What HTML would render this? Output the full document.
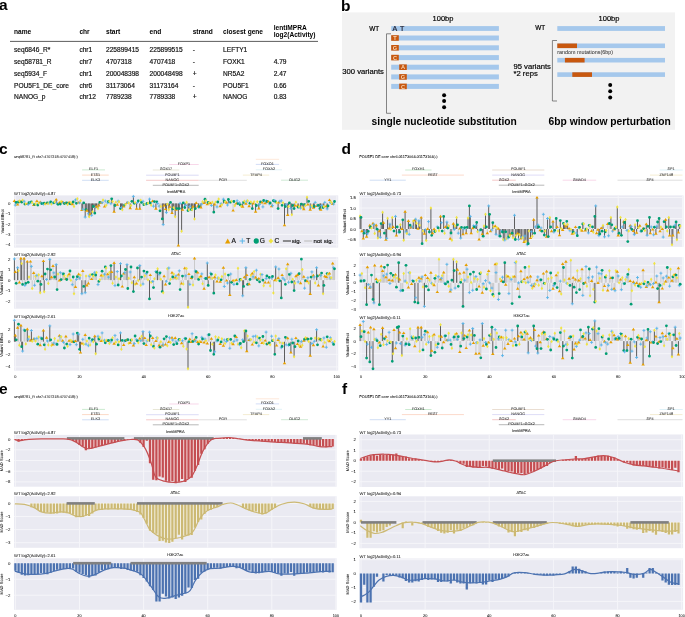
<!DOCTYPE html>
<html><head><meta charset="utf-8"><style>
html,body{margin:0;padding:0;background:#fff;overflow:hidden;width:685px;height:617px;}
svg{display:block;font-family:"Liberation Sans", sans-serif;will-change:transform;}
.s{text-rendering:geometricPrecision;}
</style></head><body>
<svg width="685" height="617" viewBox="0 0 685 617">
<rect x="0" y="0" width="685" height="617" fill="#fff"/>
<text x="-1.10" y="9.50" font-size="15.5" text-anchor="start" font-weight="bold" fill="#000">a</text>
<text x="14.00" y="33.60" font-size="6.6" text-anchor="start" font-weight="bold" fill="#000">name</text>
<text x="79.40" y="33.60" font-size="6.6" text-anchor="start" font-weight="bold" fill="#000">chr</text>
<text x="106.00" y="33.60" font-size="6.6" text-anchor="start" font-weight="bold" fill="#000">start</text>
<text x="149.60" y="33.60" font-size="6.6" text-anchor="start" font-weight="bold" fill="#000">end</text>
<text x="192.70" y="33.60" font-size="6.6" text-anchor="start" font-weight="bold" fill="#000">strand</text>
<text x="223.10" y="33.60" font-size="6.6" text-anchor="start" font-weight="bold" fill="#000">closest gene</text>
<text x="273.70" y="29.90" font-size="6.6" text-anchor="start" font-weight="bold" fill="#000">lentiMPRA</text>
<text x="273.70" y="37.00" font-size="6.6" text-anchor="start" font-weight="bold" fill="#000">log2(Activity)</text>
<line x1="10.00" y1="41.40" x2="318.00" y2="41.40" stroke="#333" stroke-width="0.8"/>
<text x="14.00" y="52.20" font-size="6.6" text-anchor="start" stroke="#111" stroke-width="0.18" fill="#111">seq6846_R*</text>
<text x="79.40" y="52.20" font-size="6.6" text-anchor="start" stroke="#111" stroke-width="0.18" fill="#111">chr1</text>
<text x="106.00" y="52.20" font-size="6.6" text-anchor="start" stroke="#111" stroke-width="0.18" fill="#111">225899415</text>
<text x="149.60" y="52.20" font-size="6.6" text-anchor="start" stroke="#111" stroke-width="0.18" fill="#111">225899515</text>
<text x="192.70" y="52.20" font-size="6.6" text-anchor="start" stroke="#111" stroke-width="0.18" fill="#111">-</text>
<text x="223.10" y="52.20" font-size="6.6" text-anchor="start" stroke="#111" stroke-width="0.18" fill="#111">LEFTY1</text>
<text x="14.00" y="64.00" font-size="6.6" text-anchor="start" stroke="#111" stroke-width="0.18" fill="#111">seq58781_R</text>
<text x="79.40" y="64.00" font-size="6.6" text-anchor="start" stroke="#111" stroke-width="0.18" fill="#111">chr7</text>
<text x="106.00" y="64.00" font-size="6.6" text-anchor="start" stroke="#111" stroke-width="0.18" fill="#111">4707318</text>
<text x="149.60" y="64.00" font-size="6.6" text-anchor="start" stroke="#111" stroke-width="0.18" fill="#111">4707418</text>
<text x="192.70" y="64.00" font-size="6.6" text-anchor="start" stroke="#111" stroke-width="0.18" fill="#111">-</text>
<text x="223.10" y="64.00" font-size="6.6" text-anchor="start" stroke="#111" stroke-width="0.18" fill="#111">FOXK1</text>
<text x="273.70" y="64.00" font-size="6.6" text-anchor="start" stroke="#111" stroke-width="0.18" fill="#111">4.79</text>
<text x="14.00" y="75.80" font-size="6.6" text-anchor="start" stroke="#111" stroke-width="0.18" fill="#111">seq5934_F</text>
<text x="79.40" y="75.80" font-size="6.6" text-anchor="start" stroke="#111" stroke-width="0.18" fill="#111">chr1</text>
<text x="106.00" y="75.80" font-size="6.6" text-anchor="start" stroke="#111" stroke-width="0.18" fill="#111">200048398</text>
<text x="149.60" y="75.80" font-size="6.6" text-anchor="start" stroke="#111" stroke-width="0.18" fill="#111">200048498</text>
<text x="192.70" y="75.80" font-size="6.6" text-anchor="start" stroke="#111" stroke-width="0.18" fill="#111">+</text>
<text x="223.10" y="75.80" font-size="6.6" text-anchor="start" stroke="#111" stroke-width="0.18" fill="#111">NR5A2</text>
<text x="273.70" y="75.80" font-size="6.6" text-anchor="start" stroke="#111" stroke-width="0.18" fill="#111">2.47</text>
<text x="14.00" y="87.50" font-size="6.6" text-anchor="start" stroke="#111" stroke-width="0.18" fill="#111">POU5F1_DE_core</text>
<text x="79.40" y="87.50" font-size="6.6" text-anchor="start" stroke="#111" stroke-width="0.18" fill="#111">chr6</text>
<text x="106.00" y="87.50" font-size="6.6" text-anchor="start" stroke="#111" stroke-width="0.18" fill="#111">31173064</text>
<text x="149.60" y="87.50" font-size="6.6" text-anchor="start" stroke="#111" stroke-width="0.18" fill="#111">31173164</text>
<text x="192.70" y="87.50" font-size="6.6" text-anchor="start" stroke="#111" stroke-width="0.18" fill="#111">-</text>
<text x="223.10" y="87.50" font-size="6.6" text-anchor="start" stroke="#111" stroke-width="0.18" fill="#111">POU5F1</text>
<text x="273.70" y="87.50" font-size="6.6" text-anchor="start" stroke="#111" stroke-width="0.18" fill="#111">0.66</text>
<text x="14.00" y="98.90" font-size="6.6" text-anchor="start" stroke="#111" stroke-width="0.18" fill="#111">NANOG_p</text>
<text x="79.40" y="98.90" font-size="6.6" text-anchor="start" stroke="#111" stroke-width="0.18" fill="#111">chr12</text>
<text x="106.00" y="98.90" font-size="6.6" text-anchor="start" stroke="#111" stroke-width="0.18" fill="#111">7789238</text>
<text x="149.60" y="98.90" font-size="6.6" text-anchor="start" stroke="#111" stroke-width="0.18" fill="#111">7789338</text>
<text x="192.70" y="98.90" font-size="6.6" text-anchor="start" stroke="#111" stroke-width="0.18" fill="#111">+</text>
<text x="223.10" y="98.90" font-size="6.6" text-anchor="start" stroke="#111" stroke-width="0.18" fill="#111">NANOG</text>
<text x="273.70" y="98.90" font-size="6.6" text-anchor="start" stroke="#111" stroke-width="0.18" fill="#111">0.83</text>
<text x="341.00" y="10.80" font-size="15.5" text-anchor="start" font-weight="bold" fill="#000">b</text>
<rect x="342.00" y="12.40" width="333.00" height="117.40" fill="#f2f2f2"/>
<text x="443.00" y="20.70" font-size="7.5" text-anchor="middle" stroke="#000" stroke-width="0.18" fill="#000">100bp</text>
<text x="369.30" y="30.60" font-size="6.4" text-anchor="start" stroke="#000" stroke-width="0.18" fill="#000">WT</text>
<rect x="391.20" y="26.10" width="107.70" height="4.80" fill="#a5c8ec"/>
<text x="392.60" y="31.00" font-size="7.0" text-anchor="start" stroke="#1a1a2a" stroke-width="0.18" fill="#1a1a2a">A</text>
<text x="400.00" y="31.00" font-size="7.0" text-anchor="start" stroke="#1a1a2a" stroke-width="0.18" fill="#1a1a2a">T</text>
<rect x="391.20" y="35.50" width="107.70" height="5.00" fill="#a5c8ec"/>
<rect x="391.20" y="35.20" width="7.60" height="5.60" fill="#c8580f"/>
<text x="395.00" y="40.10" font-size="5.6" text-anchor="middle" font-weight="bold" fill="#f6d7b8">T</text>
<rect x="391.20" y="45.30" width="107.70" height="5.00" fill="#a5c8ec"/>
<rect x="391.20" y="45.00" width="7.60" height="5.60" fill="#c8580f"/>
<text x="395.00" y="49.90" font-size="5.6" text-anchor="middle" font-weight="bold" fill="#f6d7b8">G</text>
<rect x="391.20" y="55.10" width="107.70" height="5.00" fill="#a5c8ec"/>
<rect x="391.20" y="54.80" width="7.60" height="5.60" fill="#c8580f"/>
<text x="395.00" y="59.70" font-size="5.6" text-anchor="middle" font-weight="bold" fill="#f6d7b8">C</text>
<rect x="391.20" y="64.70" width="107.70" height="5.00" fill="#a5c8ec"/>
<rect x="399.20" y="64.40" width="7.60" height="5.60" fill="#c8580f"/>
<text x="403.00" y="69.30" font-size="5.6" text-anchor="middle" font-weight="bold" fill="#f6d7b8">A</text>
<rect x="391.20" y="74.40" width="107.70" height="5.00" fill="#a5c8ec"/>
<rect x="399.20" y="74.10" width="7.60" height="5.60" fill="#c8580f"/>
<text x="403.00" y="79.00" font-size="5.6" text-anchor="middle" font-weight="bold" fill="#f6d7b8">G</text>
<rect x="391.20" y="83.90" width="107.70" height="5.00" fill="#a5c8ec"/>
<rect x="399.20" y="83.60" width="7.60" height="5.60" fill="#c8580f"/>
<text x="403.00" y="88.50" font-size="5.6" text-anchor="middle" font-weight="bold" fill="#f6d7b8">C</text>
<path d="M391 33.8 H386.5 V113.3 H391" fill="none" stroke="#555" stroke-width="0.7"/>
<text x="342.30" y="73.70" font-size="7.65" text-anchor="start" stroke="#000" stroke-width="0.18" fill="#000">300 variants</text>
<circle cx="444.10" cy="95.20" r="2.00" fill="#000"/>
<circle cx="444.10" cy="101.10" r="2.00" fill="#000"/>
<circle cx="444.10" cy="107.20" r="2.00" fill="#000"/>
<text x="444.20" y="125.20" font-size="10.26" text-anchor="middle" font-weight="bold" fill="#000">single nucleotide substitution</text>
<text x="609.00" y="20.70" font-size="7.5" text-anchor="middle" stroke="#000" stroke-width="0.18" fill="#000">100bp</text>
<text x="535.30" y="30.40" font-size="6.4" text-anchor="start" stroke="#000" stroke-width="0.18" fill="#000">WT</text>
<rect x="557.30" y="26.10" width="107.70" height="4.80" fill="#a5c8ec"/>
<path d="M557 40.5 H552.4 V101 H557" fill="none" stroke="#555" stroke-width="0.7"/>
<rect x="557.30" y="43.50" width="107.70" height="4.60" fill="#a5c8ec"/>
<rect x="557.30" y="43.50" width="19.70" height="4.60" fill="#c8580f"/>
<rect x="557.30" y="57.90" width="107.70" height="4.60" fill="#a5c8ec"/>
<rect x="564.90" y="57.90" width="19.70" height="4.60" fill="#c8580f"/>
<rect x="557.30" y="72.30" width="107.70" height="4.60" fill="#a5c8ec"/>
<rect x="572.30" y="72.30" width="19.70" height="4.60" fill="#c8580f"/>
<text x="557.30" y="53.80" font-size="5.4" text-anchor="start" fill="#222" >random mutations(6bp)</text>
<text x="513.50" y="68.80" font-size="7.65" text-anchor="start" stroke="#000" stroke-width="0.18" fill="#000">95 variants</text>
<text x="513.50" y="76.30" font-size="7.65" text-anchor="start" stroke="#000" stroke-width="0.18" fill="#000">*2 reps</text>
<circle cx="610.20" cy="85.00" r="2.00" fill="#000"/>
<circle cx="610.20" cy="91.20" r="2.00" fill="#000"/>
<circle cx="610.20" cy="97.60" r="2.00" fill="#000"/>
<text x="609.70" y="125.20" font-size="10.29" text-anchor="middle" font-weight="bold" fill="#000">6bp window perturbation</text>
<text x="-1.10" y="154.10" font-size="15.5" text-anchor="start" font-weight="bold" fill="#000">c</text>
<text x="341.60" y="153.80" font-size="15.5" text-anchor="start" font-weight="bold" fill="#000">d</text>
<text x="-1.10" y="393.70" font-size="15.5" text-anchor="start" font-weight="bold" fill="#000">e</text>
<text x="341.90" y="393.80" font-size="15.5" text-anchor="start" font-weight="bold" fill="#000">f</text>
<text x="14.00" y="157.90" font-size="3.7" text-anchor="start" class="s" stroke="#111" stroke-width="0.05" fill="#111">seq58781_R chr7:4707318-4707418(-)</text>
<text x="359.20" y="157.90" font-size="3.85" text-anchor="start" class="s" stroke="#111" stroke-width="0.05" fill="#111">POU5F1 DE core chr6:31173064-31173164(-)</text>
<text x="14.00" y="397.60" font-size="3.7" text-anchor="start" class="s" stroke="#111" stroke-width="0.05" fill="#111">seq58781_R chr7:4707318-4707418(-)</text>
<text x="359.20" y="397.60" font-size="3.85" text-anchor="start" class="s" stroke="#111" stroke-width="0.05" fill="#111">POU5F1 DE core chr6:31173064-31173164(-)</text>
<rect x="14.00" y="195.40" width="324.20" height="52.20" fill="#eaeaf2"/>
<line x1="14.00" y1="203.40" x2="338.20" y2="203.40" stroke="#f5f5f9" stroke-width="1.0"/>
<line x1="14.00" y1="213.75" x2="338.20" y2="213.75" stroke="#f5f5f9" stroke-width="1.0"/>
<line x1="14.00" y1="224.10" x2="338.20" y2="224.10" stroke="#f5f5f9" stroke-width="1.0"/>
<line x1="14.00" y1="234.45" x2="338.20" y2="234.45" stroke="#f5f5f9" stroke-width="1.0"/>
<line x1="14.00" y1="244.80" x2="338.20" y2="244.80" stroke="#f5f5f9" stroke-width="1.0"/>
<line x1="15.30" y1="195.40" x2="15.30" y2="247.60" stroke="#f5f5f9" stroke-width="1.0"/>
<line x1="79.60" y1="195.40" x2="79.60" y2="247.60" stroke="#f5f5f9" stroke-width="1.0"/>
<line x1="143.90" y1="195.40" x2="143.90" y2="247.60" stroke="#f5f5f9" stroke-width="1.0"/>
<line x1="208.20" y1="195.40" x2="208.20" y2="247.60" stroke="#f5f5f9" stroke-width="1.0"/>
<line x1="272.50" y1="195.40" x2="272.50" y2="247.60" stroke="#f5f5f9" stroke-width="1.0"/>
<line x1="336.80" y1="195.40" x2="336.80" y2="247.60" stroke="#f5f5f9" stroke-width="1.0"/>
<text x="10.40" y="204.90" font-size="4.3" text-anchor="end" class="s" stroke="#111" stroke-width="0.05" fill="#111">0</text>
<text x="10.40" y="215.25" font-size="4.3" text-anchor="end" class="s" stroke="#111" stroke-width="0.05" fill="#111">−1</text>
<text x="10.40" y="225.60" font-size="4.3" text-anchor="end" class="s" stroke="#111" stroke-width="0.05" fill="#111">−2</text>
<text x="10.40" y="235.95" font-size="4.3" text-anchor="end" class="s" stroke="#111" stroke-width="0.05" fill="#111">−3</text>
<text x="10.40" y="246.30" font-size="4.3" text-anchor="end" class="s" stroke="#111" stroke-width="0.05" fill="#111">−4</text>
<text x="176.10" y="193.30" font-size="3.9" text-anchor="middle" class="s" stroke="#111" stroke-width="0.05" fill="#111">lentiMPRA</text>
<text x="14.00" y="194.50" font-size="4.14" text-anchor="start" class="s" stroke="#111" stroke-width="0.05" fill="#111">WT log2(Activity)=4.87</text>
<text x="3.50" y="221.50" font-size="4.1" text-anchor="middle" class="s" stroke="#111" stroke-width="0.05" fill="#111" transform="rotate(-90 3.50 221.50)">Variant Effect</text>
<rect x="359.50" y="195.40" width="324.00" height="51.50" fill="#eaeaf2"/>
<line x1="359.50" y1="197.50" x2="683.50" y2="197.50" stroke="#f5f5f9" stroke-width="1.0"/>
<line x1="359.50" y1="208.00" x2="683.50" y2="208.00" stroke="#f5f5f9" stroke-width="1.0"/>
<line x1="359.50" y1="218.50" x2="683.50" y2="218.50" stroke="#f5f5f9" stroke-width="1.0"/>
<line x1="359.50" y1="229.00" x2="683.50" y2="229.00" stroke="#f5f5f9" stroke-width="1.0"/>
<line x1="359.50" y1="239.50" x2="683.50" y2="239.50" stroke="#f5f5f9" stroke-width="1.0"/>
<line x1="361.00" y1="195.40" x2="361.00" y2="246.90" stroke="#f5f5f9" stroke-width="1.0"/>
<line x1="425.30" y1="195.40" x2="425.30" y2="246.90" stroke="#f5f5f9" stroke-width="1.0"/>
<line x1="489.60" y1="195.40" x2="489.60" y2="246.90" stroke="#f5f5f9" stroke-width="1.0"/>
<line x1="553.90" y1="195.40" x2="553.90" y2="246.90" stroke="#f5f5f9" stroke-width="1.0"/>
<line x1="618.20" y1="195.40" x2="618.20" y2="246.90" stroke="#f5f5f9" stroke-width="1.0"/>
<line x1="682.50" y1="195.40" x2="682.50" y2="246.90" stroke="#f5f5f9" stroke-width="1.0"/>
<text x="355.90" y="199.00" font-size="4.3" text-anchor="end" class="s" stroke="#111" stroke-width="0.05" fill="#111">1.5</text>
<text x="355.90" y="209.50" font-size="4.3" text-anchor="end" class="s" stroke="#111" stroke-width="0.05" fill="#111">1.0</text>
<text x="355.90" y="220.00" font-size="4.3" text-anchor="end" class="s" stroke="#111" stroke-width="0.05" fill="#111">0.5</text>
<text x="355.90" y="230.50" font-size="4.3" text-anchor="end" class="s" stroke="#111" stroke-width="0.05" fill="#111">0.0</text>
<text x="355.90" y="241.00" font-size="4.3" text-anchor="end" class="s" stroke="#111" stroke-width="0.05" fill="#111">−0.5</text>
<text x="521.50" y="193.30" font-size="3.9" text-anchor="middle" class="s" stroke="#111" stroke-width="0.05" fill="#111">lentiMPRA</text>
<text x="359.50" y="194.50" font-size="4.14" text-anchor="start" class="s" stroke="#111" stroke-width="0.05" fill="#111">WT log2(Activity)=0.73</text>
<text x="345.60" y="221.15" font-size="4.1" text-anchor="middle" class="s" stroke="#111" stroke-width="0.05" fill="#111" transform="rotate(-90 345.60 221.15)">Variant Effect</text>
<rect x="14.00" y="434.90" width="322.60" height="51.80" fill="#eaeaf2"/>
<line x1="14.00" y1="439.10" x2="336.60" y2="439.10" stroke="#f5f5f9" stroke-width="1.0"/>
<line x1="14.00" y1="449.80" x2="336.60" y2="449.80" stroke="#f5f5f9" stroke-width="1.0"/>
<line x1="14.00" y1="460.50" x2="336.60" y2="460.50" stroke="#f5f5f9" stroke-width="1.0"/>
<line x1="14.00" y1="471.20" x2="336.60" y2="471.20" stroke="#f5f5f9" stroke-width="1.0"/>
<line x1="14.00" y1="481.90" x2="336.60" y2="481.90" stroke="#f5f5f9" stroke-width="1.0"/>
<line x1="15.40" y1="434.90" x2="15.40" y2="486.70" stroke="#f5f5f9" stroke-width="1.0"/>
<line x1="79.50" y1="434.90" x2="79.50" y2="486.70" stroke="#f5f5f9" stroke-width="1.0"/>
<line x1="143.60" y1="434.90" x2="143.60" y2="486.70" stroke="#f5f5f9" stroke-width="1.0"/>
<line x1="207.70" y1="434.90" x2="207.70" y2="486.70" stroke="#f5f5f9" stroke-width="1.0"/>
<line x1="271.80" y1="434.90" x2="271.80" y2="486.70" stroke="#f5f5f9" stroke-width="1.0"/>
<line x1="335.90" y1="434.90" x2="335.90" y2="486.70" stroke="#f5f5f9" stroke-width="1.0"/>
<text x="10.40" y="440.60" font-size="4.3" text-anchor="end" class="s" stroke="#111" stroke-width="0.05" fill="#111">0</text>
<text x="10.40" y="451.30" font-size="4.3" text-anchor="end" class="s" stroke="#111" stroke-width="0.05" fill="#111">−2</text>
<text x="10.40" y="462.00" font-size="4.3" text-anchor="end" class="s" stroke="#111" stroke-width="0.05" fill="#111">−4</text>
<text x="10.40" y="472.70" font-size="4.3" text-anchor="end" class="s" stroke="#111" stroke-width="0.05" fill="#111">−6</text>
<text x="10.40" y="483.40" font-size="4.3" text-anchor="end" class="s" stroke="#111" stroke-width="0.05" fill="#111">−8</text>
<text x="175.30" y="432.80" font-size="3.9" text-anchor="middle" class="s" stroke="#111" stroke-width="0.05" fill="#111">lentiMPRA</text>
<text x="14.00" y="434.00" font-size="4.14" text-anchor="start" class="s" stroke="#111" stroke-width="0.05" fill="#111">WT log2(Activity)=4.87</text>
<text x="3.50" y="460.80" font-size="4.1" text-anchor="middle" class="s" stroke="#111" stroke-width="0.05" fill="#111" transform="rotate(-90 3.50 460.80)">MAD Score</text>
<rect x="359.50" y="434.50" width="323.60" height="52.50" fill="#eaeaf2"/>
<line x1="359.50" y1="439.70" x2="683.10" y2="439.70" stroke="#f5f5f9" stroke-width="1.0"/>
<line x1="359.50" y1="450.20" x2="683.10" y2="450.20" stroke="#f5f5f9" stroke-width="1.0"/>
<line x1="359.50" y1="460.70" x2="683.10" y2="460.70" stroke="#f5f5f9" stroke-width="1.0"/>
<line x1="359.50" y1="471.20" x2="683.10" y2="471.20" stroke="#f5f5f9" stroke-width="1.0"/>
<line x1="359.50" y1="481.70" x2="683.10" y2="481.70" stroke="#f5f5f9" stroke-width="1.0"/>
<line x1="361.00" y1="434.50" x2="361.00" y2="487.00" stroke="#f5f5f9" stroke-width="1.0"/>
<line x1="425.14" y1="434.50" x2="425.14" y2="487.00" stroke="#f5f5f9" stroke-width="1.0"/>
<line x1="489.28" y1="434.50" x2="489.28" y2="487.00" stroke="#f5f5f9" stroke-width="1.0"/>
<line x1="553.42" y1="434.50" x2="553.42" y2="487.00" stroke="#f5f5f9" stroke-width="1.0"/>
<line x1="617.56" y1="434.50" x2="617.56" y2="487.00" stroke="#f5f5f9" stroke-width="1.0"/>
<line x1="681.70" y1="434.50" x2="681.70" y2="487.00" stroke="#f5f5f9" stroke-width="1.0"/>
<text x="355.90" y="441.20" font-size="4.3" text-anchor="end" class="s" stroke="#111" stroke-width="0.05" fill="#111">2</text>
<text x="355.90" y="451.70" font-size="4.3" text-anchor="end" class="s" stroke="#111" stroke-width="0.05" fill="#111">1</text>
<text x="355.90" y="462.20" font-size="4.3" text-anchor="end" class="s" stroke="#111" stroke-width="0.05" fill="#111">0</text>
<text x="355.90" y="472.70" font-size="4.3" text-anchor="end" class="s" stroke="#111" stroke-width="0.05" fill="#111">−1</text>
<text x="355.90" y="483.20" font-size="4.3" text-anchor="end" class="s" stroke="#111" stroke-width="0.05" fill="#111">−2</text>
<text x="521.30" y="432.40" font-size="3.9" text-anchor="middle" class="s" stroke="#111" stroke-width="0.05" fill="#111">lentiMPRA</text>
<text x="359.50" y="433.60" font-size="4.14" text-anchor="start" class="s" stroke="#111" stroke-width="0.05" fill="#111">WT log2(Activity)=0.73</text>
<text x="349.00" y="460.75" font-size="4.1" text-anchor="middle" class="s" stroke="#111" stroke-width="0.05" fill="#111" transform="rotate(-90 349.00 460.75)">MAD Score</text>
<rect x="14.00" y="257.10" width="324.20" height="51.60" fill="#eaeaf2"/>
<line x1="14.00" y1="259.40" x2="338.20" y2="259.40" stroke="#f5f5f9" stroke-width="1.0"/>
<line x1="14.00" y1="269.80" x2="338.20" y2="269.80" stroke="#f5f5f9" stroke-width="1.0"/>
<line x1="14.00" y1="280.20" x2="338.20" y2="280.20" stroke="#f5f5f9" stroke-width="1.0"/>
<line x1="14.00" y1="290.60" x2="338.20" y2="290.60" stroke="#f5f5f9" stroke-width="1.0"/>
<line x1="14.00" y1="301.00" x2="338.20" y2="301.00" stroke="#f5f5f9" stroke-width="1.0"/>
<line x1="15.30" y1="257.10" x2="15.30" y2="308.70" stroke="#f5f5f9" stroke-width="1.0"/>
<line x1="79.60" y1="257.10" x2="79.60" y2="308.70" stroke="#f5f5f9" stroke-width="1.0"/>
<line x1="143.90" y1="257.10" x2="143.90" y2="308.70" stroke="#f5f5f9" stroke-width="1.0"/>
<line x1="208.20" y1="257.10" x2="208.20" y2="308.70" stroke="#f5f5f9" stroke-width="1.0"/>
<line x1="272.50" y1="257.10" x2="272.50" y2="308.70" stroke="#f5f5f9" stroke-width="1.0"/>
<line x1="336.80" y1="257.10" x2="336.80" y2="308.70" stroke="#f5f5f9" stroke-width="1.0"/>
<text x="10.40" y="260.90" font-size="4.3" text-anchor="end" class="s" stroke="#111" stroke-width="0.05" fill="#111">2</text>
<text x="10.40" y="271.30" font-size="4.3" text-anchor="end" class="s" stroke="#111" stroke-width="0.05" fill="#111">1</text>
<text x="10.40" y="281.70" font-size="4.3" text-anchor="end" class="s" stroke="#111" stroke-width="0.05" fill="#111">0</text>
<text x="10.40" y="292.10" font-size="4.3" text-anchor="end" class="s" stroke="#111" stroke-width="0.05" fill="#111">−1</text>
<text x="10.40" y="302.50" font-size="4.3" text-anchor="end" class="s" stroke="#111" stroke-width="0.05" fill="#111">−2</text>
<text x="176.10" y="255.00" font-size="3.9" text-anchor="middle" class="s" stroke="#111" stroke-width="0.05" fill="#111">ATAC</text>
<text x="14.00" y="256.20" font-size="4.14" text-anchor="start" class="s" stroke="#111" stroke-width="0.05" fill="#111">WT log2(Activity)=2.92</text>
<text x="3.50" y="282.90" font-size="4.1" text-anchor="middle" class="s" stroke="#111" stroke-width="0.05" fill="#111" transform="rotate(-90 3.50 282.90)">Variant Effect</text>
<rect x="359.50" y="257.10" width="324.00" height="51.80" fill="#eaeaf2"/>
<line x1="359.50" y1="265.30" x2="683.50" y2="265.30" stroke="#f5f5f9" stroke-width="1.0"/>
<line x1="359.50" y1="274.05" x2="683.50" y2="274.05" stroke="#f5f5f9" stroke-width="1.0"/>
<line x1="359.50" y1="282.80" x2="683.50" y2="282.80" stroke="#f5f5f9" stroke-width="1.0"/>
<line x1="359.50" y1="291.55" x2="683.50" y2="291.55" stroke="#f5f5f9" stroke-width="1.0"/>
<line x1="359.50" y1="300.30" x2="683.50" y2="300.30" stroke="#f5f5f9" stroke-width="1.0"/>
<line x1="359.50" y1="309.05" x2="683.50" y2="309.05" stroke="#f5f5f9" stroke-width="1.0"/>
<line x1="361.00" y1="257.10" x2="361.00" y2="308.90" stroke="#f5f5f9" stroke-width="1.0"/>
<line x1="425.30" y1="257.10" x2="425.30" y2="308.90" stroke="#f5f5f9" stroke-width="1.0"/>
<line x1="489.60" y1="257.10" x2="489.60" y2="308.90" stroke="#f5f5f9" stroke-width="1.0"/>
<line x1="553.90" y1="257.10" x2="553.90" y2="308.90" stroke="#f5f5f9" stroke-width="1.0"/>
<line x1="618.20" y1="257.10" x2="618.20" y2="308.90" stroke="#f5f5f9" stroke-width="1.0"/>
<line x1="682.50" y1="257.10" x2="682.50" y2="308.90" stroke="#f5f5f9" stroke-width="1.0"/>
<text x="355.90" y="266.80" font-size="4.3" text-anchor="end" class="s" stroke="#111" stroke-width="0.05" fill="#111">2</text>
<text x="355.90" y="275.55" font-size="4.3" text-anchor="end" class="s" stroke="#111" stroke-width="0.05" fill="#111">1</text>
<text x="355.90" y="284.30" font-size="4.3" text-anchor="end" class="s" stroke="#111" stroke-width="0.05" fill="#111">0</text>
<text x="355.90" y="293.05" font-size="4.3" text-anchor="end" class="s" stroke="#111" stroke-width="0.05" fill="#111">−1</text>
<text x="355.90" y="301.80" font-size="4.3" text-anchor="end" class="s" stroke="#111" stroke-width="0.05" fill="#111">−2</text>
<text x="355.90" y="310.55" font-size="4.3" text-anchor="end" class="s" stroke="#111" stroke-width="0.05" fill="#111">−3</text>
<text x="521.50" y="255.00" font-size="3.9" text-anchor="middle" class="s" stroke="#111" stroke-width="0.05" fill="#111">ATAC</text>
<text x="359.50" y="256.20" font-size="4.14" text-anchor="start" class="s" stroke="#111" stroke-width="0.05" fill="#111">WT log2(Activity)=0.94</text>
<text x="348.90" y="283.00" font-size="4.1" text-anchor="middle" class="s" stroke="#111" stroke-width="0.05" fill="#111" transform="rotate(-90 348.90 283.00)">Variant Effect</text>
<rect x="14.00" y="496.30" width="322.60" height="51.50" fill="#eaeaf2"/>
<line x1="14.00" y1="503.40" x2="336.60" y2="503.40" stroke="#f5f5f9" stroke-width="1.0"/>
<line x1="14.00" y1="516.50" x2="336.60" y2="516.50" stroke="#f5f5f9" stroke-width="1.0"/>
<line x1="14.00" y1="529.60" x2="336.60" y2="529.60" stroke="#f5f5f9" stroke-width="1.0"/>
<line x1="14.00" y1="542.70" x2="336.60" y2="542.70" stroke="#f5f5f9" stroke-width="1.0"/>
<line x1="15.40" y1="496.30" x2="15.40" y2="547.80" stroke="#f5f5f9" stroke-width="1.0"/>
<line x1="79.50" y1="496.30" x2="79.50" y2="547.80" stroke="#f5f5f9" stroke-width="1.0"/>
<line x1="143.60" y1="496.30" x2="143.60" y2="547.80" stroke="#f5f5f9" stroke-width="1.0"/>
<line x1="207.70" y1="496.30" x2="207.70" y2="547.80" stroke="#f5f5f9" stroke-width="1.0"/>
<line x1="271.80" y1="496.30" x2="271.80" y2="547.80" stroke="#f5f5f9" stroke-width="1.0"/>
<line x1="335.90" y1="496.30" x2="335.90" y2="547.80" stroke="#f5f5f9" stroke-width="1.0"/>
<text x="10.40" y="504.90" font-size="4.3" text-anchor="end" class="s" stroke="#111" stroke-width="0.05" fill="#111">0</text>
<text x="10.40" y="518.00" font-size="4.3" text-anchor="end" class="s" stroke="#111" stroke-width="0.05" fill="#111">−1</text>
<text x="10.40" y="531.10" font-size="4.3" text-anchor="end" class="s" stroke="#111" stroke-width="0.05" fill="#111">−2</text>
<text x="10.40" y="544.20" font-size="4.3" text-anchor="end" class="s" stroke="#111" stroke-width="0.05" fill="#111">−3</text>
<text x="175.30" y="494.20" font-size="3.9" text-anchor="middle" class="s" stroke="#111" stroke-width="0.05" fill="#111">ATAC</text>
<text x="14.00" y="495.40" font-size="4.14" text-anchor="start" class="s" stroke="#111" stroke-width="0.05" fill="#111">WT log2(Activity)=2.92</text>
<text x="3.50" y="522.05" font-size="4.1" text-anchor="middle" class="s" stroke="#111" stroke-width="0.05" fill="#111" transform="rotate(-90 3.50 522.05)">MAD Score</text>
<rect x="359.50" y="496.30" width="323.60" height="51.90" fill="#eaeaf2"/>
<line x1="359.50" y1="501.40" x2="683.10" y2="501.40" stroke="#f5f5f9" stroke-width="1.0"/>
<line x1="359.50" y1="511.90" x2="683.10" y2="511.90" stroke="#f5f5f9" stroke-width="1.0"/>
<line x1="359.50" y1="522.40" x2="683.10" y2="522.40" stroke="#f5f5f9" stroke-width="1.0"/>
<line x1="359.50" y1="532.90" x2="683.10" y2="532.90" stroke="#f5f5f9" stroke-width="1.0"/>
<line x1="359.50" y1="543.40" x2="683.10" y2="543.40" stroke="#f5f5f9" stroke-width="1.0"/>
<line x1="361.00" y1="496.30" x2="361.00" y2="548.20" stroke="#f5f5f9" stroke-width="1.0"/>
<line x1="425.14" y1="496.30" x2="425.14" y2="548.20" stroke="#f5f5f9" stroke-width="1.0"/>
<line x1="489.28" y1="496.30" x2="489.28" y2="548.20" stroke="#f5f5f9" stroke-width="1.0"/>
<line x1="553.42" y1="496.30" x2="553.42" y2="548.20" stroke="#f5f5f9" stroke-width="1.0"/>
<line x1="617.56" y1="496.30" x2="617.56" y2="548.20" stroke="#f5f5f9" stroke-width="1.0"/>
<line x1="681.70" y1="496.30" x2="681.70" y2="548.20" stroke="#f5f5f9" stroke-width="1.0"/>
<text x="355.90" y="502.90" font-size="4.3" text-anchor="end" class="s" stroke="#111" stroke-width="0.05" fill="#111">2</text>
<text x="355.90" y="513.40" font-size="4.3" text-anchor="end" class="s" stroke="#111" stroke-width="0.05" fill="#111">1</text>
<text x="355.90" y="523.90" font-size="4.3" text-anchor="end" class="s" stroke="#111" stroke-width="0.05" fill="#111">0</text>
<text x="355.90" y="534.40" font-size="4.3" text-anchor="end" class="s" stroke="#111" stroke-width="0.05" fill="#111">−1</text>
<text x="355.90" y="544.90" font-size="4.3" text-anchor="end" class="s" stroke="#111" stroke-width="0.05" fill="#111">−2</text>
<text x="521.30" y="494.20" font-size="3.9" text-anchor="middle" class="s" stroke="#111" stroke-width="0.05" fill="#111">ATAC</text>
<text x="359.50" y="495.40" font-size="4.14" text-anchor="start" class="s" stroke="#111" stroke-width="0.05" fill="#111">WT log2(Activity)=0.94</text>
<text x="349.00" y="522.25" font-size="4.1" text-anchor="middle" class="s" stroke="#111" stroke-width="0.05" fill="#111" transform="rotate(-90 349.00 522.25)">MAD Score</text>
<rect x="14.00" y="319.10" width="324.20" height="51.60" fill="#eaeaf2"/>
<line x1="14.00" y1="329.10" x2="338.20" y2="329.10" stroke="#f5f5f9" stroke-width="1.0"/>
<line x1="14.00" y1="341.70" x2="338.20" y2="341.70" stroke="#f5f5f9" stroke-width="1.0"/>
<line x1="14.00" y1="354.30" x2="338.20" y2="354.30" stroke="#f5f5f9" stroke-width="1.0"/>
<line x1="14.00" y1="366.90" x2="338.20" y2="366.90" stroke="#f5f5f9" stroke-width="1.0"/>
<line x1="15.30" y1="319.10" x2="15.30" y2="370.70" stroke="#f5f5f9" stroke-width="1.0"/>
<line x1="79.60" y1="319.10" x2="79.60" y2="370.70" stroke="#f5f5f9" stroke-width="1.0"/>
<line x1="143.90" y1="319.10" x2="143.90" y2="370.70" stroke="#f5f5f9" stroke-width="1.0"/>
<line x1="208.20" y1="319.10" x2="208.20" y2="370.70" stroke="#f5f5f9" stroke-width="1.0"/>
<line x1="272.50" y1="319.10" x2="272.50" y2="370.70" stroke="#f5f5f9" stroke-width="1.0"/>
<line x1="336.80" y1="319.10" x2="336.80" y2="370.70" stroke="#f5f5f9" stroke-width="1.0"/>
<text x="10.40" y="330.60" font-size="4.3" text-anchor="end" class="s" stroke="#111" stroke-width="0.05" fill="#111">2</text>
<text x="10.40" y="343.20" font-size="4.3" text-anchor="end" class="s" stroke="#111" stroke-width="0.05" fill="#111">0</text>
<text x="10.40" y="355.80" font-size="4.3" text-anchor="end" class="s" stroke="#111" stroke-width="0.05" fill="#111">−2</text>
<text x="10.40" y="368.40" font-size="4.3" text-anchor="end" class="s" stroke="#111" stroke-width="0.05" fill="#111">−4</text>
<text x="15.30" y="377.70" font-size="3.9" text-anchor="middle" class="s" stroke="#111" stroke-width="0.05" fill="#111">0</text>
<text x="79.60" y="377.70" font-size="3.9" text-anchor="middle" class="s" stroke="#111" stroke-width="0.05" fill="#111">20</text>
<text x="143.90" y="377.70" font-size="3.9" text-anchor="middle" class="s" stroke="#111" stroke-width="0.05" fill="#111">40</text>
<text x="208.20" y="377.70" font-size="3.9" text-anchor="middle" class="s" stroke="#111" stroke-width="0.05" fill="#111">60</text>
<text x="272.50" y="377.70" font-size="3.9" text-anchor="middle" class="s" stroke="#111" stroke-width="0.05" fill="#111">80</text>
<text x="336.80" y="377.70" font-size="3.9" text-anchor="middle" class="s" stroke="#111" stroke-width="0.05" fill="#111">100</text>
<text x="176.10" y="317.00" font-size="3.9" text-anchor="middle" class="s" stroke="#111" stroke-width="0.05" fill="#111">H3K27ac</text>
<text x="14.00" y="318.20" font-size="4.14" text-anchor="start" class="s" stroke="#111" stroke-width="0.05" fill="#111">WT log2(Activity)=2.61</text>
<text x="3.50" y="344.90" font-size="4.1" text-anchor="middle" class="s" stroke="#111" stroke-width="0.05" fill="#111" transform="rotate(-90 3.50 344.90)">Variant Effect</text>
<rect x="359.50" y="319.50" width="324.00" height="51.40" fill="#eaeaf2"/>
<line x1="359.50" y1="328.50" x2="683.50" y2="328.50" stroke="#f5f5f9" stroke-width="1.0"/>
<line x1="359.50" y1="341.10" x2="683.50" y2="341.10" stroke="#f5f5f9" stroke-width="1.0"/>
<line x1="359.50" y1="353.70" x2="683.50" y2="353.70" stroke="#f5f5f9" stroke-width="1.0"/>
<line x1="359.50" y1="366.30" x2="683.50" y2="366.30" stroke="#f5f5f9" stroke-width="1.0"/>
<line x1="361.00" y1="319.50" x2="361.00" y2="370.90" stroke="#f5f5f9" stroke-width="1.0"/>
<line x1="425.30" y1="319.50" x2="425.30" y2="370.90" stroke="#f5f5f9" stroke-width="1.0"/>
<line x1="489.60" y1="319.50" x2="489.60" y2="370.90" stroke="#f5f5f9" stroke-width="1.0"/>
<line x1="553.90" y1="319.50" x2="553.90" y2="370.90" stroke="#f5f5f9" stroke-width="1.0"/>
<line x1="618.20" y1="319.50" x2="618.20" y2="370.90" stroke="#f5f5f9" stroke-width="1.0"/>
<line x1="682.50" y1="319.50" x2="682.50" y2="370.90" stroke="#f5f5f9" stroke-width="1.0"/>
<text x="355.90" y="330.00" font-size="4.3" text-anchor="end" class="s" stroke="#111" stroke-width="0.05" fill="#111">2</text>
<text x="355.90" y="342.60" font-size="4.3" text-anchor="end" class="s" stroke="#111" stroke-width="0.05" fill="#111">0</text>
<text x="355.90" y="355.20" font-size="4.3" text-anchor="end" class="s" stroke="#111" stroke-width="0.05" fill="#111">−2</text>
<text x="355.90" y="367.80" font-size="4.3" text-anchor="end" class="s" stroke="#111" stroke-width="0.05" fill="#111">−4</text>
<text x="361.00" y="377.90" font-size="3.9" text-anchor="middle" class="s" stroke="#111" stroke-width="0.05" fill="#111">0</text>
<text x="425.30" y="377.90" font-size="3.9" text-anchor="middle" class="s" stroke="#111" stroke-width="0.05" fill="#111">20</text>
<text x="489.60" y="377.90" font-size="3.9" text-anchor="middle" class="s" stroke="#111" stroke-width="0.05" fill="#111">40</text>
<text x="553.90" y="377.90" font-size="3.9" text-anchor="middle" class="s" stroke="#111" stroke-width="0.05" fill="#111">60</text>
<text x="618.20" y="377.90" font-size="3.9" text-anchor="middle" class="s" stroke="#111" stroke-width="0.05" fill="#111">80</text>
<text x="682.50" y="377.90" font-size="3.9" text-anchor="middle" class="s" stroke="#111" stroke-width="0.05" fill="#111">100</text>
<text x="521.50" y="317.40" font-size="3.9" text-anchor="middle" class="s" stroke="#111" stroke-width="0.05" fill="#111">H3K27ac</text>
<text x="359.50" y="318.60" font-size="4.14" text-anchor="start" class="s" stroke="#111" stroke-width="0.05" fill="#111">WT log2(Activity)=0.11</text>
<text x="348.90" y="345.20" font-size="4.1" text-anchor="middle" class="s" stroke="#111" stroke-width="0.05" fill="#111" transform="rotate(-90 348.90 345.20)">Variant Effect</text>
<rect x="14.00" y="558.30" width="322.60" height="51.50" fill="#eaeaf2"/>
<line x1="14.00" y1="563.20" x2="336.60" y2="563.20" stroke="#f5f5f9" stroke-width="1.0"/>
<line x1="14.00" y1="579.20" x2="336.60" y2="579.20" stroke="#f5f5f9" stroke-width="1.0"/>
<line x1="14.00" y1="595.20" x2="336.60" y2="595.20" stroke="#f5f5f9" stroke-width="1.0"/>
<line x1="15.40" y1="558.30" x2="15.40" y2="609.80" stroke="#f5f5f9" stroke-width="1.0"/>
<line x1="79.50" y1="558.30" x2="79.50" y2="609.80" stroke="#f5f5f9" stroke-width="1.0"/>
<line x1="143.60" y1="558.30" x2="143.60" y2="609.80" stroke="#f5f5f9" stroke-width="1.0"/>
<line x1="207.70" y1="558.30" x2="207.70" y2="609.80" stroke="#f5f5f9" stroke-width="1.0"/>
<line x1="271.80" y1="558.30" x2="271.80" y2="609.80" stroke="#f5f5f9" stroke-width="1.0"/>
<line x1="335.90" y1="558.30" x2="335.90" y2="609.80" stroke="#f5f5f9" stroke-width="1.0"/>
<text x="10.40" y="564.70" font-size="4.3" text-anchor="end" class="s" stroke="#111" stroke-width="0.05" fill="#111">0</text>
<text x="10.40" y="580.70" font-size="4.3" text-anchor="end" class="s" stroke="#111" stroke-width="0.05" fill="#111">−1</text>
<text x="10.40" y="596.70" font-size="4.3" text-anchor="end" class="s" stroke="#111" stroke-width="0.05" fill="#111">−2</text>
<text x="15.40" y="616.80" font-size="3.9" text-anchor="middle" class="s" stroke="#111" stroke-width="0.05" fill="#111">0</text>
<text x="79.50" y="616.80" font-size="3.9" text-anchor="middle" class="s" stroke="#111" stroke-width="0.05" fill="#111">20</text>
<text x="143.60" y="616.80" font-size="3.9" text-anchor="middle" class="s" stroke="#111" stroke-width="0.05" fill="#111">40</text>
<text x="207.70" y="616.80" font-size="3.9" text-anchor="middle" class="s" stroke="#111" stroke-width="0.05" fill="#111">60</text>
<text x="271.80" y="616.80" font-size="3.9" text-anchor="middle" class="s" stroke="#111" stroke-width="0.05" fill="#111">80</text>
<text x="335.90" y="616.80" font-size="3.9" text-anchor="middle" class="s" stroke="#111" stroke-width="0.05" fill="#111">100</text>
<text x="175.30" y="556.20" font-size="3.9" text-anchor="middle" class="s" stroke="#111" stroke-width="0.05" fill="#111">H3K27ac</text>
<text x="14.00" y="557.40" font-size="4.14" text-anchor="start" class="s" stroke="#111" stroke-width="0.05" fill="#111">WT log2(Activity)=2.61</text>
<text x="3.50" y="584.05" font-size="4.1" text-anchor="middle" class="s" stroke="#111" stroke-width="0.05" fill="#111" transform="rotate(-90 3.50 584.05)">MAD Score</text>
<rect x="359.50" y="558.50" width="323.60" height="51.20" fill="#eaeaf2"/>
<line x1="359.50" y1="559.70" x2="683.10" y2="559.70" stroke="#f5f5f9" stroke-width="1.0"/>
<line x1="359.50" y1="573.60" x2="683.10" y2="573.60" stroke="#f5f5f9" stroke-width="1.0"/>
<line x1="359.50" y1="587.50" x2="683.10" y2="587.50" stroke="#f5f5f9" stroke-width="1.0"/>
<line x1="359.50" y1="601.40" x2="683.10" y2="601.40" stroke="#f5f5f9" stroke-width="1.0"/>
<line x1="361.00" y1="558.50" x2="361.00" y2="609.70" stroke="#f5f5f9" stroke-width="1.0"/>
<line x1="425.14" y1="558.50" x2="425.14" y2="609.70" stroke="#f5f5f9" stroke-width="1.0"/>
<line x1="489.28" y1="558.50" x2="489.28" y2="609.70" stroke="#f5f5f9" stroke-width="1.0"/>
<line x1="553.42" y1="558.50" x2="553.42" y2="609.70" stroke="#f5f5f9" stroke-width="1.0"/>
<line x1="617.56" y1="558.50" x2="617.56" y2="609.70" stroke="#f5f5f9" stroke-width="1.0"/>
<line x1="681.70" y1="558.50" x2="681.70" y2="609.70" stroke="#f5f5f9" stroke-width="1.0"/>
<text x="355.90" y="561.20" font-size="4.3" text-anchor="end" class="s" stroke="#111" stroke-width="0.05" fill="#111">1</text>
<text x="355.90" y="575.10" font-size="4.3" text-anchor="end" class="s" stroke="#111" stroke-width="0.05" fill="#111">0</text>
<text x="355.90" y="589.00" font-size="4.3" text-anchor="end" class="s" stroke="#111" stroke-width="0.05" fill="#111">−1</text>
<text x="355.90" y="602.90" font-size="4.3" text-anchor="end" class="s" stroke="#111" stroke-width="0.05" fill="#111">−2</text>
<text x="361.00" y="616.70" font-size="3.9" text-anchor="middle" class="s" stroke="#111" stroke-width="0.05" fill="#111">0</text>
<text x="425.14" y="616.70" font-size="3.9" text-anchor="middle" class="s" stroke="#111" stroke-width="0.05" fill="#111">20</text>
<text x="489.28" y="616.70" font-size="3.9" text-anchor="middle" class="s" stroke="#111" stroke-width="0.05" fill="#111">40</text>
<text x="553.42" y="616.70" font-size="3.9" text-anchor="middle" class="s" stroke="#111" stroke-width="0.05" fill="#111">60</text>
<text x="617.56" y="616.70" font-size="3.9" text-anchor="middle" class="s" stroke="#111" stroke-width="0.05" fill="#111">80</text>
<text x="681.70" y="616.70" font-size="3.9" text-anchor="middle" class="s" stroke="#111" stroke-width="0.05" fill="#111">100</text>
<text x="521.30" y="556.40" font-size="3.9" text-anchor="middle" class="s" stroke="#111" stroke-width="0.05" fill="#111">H3K27ac</text>
<text x="359.50" y="557.60" font-size="4.14" text-anchor="start" class="s" stroke="#111" stroke-width="0.05" fill="#111">WT log2(Activity)=0.11</text>
<text x="349.00" y="584.10" font-size="4.1" text-anchor="middle" class="s" stroke="#111" stroke-width="0.05" fill="#111" transform="rotate(-90 349.00 584.10)">MAD Score</text>
<line x1="82.10" y1="169.90" x2="105.00" y2="169.90" stroke="#a8dcb0" stroke-width="0.6"/>
<line x1="82.10" y1="175.10" x2="108.70" y2="175.10" stroke="#f8c0a0" stroke-width="0.6"/>
<line x1="82.10" y1="180.30" x2="108.70" y2="180.30" stroke="#b0c8ec" stroke-width="0.6"/>
<line x1="169.10" y1="164.50" x2="198.70" y2="164.50" stroke="#f4bedc" stroke-width="0.6"/>
<line x1="152.80" y1="170.00" x2="179.30" y2="170.00" stroke="#d8d6bc" stroke-width="0.6"/>
<line x1="146.10" y1="175.20" x2="198.70" y2="175.20" stroke="#c4c4f0" stroke-width="0.6"/>
<line x1="146.10" y1="180.30" x2="198.70" y2="180.30" stroke="#eca4a4" stroke-width="0.6"/>
<line x1="152.80" y1="185.30" x2="198.70" y2="185.30" stroke="#8a8a8a" stroke-width="0.6"/>
<line x1="198.80" y1="180.30" x2="246.80" y2="180.30" stroke="#cacaca" stroke-width="0.6"/>
<line x1="255.80" y1="159.30" x2="279.10" y2="159.30" stroke="#fbd8c0" stroke-width="0.6"/>
<line x1="255.80" y1="164.40" x2="279.10" y2="164.40" stroke="#b4c4f0" stroke-width="0.6"/>
<line x1="255.80" y1="169.80" x2="282.00" y2="169.80" stroke="#cce8f0" stroke-width="0.6"/>
<line x1="242.90" y1="175.10" x2="269.20" y2="175.10" stroke="#ecdfb4" stroke-width="0.6"/>
<line x1="281.10" y1="180.20" x2="308.00" y2="180.20" stroke="#b0dcb8" stroke-width="0.6"/>
<text x="93.55" y="170.30" font-size="3.75" text-anchor="middle" class="s" stroke="#333" stroke-width="0.05" fill="#333" >ELF1</text>
<text x="95.40" y="175.50" font-size="3.75" text-anchor="middle" class="s" stroke="#333" stroke-width="0.05" fill="#333" >ETS1</text>
<text x="95.40" y="180.70" font-size="3.75" text-anchor="middle" class="s" stroke="#333" stroke-width="0.05" fill="#333" >ELK3</text>
<text x="183.90" y="164.90" font-size="3.75" text-anchor="middle" class="s" stroke="#333" stroke-width="0.05" fill="#333" >FOXP1</text>
<text x="166.05" y="170.40" font-size="3.75" text-anchor="middle" class="s" stroke="#333" stroke-width="0.05" fill="#333" >SOX17</text>
<text x="172.40" y="175.60" font-size="3.75" text-anchor="middle" class="s" stroke="#333" stroke-width="0.05" fill="#333" >POU5F1</text>
<text x="172.40" y="180.70" font-size="3.75" text-anchor="middle" class="s" stroke="#333" stroke-width="0.05" fill="#333" >NANOG</text>
<text x="175.75" y="185.70" font-size="3.75" text-anchor="middle" class="s" stroke="#333" stroke-width="0.05" fill="#333" >POU5F1::SOX2</text>
<text x="222.80" y="180.70" font-size="3.75" text-anchor="middle" class="s" stroke="#333" stroke-width="0.05" fill="#333" >PGR</text>
<text x="267.45" y="164.80" font-size="3.75" text-anchor="middle" class="s" stroke="#333" stroke-width="0.05" fill="#333" >FOXO1</text>
<text x="268.90" y="170.20" font-size="3.75" text-anchor="middle" class="s" stroke="#333" stroke-width="0.05" fill="#333" >FOXA2</text>
<text x="256.05" y="175.50" font-size="3.75" text-anchor="middle" class="s" stroke="#333" stroke-width="0.05" fill="#333" >TFAP4</text>
<text x="294.55" y="180.60" font-size="3.75" text-anchor="middle" class="s" stroke="#333" stroke-width="0.05" fill="#333" >OLIG2</text>
<line x1="405.20" y1="170.00" x2="431.50" y2="170.00" stroke="#a8dcb0" stroke-width="0.6"/>
<line x1="401.90" y1="175.10" x2="463.90" y2="175.10" stroke="#f8c0a8" stroke-width="0.6"/>
<line x1="369.70" y1="180.20" x2="405.80" y2="180.20" stroke="#b0c8ec" stroke-width="0.6"/>
<line x1="492.20" y1="170.00" x2="544.30" y2="170.00" stroke="#dcc8b4" stroke-width="0.6"/>
<line x1="492.20" y1="175.10" x2="544.30" y2="175.10" stroke="#c8c4f0" stroke-width="0.6"/>
<line x1="492.20" y1="180.20" x2="515.80" y2="180.20" stroke="#eca4a4" stroke-width="0.6"/>
<line x1="498.80" y1="185.20" x2="544.30" y2="185.20" stroke="#8a8a8a" stroke-width="0.6"/>
<line x1="562.70" y1="180.20" x2="596.20" y2="180.20" stroke="#f4bedc" stroke-width="0.6"/>
<line x1="659.60" y1="170.00" x2="682.70" y2="170.00" stroke="#c8e8f4" stroke-width="0.6"/>
<line x1="650.00" y1="175.10" x2="682.50" y2="175.10" stroke="#ecdfb4" stroke-width="0.6"/>
<line x1="617.50" y1="180.20" x2="682.50" y2="180.20" stroke="#cacaca" stroke-width="0.6"/>
<text x="418.35" y="170.40" font-size="3.75" text-anchor="middle" class="s" stroke="#333" stroke-width="0.05" fill="#333" >FOXH1</text>
<text x="432.90" y="175.50" font-size="3.75" text-anchor="middle" class="s" stroke="#333" stroke-width="0.05" fill="#333" >REST</text>
<text x="387.75" y="180.60" font-size="3.75" text-anchor="middle" class="s" stroke="#333" stroke-width="0.05" fill="#333" >YY1</text>
<text x="518.25" y="170.40" font-size="3.75" text-anchor="middle" class="s" stroke="#333" stroke-width="0.05" fill="#333" >POU5F1</text>
<text x="518.25" y="175.50" font-size="3.75" text-anchor="middle" class="s" stroke="#333" stroke-width="0.05" fill="#333" >NANOG</text>
<text x="504.00" y="180.60" font-size="3.75" text-anchor="middle" class="s" stroke="#333" stroke-width="0.05" fill="#333" >SOX2</text>
<text x="521.55" y="185.60" font-size="3.75" text-anchor="middle" class="s" stroke="#333" stroke-width="0.05" fill="#333" >POU5F1::SOX2</text>
<text x="579.45" y="180.60" font-size="3.75" text-anchor="middle" class="s" stroke="#333" stroke-width="0.05" fill="#333" >SMAD4</text>
<text x="671.15" y="170.40" font-size="3.75" text-anchor="middle" class="s" stroke="#333" stroke-width="0.05" fill="#333" >SP1</text>
<text x="666.25" y="175.50" font-size="3.75" text-anchor="middle" class="s" stroke="#333" stroke-width="0.05" fill="#333" >ZNF148</text>
<text x="650.00" y="180.60" font-size="3.75" text-anchor="middle" class="s" stroke="#333" stroke-width="0.05" fill="#333" >SP4</text>
<line x1="82.10" y1="409.40" x2="105.00" y2="409.40" stroke="#a8dcb0" stroke-width="0.6"/>
<line x1="82.10" y1="414.60" x2="108.70" y2="414.60" stroke="#f8c0a0" stroke-width="0.6"/>
<line x1="82.10" y1="419.80" x2="108.70" y2="419.80" stroke="#b0c8ec" stroke-width="0.6"/>
<line x1="169.10" y1="404.00" x2="198.70" y2="404.00" stroke="#f4bedc" stroke-width="0.6"/>
<line x1="152.80" y1="409.50" x2="179.30" y2="409.50" stroke="#d8d6bc" stroke-width="0.6"/>
<line x1="146.10" y1="414.70" x2="198.70" y2="414.70" stroke="#c4c4f0" stroke-width="0.6"/>
<line x1="146.10" y1="419.80" x2="198.70" y2="419.80" stroke="#eca4a4" stroke-width="0.6"/>
<line x1="152.80" y1="424.80" x2="198.70" y2="424.80" stroke="#8a8a8a" stroke-width="0.6"/>
<line x1="198.80" y1="419.80" x2="246.80" y2="419.80" stroke="#cacaca" stroke-width="0.6"/>
<line x1="255.80" y1="398.80" x2="279.10" y2="398.80" stroke="#fbd8c0" stroke-width="0.6"/>
<line x1="255.80" y1="403.90" x2="279.10" y2="403.90" stroke="#b4c4f0" stroke-width="0.6"/>
<line x1="255.80" y1="409.30" x2="282.00" y2="409.30" stroke="#cce8f0" stroke-width="0.6"/>
<line x1="242.90" y1="414.60" x2="269.20" y2="414.60" stroke="#ecdfb4" stroke-width="0.6"/>
<line x1="281.10" y1="419.70" x2="308.00" y2="419.70" stroke="#b0dcb8" stroke-width="0.6"/>
<text x="93.55" y="409.80" font-size="3.75" text-anchor="middle" class="s" stroke="#333" stroke-width="0.05" fill="#333" >ELF1</text>
<text x="95.40" y="415.00" font-size="3.75" text-anchor="middle" class="s" stroke="#333" stroke-width="0.05" fill="#333" >ETS1</text>
<text x="95.40" y="420.20" font-size="3.75" text-anchor="middle" class="s" stroke="#333" stroke-width="0.05" fill="#333" >ELK3</text>
<text x="183.90" y="404.40" font-size="3.75" text-anchor="middle" class="s" stroke="#333" stroke-width="0.05" fill="#333" >FOXP1</text>
<text x="166.05" y="409.90" font-size="3.75" text-anchor="middle" class="s" stroke="#333" stroke-width="0.05" fill="#333" >SOX17</text>
<text x="172.40" y="415.10" font-size="3.75" text-anchor="middle" class="s" stroke="#333" stroke-width="0.05" fill="#333" >POU5F1</text>
<text x="172.40" y="420.20" font-size="3.75" text-anchor="middle" class="s" stroke="#333" stroke-width="0.05" fill="#333" >NANOG</text>
<text x="175.75" y="425.20" font-size="3.75" text-anchor="middle" class="s" stroke="#333" stroke-width="0.05" fill="#333" >POU5F1::SOX2</text>
<text x="222.80" y="420.20" font-size="3.75" text-anchor="middle" class="s" stroke="#333" stroke-width="0.05" fill="#333" >PGR</text>
<text x="267.45" y="404.30" font-size="3.75" text-anchor="middle" class="s" stroke="#333" stroke-width="0.05" fill="#333" >FOXO1</text>
<text x="268.90" y="409.70" font-size="3.75" text-anchor="middle" class="s" stroke="#333" stroke-width="0.05" fill="#333" >FOXA2</text>
<text x="256.05" y="415.00" font-size="3.75" text-anchor="middle" class="s" stroke="#333" stroke-width="0.05" fill="#333" >TFAP4</text>
<text x="294.55" y="420.10" font-size="3.75" text-anchor="middle" class="s" stroke="#333" stroke-width="0.05" fill="#333" >OLIG2</text>
<line x1="405.20" y1="409.50" x2="431.50" y2="409.50" stroke="#a8dcb0" stroke-width="0.6"/>
<line x1="401.90" y1="414.60" x2="463.90" y2="414.60" stroke="#f8c0a8" stroke-width="0.6"/>
<line x1="369.70" y1="419.70" x2="405.80" y2="419.70" stroke="#b0c8ec" stroke-width="0.6"/>
<line x1="492.20" y1="409.50" x2="544.30" y2="409.50" stroke="#dcc8b4" stroke-width="0.6"/>
<line x1="492.20" y1="414.60" x2="544.30" y2="414.60" stroke="#c8c4f0" stroke-width="0.6"/>
<line x1="492.20" y1="419.70" x2="515.80" y2="419.70" stroke="#eca4a4" stroke-width="0.6"/>
<line x1="498.80" y1="424.70" x2="544.30" y2="424.70" stroke="#8a8a8a" stroke-width="0.6"/>
<line x1="562.70" y1="419.70" x2="596.20" y2="419.70" stroke="#f4bedc" stroke-width="0.6"/>
<line x1="659.60" y1="409.50" x2="682.70" y2="409.50" stroke="#c8e8f4" stroke-width="0.6"/>
<line x1="650.00" y1="414.60" x2="682.50" y2="414.60" stroke="#ecdfb4" stroke-width="0.6"/>
<line x1="617.50" y1="419.70" x2="682.50" y2="419.70" stroke="#cacaca" stroke-width="0.6"/>
<text x="418.35" y="409.90" font-size="3.75" text-anchor="middle" class="s" stroke="#333" stroke-width="0.05" fill="#333" >FOXH1</text>
<text x="432.90" y="415.00" font-size="3.75" text-anchor="middle" class="s" stroke="#333" stroke-width="0.05" fill="#333" >REST</text>
<text x="387.75" y="420.10" font-size="3.75" text-anchor="middle" class="s" stroke="#333" stroke-width="0.05" fill="#333" >YY1</text>
<text x="518.25" y="409.90" font-size="3.75" text-anchor="middle" class="s" stroke="#333" stroke-width="0.05" fill="#333" >POU5F1</text>
<text x="518.25" y="415.00" font-size="3.75" text-anchor="middle" class="s" stroke="#333" stroke-width="0.05" fill="#333" >NANOG</text>
<text x="504.00" y="420.10" font-size="3.75" text-anchor="middle" class="s" stroke="#333" stroke-width="0.05" fill="#333" >SOX2</text>
<text x="521.55" y="425.10" font-size="3.75" text-anchor="middle" class="s" stroke="#333" stroke-width="0.05" fill="#333" >POU5F1::SOX2</text>
<text x="579.45" y="420.10" font-size="3.75" text-anchor="middle" class="s" stroke="#333" stroke-width="0.05" fill="#333" >SMAD4</text>
<text x="671.15" y="409.90" font-size="3.75" text-anchor="middle" class="s" stroke="#333" stroke-width="0.05" fill="#333" >SP1</text>
<text x="666.25" y="415.00" font-size="3.75" text-anchor="middle" class="s" stroke="#333" stroke-width="0.05" fill="#333" >ZNF148</text>
<text x="650.00" y="420.10" font-size="3.75" text-anchor="middle" class="s" stroke="#333" stroke-width="0.05" fill="#333" >SP4</text>
<path d="M14.4 203.4V200.7M15.3 203.4V205.1M16.2 203.4V202.4M17.6 203.4V204.4M18.5 203.4V202.0M19.4 203.4V201.1M20.9 203.4V201.7M21.7 203.4V202.0M22.6 203.4V200.4M24.1 203.4V201.3M24.9 203.4V204.1M25.8 203.4V203.7M27.3 203.4V204.0M28.2 203.4V204.5M29.0 203.4V202.6M30.5 203.4V202.6M31.4 203.4V201.8M32.2 203.4V202.4M33.7 203.4V205.0M34.6 203.4V204.4M35.5 203.4V203.7M36.9 203.4V200.9M37.8 203.4V205.0M38.7 203.4V203.0M40.2 203.4V202.1M41.0 203.4V202.8M41.9 203.4V203.7M43.4 203.4V204.1M44.2 203.4V203.1M45.1 203.4V204.1M46.6 203.4V203.2M47.5 203.4V202.8M48.3 203.4V203.5M49.8 203.4V203.1M50.7 203.4V201.9M51.5 203.4V204.0M53.0 203.4V202.7M53.9 203.4V202.8M54.7 203.4V201.9M57.1 203.4V203.2M58.0 203.4V204.3M59.4 203.4V202.6M60.3 203.4V204.0M61.2 203.4V201.6M62.7 203.4V202.1M63.5 203.4V202.7M64.4 203.4V203.6M65.9 203.4V202.8M66.7 203.4V203.0M67.6 203.4V204.5M69.1 203.4V202.4M70.0 203.4V203.7M70.8 203.4V202.5M72.3 203.4V204.1M73.2 203.4V202.0M74.0 203.4V206.5M75.5 203.4V199.9M76.4 203.4V203.3M77.3 203.4V198.7M78.7 203.4V202.5M79.6 203.4V202.8M80.5 203.4V200.8M83.7 203.4V202.9M99.8 203.4V202.4M101.2 203.4V202.6M102.1 203.4V202.7M103.0 203.4V200.0M104.5 203.4V206.4M105.3 203.4V201.0M106.2 203.4V205.1M107.7 203.4V202.8M108.5 203.4V201.4M109.4 203.4V201.4M110.9 203.4V203.7M112.6 203.4V201.4M115.0 203.4V205.5M115.8 203.4V202.4M117.3 203.4V204.5M118.2 203.4V201.1M119.0 203.4V201.7M123.7 203.4V206.5M124.6 203.4V205.1M125.5 203.4V204.6M127.0 203.4V202.6M127.8 203.4V202.5M128.7 203.4V203.0M131.0 203.4V205.5M131.9 203.4V201.3M134.3 203.4V203.3M135.1 203.4V202.5M137.5 203.4V202.4M138.3 203.4V200.8M140.7 203.4V200.3M141.6 203.4V202.4M143.0 203.4V201.3M143.9 203.4V204.7M144.8 203.4V204.2M146.2 203.4V204.2M147.1 203.4V203.5M148.0 203.4V203.4M150.3 203.4V203.0M151.2 203.4V205.2M152.7 203.4V200.9M153.5 203.4V206.2M154.4 203.4V201.6M156.8 203.4V201.8M157.6 203.4V203.4M159.1 203.4V206.2M160.0 203.4V210.8M160.8 203.4V206.4M167.3 203.4V204.2M170.5 203.4V202.4M180.1 203.4V203.4M183.3 203.4V202.9M186.6 203.4V202.4M196.2 203.4V202.9M197.7 203.4V206.2M199.4 203.4V206.7M201.8 203.4V204.0M202.6 203.4V201.8M204.1 203.4V202.9M205.9 203.4V200.6M207.3 203.4V204.1M208.2 203.4V202.5M209.1 203.4V202.7M210.5 203.4V203.0M211.4 203.4V205.5M212.3 203.4V202.3M214.6 203.4V204.4M215.5 203.4V202.4M217.0 203.4V206.9M217.8 203.4V202.0M218.7 203.4V199.0M220.2 203.4V206.1M221.1 203.4V203.6M221.9 203.4V204.6M224.3 203.4V201.1M225.1 203.4V201.9M226.6 203.4V202.6M227.5 203.4V205.0M229.8 203.4V202.3M230.7 203.4V202.1M231.6 203.4V201.4M233.1 203.4V210.5M233.9 203.4V201.5M234.8 203.4V205.7M236.3 203.4V203.2M237.1 203.4V200.8M238.0 203.4V203.6M239.5 203.4V202.8M240.3 203.4V204.9M241.2 203.4V206.2M243.6 203.4V202.4M244.4 203.4V201.3M245.9 203.4V203.6M246.8 203.4V201.2M247.6 203.4V200.6M249.1 203.4V206.2M250.0 203.4V203.2M250.9 203.4V201.9M253.2 203.4V203.4M254.1 203.4V201.8M256.4 203.4V205.5M257.3 203.4V201.8M259.6 203.4V204.4M260.5 203.4V201.9M262.0 203.4V202.3M262.9 203.4V206.9M263.7 203.4V200.5M265.2 203.4V203.1M266.1 203.4V200.8M266.9 203.4V201.5M268.4 203.4V201.5M269.3 203.4V203.8M270.2 203.4V203.0M271.6 203.4V206.0M272.5 203.4V205.7M273.4 203.4V200.7M274.8 203.4V200.5M275.7 203.4V201.8M276.6 203.4V202.6M278.9 203.4V202.4M279.8 203.4V201.3M281.3 203.4V200.8M282.1 203.4V205.3M283.0 203.4V202.9M286.2 203.4V204.4M289.4 203.4V202.9M292.7 203.4V205.5M295.0 203.4V205.5M295.9 203.4V202.4M297.4 203.4V205.7M299.1 203.4V206.7M301.4 203.4V204.1M304.6 203.4V204.7M305.5 203.4V205.6M307.9 203.4V204.4M308.7 203.4V201.3M311.1 203.4V206.6M311.9 203.4V205.6M315.2 203.4V202.4M316.6 203.4V205.7M317.5 203.4V205.5M318.4 203.4V205.4M321.6 203.4V205.5M324.8 203.4V202.4M326.3 203.4V206.1M328.0 203.4V206.0M329.5 203.4V200.0M330.4 203.4V202.6M331.2 203.4V202.2M332.7 203.4V203.9M333.6 203.4V204.0M334.5 203.4V201.5" stroke="#c4c4c4" stroke-width="0.85" fill="none"/>
<path d="M56.2 203.4V199.5M81.9 203.4V209.8M82.8 203.4V209.3M85.2 203.4V217.1M86.0 203.4V209.6M86.9 203.4V210.6M88.4 203.4V213.8M89.2 203.4V216.9M90.1 203.4V213.8M91.6 203.4V215.3M92.5 203.4V211.7M93.3 203.4V206.5M94.8 203.4V213.2M95.7 203.4V207.5M96.5 203.4V206.5M98.0 203.4V208.6M98.9 203.4V205.5M111.7 203.4V198.8M114.1 203.4V211.7M120.5 203.4V208.6M121.4 203.4V207.5M122.3 203.4V209.6M130.2 203.4V208.1M133.4 203.4V196.4M136.6 203.4V208.6M139.8 203.4V208.6M149.5 203.4V199.1M155.9 203.4V208.6M162.3 203.4V218.9M163.2 203.4V224.6M164.1 203.4V205.5M165.5 203.4V208.9M166.4 203.4V212.6M168.8 203.4V209.6M169.6 203.4V206.5M172.0 203.4V213.0M172.8 203.4V208.9M173.7 203.4V207.9M175.2 203.4V216.9M176.1 203.4V209.6M176.9 203.4V208.6M178.4 203.4V245.3M179.3 203.4V208.6M181.6 203.4V231.3M182.5 203.4V209.6M184.8 203.4V207.5M185.7 203.4V205.5M188.0 203.4V210.6M188.9 203.4V209.6M189.8 203.4V206.5M191.3 203.4V209.6M192.1 203.4V209.6M193.0 203.4V206.5M194.5 203.4V218.9M195.3 203.4V208.6M198.6 203.4V207.3M200.9 203.4V207.3M205.0 203.4V199.2M213.8 203.4V212.2M223.4 203.4V199.2M228.4 203.4V199.5M242.7 203.4V206.5M252.3 203.4V208.6M255.6 203.4V211.7M258.8 203.4V208.3M278.1 203.4V208.6M284.5 203.4V225.1M285.4 203.4V206.5M287.7 203.4V214.8M288.6 203.4V206.5M290.9 203.4V208.6M291.8 203.4V214.8M294.1 203.4V208.6M298.2 203.4V207.2M300.6 203.4V208.1M302.3 203.4V207.4M303.8 203.4V209.1M307.0 203.4V197.2M310.2 203.4V209.7M313.4 203.4V207.5M314.3 203.4V206.5M319.9 203.4V208.6M320.7 203.4V209.6M323.1 203.4V207.5M323.9 203.4V206.5M327.2 203.4V208.9" stroke="#555" stroke-width="0.95" fill="none"/>
<path d="M14.4 199.2l1.75 2.70h-3.50z" fill="#e69f00"/>
<path d="M13.8 205.1h3.00m-1.50 -1.50v3.00" stroke="#56b4e9" stroke-width="0.85" fill="none"/>
<path d="M14.8 202.4a1.40 1.40 0 1 0 2.80 0a1.40 1.40 0 1 0 -2.80 0" fill="#009e73"/>
<path d="M17.6 202.9l1.75 2.70h-3.50z" fill="#e69f00"/>
<path d="M17.1 202.0a1.40 1.40 0 1 0 2.80 0a1.40 1.40 0 1 0 -2.80 0" fill="#009e73"/>
<path d="M19.4 199.3l1.30 1.75 -1.30 1.75 -1.30 -1.75z" fill="#f0e442"/>
<path d="M20.9 200.1l1.75 2.70h-3.50z" fill="#e69f00"/>
<path d="M20.3 202.0a1.40 1.40 0 1 0 2.80 0a1.40 1.40 0 1 0 -2.80 0" fill="#009e73"/>
<path d="M22.6 198.6l1.30 1.75 -1.30 1.75 -1.30 -1.75z" fill="#f0e442"/>
<path d="M22.6 201.3h3.00m-1.50 -1.50v3.00" stroke="#56b4e9" stroke-width="0.85" fill="none"/>
<path d="M23.5 204.1a1.40 1.40 0 1 0 2.80 0a1.40 1.40 0 1 0 -2.80 0" fill="#009e73"/>
<path d="M25.8 201.9l1.30 1.75 -1.30 1.75 -1.30 -1.75z" fill="#f0e442"/>
<path d="M27.3 202.4l1.75 2.70h-3.50z" fill="#e69f00"/>
<path d="M26.7 204.5h3.00m-1.50 -1.50v3.00" stroke="#56b4e9" stroke-width="0.85" fill="none"/>
<path d="M27.6 202.6a1.40 1.40 0 1 0 2.80 0a1.40 1.40 0 1 0 -2.80 0" fill="#009e73"/>
<path d="M29.0 202.6h3.00m-1.50 -1.50v3.00" stroke="#56b4e9" stroke-width="0.85" fill="none"/>
<path d="M30.0 201.8a1.40 1.40 0 1 0 2.80 0a1.40 1.40 0 1 0 -2.80 0" fill="#009e73"/>
<path d="M32.2 200.7l1.30 1.75 -1.30 1.75 -1.30 -1.75z" fill="#f0e442"/>
<path d="M33.7 203.4l1.75 2.70h-3.50z" fill="#e69f00"/>
<path d="M33.2 204.4a1.40 1.40 0 1 0 2.80 0a1.40 1.40 0 1 0 -2.80 0" fill="#009e73"/>
<path d="M35.5 202.0l1.30 1.75 -1.30 1.75 -1.30 -1.75z" fill="#f0e442"/>
<path d="M36.9 199.4l1.75 2.70h-3.50z" fill="#e69f00"/>
<path d="M36.4 205.0a1.40 1.40 0 1 0 2.80 0a1.40 1.40 0 1 0 -2.80 0" fill="#009e73"/>
<path d="M38.7 201.3l1.30 1.75 -1.30 1.75 -1.30 -1.75z" fill="#f0e442"/>
<path d="M40.2 200.6l1.75 2.70h-3.50z" fill="#e69f00"/>
<path d="M39.5 202.8h3.00m-1.50 -1.50v3.00" stroke="#56b4e9" stroke-width="0.85" fill="none"/>
<path d="M40.5 203.7a1.40 1.40 0 1 0 2.80 0a1.40 1.40 0 1 0 -2.80 0" fill="#009e73"/>
<path d="M41.9 204.1h3.00m-1.50 -1.50v3.00" stroke="#56b4e9" stroke-width="0.85" fill="none"/>
<path d="M42.8 203.1a1.40 1.40 0 1 0 2.80 0a1.40 1.40 0 1 0 -2.80 0" fill="#009e73"/>
<path d="M45.1 202.3l1.30 1.75 -1.30 1.75 -1.30 -1.75z" fill="#f0e442"/>
<path d="M46.6 201.6l1.75 2.70h-3.50z" fill="#e69f00"/>
<path d="M46.1 202.8a1.40 1.40 0 1 0 2.80 0a1.40 1.40 0 1 0 -2.80 0" fill="#009e73"/>
<path d="M48.3 201.7l1.30 1.75 -1.30 1.75 -1.30 -1.75z" fill="#f0e442"/>
<path d="M48.3 203.1h3.00m-1.50 -1.50v3.00" stroke="#56b4e9" stroke-width="0.85" fill="none"/>
<path d="M49.3 201.9a1.40 1.40 0 1 0 2.80 0a1.40 1.40 0 1 0 -2.80 0" fill="#009e73"/>
<path d="M51.5 202.3l1.30 1.75 -1.30 1.75 -1.30 -1.75z" fill="#f0e442"/>
<path d="M51.5 202.7h3.00m-1.50 -1.50v3.00" stroke="#56b4e9" stroke-width="0.85" fill="none"/>
<path d="M52.5 202.8a1.40 1.40 0 1 0 2.80 0a1.40 1.40 0 1 0 -2.80 0" fill="#009e73"/>
<path d="M54.7 200.2l1.30 1.75 -1.30 1.75 -1.30 -1.75z" fill="#f0e442"/>
<path d="M56.2 197.9l1.75 2.70h-3.50z" fill="#e69f00"/>
<path d="M55.6 203.2h3.00m-1.50 -1.50v3.00" stroke="#56b4e9" stroke-width="0.85" fill="none"/>
<path d="M56.6 204.3a1.40 1.40 0 1 0 2.80 0a1.40 1.40 0 1 0 -2.80 0" fill="#009e73"/>
<path d="M59.4 201.0l1.75 2.70h-3.50z" fill="#e69f00"/>
<path d="M58.9 204.0a1.40 1.40 0 1 0 2.80 0a1.40 1.40 0 1 0 -2.80 0" fill="#009e73"/>
<path d="M61.2 199.8l1.30 1.75 -1.30 1.75 -1.30 -1.75z" fill="#f0e442"/>
<path d="M62.7 200.5l1.75 2.70h-3.50z" fill="#e69f00"/>
<path d="M62.0 202.7h3.00m-1.50 -1.50v3.00" stroke="#56b4e9" stroke-width="0.85" fill="none"/>
<path d="M63.0 203.6a1.40 1.40 0 1 0 2.80 0a1.40 1.40 0 1 0 -2.80 0" fill="#009e73"/>
<path d="M65.9 201.3l1.75 2.70h-3.50z" fill="#e69f00"/>
<path d="M65.3 203.0a1.40 1.40 0 1 0 2.80 0a1.40 1.40 0 1 0 -2.80 0" fill="#009e73"/>
<path d="M67.6 202.8l1.30 1.75 -1.30 1.75 -1.30 -1.75z" fill="#f0e442"/>
<path d="M69.1 200.8l1.75 2.70h-3.50z" fill="#e69f00"/>
<path d="M68.6 203.7a1.40 1.40 0 1 0 2.80 0a1.40 1.40 0 1 0 -2.80 0" fill="#009e73"/>
<path d="M70.8 200.7l1.30 1.75 -1.30 1.75 -1.30 -1.75z" fill="#f0e442"/>
<path d="M72.3 202.6l1.75 2.70h-3.50z" fill="#e69f00"/>
<path d="M71.8 202.0a1.40 1.40 0 1 0 2.80 0a1.40 1.40 0 1 0 -2.80 0" fill="#009e73"/>
<path d="M74.0 204.8l1.30 1.75 -1.30 1.75 -1.30 -1.75z" fill="#f0e442"/>
<path d="M74.0 199.9h3.00m-1.50 -1.50v3.00" stroke="#56b4e9" stroke-width="0.85" fill="none"/>
<path d="M75.0 203.3a1.40 1.40 0 1 0 2.80 0a1.40 1.40 0 1 0 -2.80 0" fill="#009e73"/>
<path d="M77.3 196.9l1.30 1.75 -1.30 1.75 -1.30 -1.75z" fill="#f0e442"/>
<path d="M78.7 200.9l1.75 2.70h-3.50z" fill="#e69f00"/>
<path d="M78.1 202.8h3.00m-1.50 -1.50v3.00" stroke="#56b4e9" stroke-width="0.85" fill="none"/>
<path d="M80.5 199.1l1.30 1.75 -1.30 1.75 -1.30 -1.75z" fill="#f0e442"/>
<path d="M81.9 208.3l1.75 2.70h-3.50z" fill="#e69f00"/>
<path d="M81.3 209.3h3.00m-1.50 -1.50v3.00" stroke="#56b4e9" stroke-width="0.85" fill="none"/>
<path d="M82.3 202.9a1.40 1.40 0 1 0 2.80 0a1.40 1.40 0 1 0 -2.80 0" fill="#009e73"/>
<path d="M83.7 217.1h3.00m-1.50 -1.50v3.00" stroke="#56b4e9" stroke-width="0.85" fill="none"/>
<path d="M84.6 209.6a1.40 1.40 0 1 0 2.80 0a1.40 1.40 0 1 0 -2.80 0" fill="#009e73"/>
<path d="M86.9 209.1l1.75 2.70h-3.50z" fill="#e69f00"/>
<path d="M86.9 213.8h3.00m-1.50 -1.50v3.00" stroke="#56b4e9" stroke-width="0.85" fill="none"/>
<path d="M89.2 215.1l1.30 1.75 -1.30 1.75 -1.30 -1.75z" fill="#f0e442"/>
<path d="M90.1 212.2l1.75 2.70h-3.50z" fill="#e69f00"/>
<path d="M90.1 215.3h3.00m-1.50 -1.50v3.00" stroke="#56b4e9" stroke-width="0.85" fill="none"/>
<path d="M92.5 209.9l1.30 1.75 -1.30 1.75 -1.30 -1.75z" fill="#f0e442"/>
<path d="M91.9 206.5a1.40 1.40 0 1 0 2.80 0a1.40 1.40 0 1 0 -2.80 0M93.4 213.2a1.40 1.40 0 1 0 2.80 0a1.40 1.40 0 1 0 -2.80 0" fill="#009e73"/>
<path d="M94.2 207.5h3.00m-1.50 -1.50v3.00" stroke="#56b4e9" stroke-width="0.85" fill="none"/>
<path d="M96.5 205.0l1.75 2.70h-3.50z" fill="#e69f00"/>
<path d="M98.0 206.8l1.30 1.75 -1.30 1.75 -1.30 -1.75z" fill="#f0e442"/>
<path d="M98.9 203.9l1.75 2.70h-3.50z" fill="#e69f00"/>
<path d="M98.4 202.4a1.40 1.40 0 1 0 2.80 0a1.40 1.40 0 1 0 -2.80 0" fill="#009e73"/>
<path d="M101.2 201.1l1.75 2.70h-3.50z" fill="#e69f00"/>
<path d="M100.6 202.7h3.00m-1.50 -1.50v3.00" stroke="#56b4e9" stroke-width="0.85" fill="none"/>
<path d="M103.0 198.2l1.30 1.75 -1.30 1.75 -1.30 -1.75z" fill="#f0e442"/>
<path d="M104.5 204.9l1.75 2.70h-3.50z" fill="#e69f00"/>
<path d="M103.8 201.0h3.00m-1.50 -1.50v3.00" stroke="#56b4e9" stroke-width="0.85" fill="none"/>
<path d="M106.2 203.4l1.30 1.75 -1.30 1.75 -1.30 -1.75z" fill="#f0e442"/>
<path d="M106.2 202.8h3.00m-1.50 -1.50v3.00" stroke="#56b4e9" stroke-width="0.85" fill="none"/>
<path d="M107.1 201.4a1.40 1.40 0 1 0 2.80 0a1.40 1.40 0 1 0 -2.80 0" fill="#009e73"/>
<path d="M109.4 199.6l1.30 1.75 -1.30 1.75 -1.30 -1.75z" fill="#f0e442"/>
<path d="M109.4 203.7h3.00m-1.50 -1.50v3.00" stroke="#56b4e9" stroke-width="0.85" fill="none"/>
<path d="M110.3 198.8a1.40 1.40 0 1 0 2.80 0a1.40 1.40 0 1 0 -2.80 0" fill="#009e73"/>
<path d="M112.6 199.7l1.30 1.75 -1.30 1.75 -1.30 -1.75z" fill="#f0e442"/>
<path d="M114.1 210.1l1.75 2.70h-3.50z" fill="#e69f00"/>
<path d="M113.6 205.5a1.40 1.40 0 1 0 2.80 0a1.40 1.40 0 1 0 -2.80 0" fill="#009e73"/>
<path d="M115.8 200.6l1.30 1.75 -1.30 1.75 -1.30 -1.75z" fill="#f0e442"/>
<path d="M117.3 203.0l1.75 2.70h-3.50z" fill="#e69f00"/>
<path d="M116.7 201.1h3.00m-1.50 -1.50v3.00" stroke="#56b4e9" stroke-width="0.85" fill="none"/>
<path d="M119.0 199.9l1.30 1.75 -1.30 1.75 -1.30 -1.75z" fill="#f0e442"/>
<path d="M119.1 208.6a1.40 1.40 0 1 0 2.80 0a1.40 1.40 0 1 0 -2.80 0" fill="#009e73"/>
<path d="M119.9 207.5h3.00m-1.50 -1.50v3.00" stroke="#56b4e9" stroke-width="0.85" fill="none"/>
<path d="M122.3 207.9l1.30 1.75 -1.30 1.75 -1.30 -1.75z" fill="#f0e442"/>
<path d="M123.7 204.9l1.75 2.70h-3.50z" fill="#e69f00"/>
<path d="M123.2 205.1a1.40 1.40 0 1 0 2.80 0a1.40 1.40 0 1 0 -2.80 0" fill="#009e73"/>
<path d="M125.5 202.9l1.30 1.75 -1.30 1.75 -1.30 -1.75z" fill="#f0e442"/>
<path d="M127.0 201.1l1.75 2.70h-3.50z" fill="#e69f00"/>
<path d="M126.3 202.5h3.00m-1.50 -1.50v3.00" stroke="#56b4e9" stroke-width="0.85" fill="none"/>
<path d="M128.7 201.2l1.30 1.75 -1.30 1.75 -1.30 -1.75z" fill="#f0e442"/>
<path d="M130.2 206.5l1.75 2.70h-3.50z" fill="#e69f00"/>
<path d="M131.0 203.7l1.30 1.75 -1.30 1.75 -1.30 -1.75z" fill="#f0e442"/>
<path d="M130.5 201.3a1.40 1.40 0 1 0 2.80 0a1.40 1.40 0 1 0 -2.80 0" fill="#009e73"/>
<path d="M131.9 196.4h3.00m-1.50 -1.50v3.00" stroke="#56b4e9" stroke-width="0.85" fill="none"/>
<path d="M132.9 203.3a1.40 1.40 0 1 0 2.80 0a1.40 1.40 0 1 0 -2.80 0" fill="#009e73"/>
<path d="M135.1 200.7l1.30 1.75 -1.30 1.75 -1.30 -1.75z" fill="#f0e442"/>
<path d="M136.6 207.0l1.75 2.70h-3.50z" fill="#e69f00"/>
<path d="M136.0 202.4h3.00m-1.50 -1.50v3.00" stroke="#56b4e9" stroke-width="0.85" fill="none"/>
<path d="M136.9 200.8a1.40 1.40 0 1 0 2.80 0a1.40 1.40 0 1 0 -2.80 0" fill="#009e73"/>
<path d="M139.8 207.0l1.75 2.70h-3.50z" fill="#e69f00"/>
<path d="M140.7 198.5l1.30 1.75 -1.30 1.75 -1.30 -1.75z" fill="#f0e442"/>
<path d="M140.2 202.4a1.40 1.40 0 1 0 2.80 0a1.40 1.40 0 1 0 -2.80 0" fill="#009e73"/>
<path d="M141.5 201.3h3.00m-1.50 -1.50v3.00" stroke="#56b4e9" stroke-width="0.85" fill="none"/>
<path d="M142.5 204.7a1.40 1.40 0 1 0 2.80 0a1.40 1.40 0 1 0 -2.80 0" fill="#009e73"/>
<path d="M144.8 202.4l1.30 1.75 -1.30 1.75 -1.30 -1.75z" fill="#f0e442"/>
<path d="M144.7 204.2h3.00m-1.50 -1.50v3.00" stroke="#56b4e9" stroke-width="0.85" fill="none"/>
<path d="M145.7 203.5a1.40 1.40 0 1 0 2.80 0a1.40 1.40 0 1 0 -2.80 0" fill="#009e73"/>
<path d="M148.0 201.6l1.30 1.75 -1.30 1.75 -1.30 -1.75z" fill="#f0e442"/>
<path d="M148.0 199.1h3.00m-1.50 -1.50v3.00" stroke="#56b4e9" stroke-width="0.85" fill="none"/>
<path d="M148.9 203.0a1.40 1.40 0 1 0 2.80 0a1.40 1.40 0 1 0 -2.80 0" fill="#009e73"/>
<path d="M151.2 203.5l1.30 1.75 -1.30 1.75 -1.30 -1.75z" fill="#f0e442"/>
<path d="M152.7 199.4l1.75 2.70h-3.50z" fill="#e69f00"/>
<path d="M152.0 206.2h3.00m-1.50 -1.50v3.00" stroke="#56b4e9" stroke-width="0.85" fill="none"/>
<path d="M153.0 201.6a1.40 1.40 0 1 0 2.80 0a1.40 1.40 0 1 0 -2.80 0" fill="#009e73"/>
<path d="M155.9 207.0l1.75 2.70h-3.50z" fill="#e69f00"/>
<path d="M155.4 201.8a1.40 1.40 0 1 0 2.80 0a1.40 1.40 0 1 0 -2.80 0" fill="#009e73"/>
<path d="M156.1 203.4h3.00m-1.50 -1.50v3.00M157.6 206.2h3.00m-1.50 -1.50v3.00" stroke="#56b4e9" stroke-width="0.85" fill="none"/>
<path d="M158.6 210.8a1.40 1.40 0 1 0 2.80 0a1.40 1.40 0 1 0 -2.80 0" fill="#009e73"/>
<path d="M160.8 204.7l1.30 1.75 -1.30 1.75 -1.30 -1.75z" fill="#f0e442"/>
<path d="M160.9 218.9a1.40 1.40 0 1 0 2.80 0a1.40 1.40 0 1 0 -2.80 0" fill="#009e73"/>
<path d="M161.7 224.6h3.00m-1.50 -1.50v3.00" stroke="#56b4e9" stroke-width="0.85" fill="none"/>
<path d="M164.1 203.9l1.75 2.70h-3.50zM165.5 207.4l1.75 2.70h-3.50z" fill="#e69f00"/>
<path d="M164.9 212.6h3.00m-1.50 -1.50v3.00" stroke="#56b4e9" stroke-width="0.85" fill="none"/>
<path d="M167.3 202.4l1.30 1.75 -1.30 1.75 -1.30 -1.75zM168.8 207.9l1.30 1.75 -1.30 1.75 -1.30 -1.75z" fill="#f0e442"/>
<path d="M169.6 205.0l1.75 2.70h-3.50z" fill="#e69f00"/>
<path d="M169.1 202.4a1.40 1.40 0 1 0 2.80 0a1.40 1.40 0 1 0 -2.80 0" fill="#009e73"/>
<path d="M172.0 211.4l1.75 2.70h-3.50z" fill="#e69f00"/>
<path d="M171.4 208.9a1.40 1.40 0 1 0 2.80 0a1.40 1.40 0 1 0 -2.80 0" fill="#009e73"/>
<path d="M173.7 206.1l1.30 1.75 -1.30 1.75 -1.30 -1.75zM175.2 215.1l1.30 1.75 -1.30 1.75 -1.30 -1.75z" fill="#f0e442"/>
<path d="M176.1 208.1l1.75 2.70h-3.50z" fill="#e69f00"/>
<path d="M175.5 208.6a1.40 1.40 0 1 0 2.80 0a1.40 1.40 0 1 0 -2.80 0" fill="#009e73"/>
<path d="M178.4 243.8l1.75 2.70h-3.50z" fill="#e69f00"/>
<path d="M177.9 208.6a1.40 1.40 0 1 0 2.80 0a1.40 1.40 0 1 0 -2.80 0" fill="#009e73"/>
<path d="M178.6 203.4h3.00m-1.50 -1.50v3.00" stroke="#56b4e9" stroke-width="0.85" fill="none"/>
<path d="M181.6 229.6l1.30 1.75 -1.30 1.75 -1.30 -1.75z" fill="#f0e442"/>
<path d="M182.5 208.1l1.75 2.70h-3.50z" fill="#e69f00"/>
<path d="M181.9 202.9a1.40 1.40 0 1 0 2.80 0a1.40 1.40 0 1 0 -2.80 0M183.4 207.5a1.40 1.40 0 1 0 2.80 0a1.40 1.40 0 1 0 -2.80 0" fill="#009e73"/>
<path d="M184.2 205.5h3.00m-1.50 -1.50v3.00" stroke="#56b4e9" stroke-width="0.85" fill="none"/>
<path d="M186.6 200.6l1.30 1.75 -1.30 1.75 -1.30 -1.75z" fill="#f0e442"/>
<path d="M186.6 210.6a1.40 1.40 0 1 0 2.80 0a1.40 1.40 0 1 0 -2.80 0" fill="#009e73"/>
<path d="M188.9 207.9l1.30 1.75 -1.30 1.75 -1.30 -1.75z" fill="#f0e442"/>
<path d="M188.3 206.5h3.00m-1.50 -1.50v3.00" stroke="#56b4e9" stroke-width="0.85" fill="none"/>
<path d="M189.9 209.6a1.40 1.40 0 1 0 2.80 0a1.40 1.40 0 1 0 -2.80 0" fill="#009e73"/>
<path d="M192.1 207.9l1.30 1.75 -1.30 1.75 -1.30 -1.75z" fill="#f0e442"/>
<path d="M193.0 205.0l1.75 2.70h-3.50z" fill="#e69f00"/>
<path d="M194.5 217.2l1.30 1.75 -1.30 1.75 -1.30 -1.75z" fill="#f0e442"/>
<path d="M193.9 208.6a1.40 1.40 0 1 0 2.80 0a1.40 1.40 0 1 0 -2.80 0" fill="#009e73"/>
<path d="M196.2 201.3l1.75 2.70h-3.50zM197.7 204.7l1.75 2.70h-3.50z" fill="#e69f00"/>
<path d="M197.1 207.3h3.00m-1.50 -1.50v3.00" stroke="#56b4e9" stroke-width="0.85" fill="none"/>
<path d="M198.0 206.7a1.40 1.40 0 1 0 2.80 0a1.40 1.40 0 1 0 -2.80 0" fill="#009e73"/>
<path d="M200.9 205.7l1.75 2.70h-3.50z" fill="#e69f00"/>
<path d="M200.3 204.0h3.00m-1.50 -1.50v3.00" stroke="#56b4e9" stroke-width="0.85" fill="none"/>
<path d="M202.6 200.0l1.30 1.75 -1.30 1.75 -1.30 -1.75z" fill="#f0e442"/>
<path d="M204.1 201.4l1.75 2.70h-3.50z" fill="#e69f00"/>
<path d="M203.6 199.2a1.40 1.40 0 1 0 2.80 0a1.40 1.40 0 1 0 -2.80 0" fill="#009e73"/>
<path d="M205.9 198.9l1.30 1.75 -1.30 1.75 -1.30 -1.75z" fill="#f0e442"/>
<path d="M207.3 202.5l1.75 2.70h-3.50z" fill="#e69f00"/>
<path d="M206.8 202.5a1.40 1.40 0 1 0 2.80 0a1.40 1.40 0 1 0 -2.80 0" fill="#009e73"/>
<path d="M209.1 201.0l1.30 1.75 -1.30 1.75 -1.30 -1.75z" fill="#f0e442"/>
<path d="M210.5 201.5l1.75 2.70h-3.50z" fill="#e69f00"/>
<path d="M209.9 205.5h3.00m-1.50 -1.50v3.00" stroke="#56b4e9" stroke-width="0.85" fill="none"/>
<path d="M212.3 200.5l1.30 1.75 -1.30 1.75 -1.30 -1.75z" fill="#f0e442"/>
<path d="M212.4 212.2a1.40 1.40 0 1 0 2.80 0a1.40 1.40 0 1 0 -2.80 0" fill="#009e73"/>
<path d="M214.6 202.9l1.75 2.70h-3.50z" fill="#e69f00"/>
<path d="M215.5 200.6l1.30 1.75 -1.30 1.75 -1.30 -1.75z" fill="#f0e442"/>
<path d="M215.5 206.9h3.00m-1.50 -1.50v3.00" stroke="#56b4e9" stroke-width="0.85" fill="none"/>
<path d="M216.4 202.0a1.40 1.40 0 1 0 2.80 0a1.40 1.40 0 1 0 -2.80 0" fill="#009e73"/>
<path d="M218.7 197.2l1.30 1.75 -1.30 1.75 -1.30 -1.75z" fill="#f0e442"/>
<path d="M220.2 204.5l1.75 2.70h-3.50z" fill="#e69f00"/>
<path d="M219.6 203.6h3.00m-1.50 -1.50v3.00" stroke="#56b4e9" stroke-width="0.85" fill="none"/>
<path d="M221.9 202.9l1.30 1.75 -1.30 1.75 -1.30 -1.75z" fill="#f0e442"/>
<path d="M221.9 199.2h3.00m-1.50 -1.50v3.00" stroke="#56b4e9" stroke-width="0.85" fill="none"/>
<path d="M222.9 201.1a1.40 1.40 0 1 0 2.80 0a1.40 1.40 0 1 0 -2.80 0" fill="#009e73"/>
<path d="M225.1 200.1l1.30 1.75 -1.30 1.75 -1.30 -1.75z" fill="#f0e442"/>
<path d="M226.6 201.1l1.75 2.70h-3.50z" fill="#e69f00"/>
<path d="M226.0 205.0h3.00m-1.50 -1.50v3.00" stroke="#56b4e9" stroke-width="0.85" fill="none"/>
<path d="M227.0 199.5a1.40 1.40 0 1 0 2.80 0a1.40 1.40 0 1 0 -2.80 0" fill="#009e73"/>
<path d="M228.3 202.3h3.00m-1.50 -1.50v3.00" stroke="#56b4e9" stroke-width="0.85" fill="none"/>
<path d="M229.3 202.1a1.40 1.40 0 1 0 2.80 0a1.40 1.40 0 1 0 -2.80 0" fill="#009e73"/>
<path d="M231.6 199.6l1.30 1.75 -1.30 1.75 -1.30 -1.75z" fill="#f0e442"/>
<path d="M233.1 208.9l1.75 2.70h-3.50z" fill="#e69f00"/>
<path d="M232.5 201.5a1.40 1.40 0 1 0 2.80 0a1.40 1.40 0 1 0 -2.80 0" fill="#009e73"/>
<path d="M234.8 203.9l1.30 1.75 -1.30 1.75 -1.30 -1.75z" fill="#f0e442"/>
<path d="M236.3 201.7l1.75 2.70h-3.50z" fill="#e69f00"/>
<path d="M235.6 200.8h3.00m-1.50 -1.50v3.00" stroke="#56b4e9" stroke-width="0.85" fill="none"/>
<path d="M236.6 203.6a1.40 1.40 0 1 0 2.80 0a1.40 1.40 0 1 0 -2.80 0" fill="#009e73"/>
<path d="M238.0 202.8h3.00m-1.50 -1.50v3.00" stroke="#56b4e9" stroke-width="0.85" fill="none"/>
<path d="M238.9 204.9a1.40 1.40 0 1 0 2.80 0a1.40 1.40 0 1 0 -2.80 0" fill="#009e73"/>
<path d="M241.2 204.4l1.30 1.75 -1.30 1.75 -1.30 -1.75z" fill="#f0e442"/>
<path d="M242.7 205.0l1.75 2.70h-3.50z" fill="#e69f00"/>
<path d="M242.2 202.4a1.40 1.40 0 1 0 2.80 0a1.40 1.40 0 1 0 -2.80 0" fill="#009e73"/>
<path d="M244.4 199.6l1.30 1.75 -1.30 1.75 -1.30 -1.75z" fill="#f0e442"/>
<path d="M245.9 202.0l1.75 2.70h-3.50z" fill="#e69f00"/>
<path d="M245.3 201.2h3.00m-1.50 -1.50v3.00" stroke="#56b4e9" stroke-width="0.85" fill="none"/>
<path d="M247.6 198.9l1.30 1.75 -1.30 1.75 -1.30 -1.75z" fill="#f0e442"/>
<path d="M249.1 204.6l1.75 2.70h-3.50z" fill="#e69f00"/>
<path d="M248.6 203.2a1.40 1.40 0 1 0 2.80 0a1.40 1.40 0 1 0 -2.80 0" fill="#009e73"/>
<path d="M250.9 200.2l1.30 1.75 -1.30 1.75 -1.30 -1.75z" fill="#f0e442"/>
<path d="M250.9 208.6a1.40 1.40 0 1 0 2.80 0a1.40 1.40 0 1 0 -2.80 0" fill="#009e73"/>
<path d="M253.2 201.8l1.75 2.70h-3.50z" fill="#e69f00"/>
<path d="M254.1 200.1l1.30 1.75 -1.30 1.75 -1.30 -1.75z" fill="#f0e442"/>
<path d="M255.6 210.1l1.75 2.70h-3.50z" fill="#e69f00"/>
<path d="M255.0 205.5a1.40 1.40 0 1 0 2.80 0a1.40 1.40 0 1 0 -2.80 0" fill="#009e73"/>
<path d="M257.3 200.1l1.30 1.75 -1.30 1.75 -1.30 -1.75z" fill="#f0e442"/>
<path d="M258.8 206.7l1.75 2.70h-3.50z" fill="#e69f00"/>
<path d="M258.1 204.4h3.00m-1.50 -1.50v3.00" stroke="#56b4e9" stroke-width="0.85" fill="none"/>
<path d="M259.1 201.9a1.40 1.40 0 1 0 2.80 0a1.40 1.40 0 1 0 -2.80 0" fill="#009e73"/>
<path d="M262.0 200.7l1.75 2.70h-3.50z" fill="#e69f00"/>
<path d="M261.4 206.9h3.00m-1.50 -1.50v3.00" stroke="#56b4e9" stroke-width="0.85" fill="none"/>
<path d="M262.3 200.5a1.40 1.40 0 1 0 2.80 0a1.40 1.40 0 1 0 -2.80 0" fill="#009e73"/>
<path d="M265.2 201.6l1.75 2.70h-3.50z" fill="#e69f00"/>
<path d="M264.6 200.8h3.00m-1.50 -1.50v3.00" stroke="#56b4e9" stroke-width="0.85" fill="none"/>
<path d="M265.5 201.5a1.40 1.40 0 1 0 2.80 0a1.40 1.40 0 1 0 -2.80 0" fill="#009e73"/>
<path d="M268.4 199.9l1.75 2.70h-3.50z" fill="#e69f00"/>
<path d="M267.8 203.8h3.00m-1.50 -1.50v3.00" stroke="#56b4e9" stroke-width="0.85" fill="none"/>
<path d="M268.8 203.0a1.40 1.40 0 1 0 2.80 0a1.40 1.40 0 1 0 -2.80 0" fill="#009e73"/>
<path d="M271.6 204.5l1.75 2.70h-3.50z" fill="#e69f00"/>
<path d="M271.0 205.7h3.00m-1.50 -1.50v3.00" stroke="#56b4e9" stroke-width="0.85" fill="none"/>
<path d="M272.0 200.7a1.40 1.40 0 1 0 2.80 0a1.40 1.40 0 1 0 -2.80 0" fill="#009e73"/>
<path d="M273.3 200.5h3.00m-1.50 -1.50v3.00" stroke="#56b4e9" stroke-width="0.85" fill="none"/>
<path d="M274.3 201.8a1.40 1.40 0 1 0 2.80 0a1.40 1.40 0 1 0 -2.80 0" fill="#009e73"/>
<path d="M276.6 200.9l1.30 1.75 -1.30 1.75 -1.30 -1.75z" fill="#f0e442"/>
<path d="M276.7 208.6a1.40 1.40 0 1 0 2.80 0a1.40 1.40 0 1 0 -2.80 0" fill="#009e73"/>
<path d="M278.9 200.8l1.75 2.70h-3.50z" fill="#e69f00"/>
<path d="M278.3 201.3h3.00m-1.50 -1.50v3.00M279.8 200.8h3.00m-1.50 -1.50v3.00" stroke="#56b4e9" stroke-width="0.85" fill="none"/>
<path d="M280.7 205.3a1.40 1.40 0 1 0 2.80 0a1.40 1.40 0 1 0 -2.80 0" fill="#009e73"/>
<path d="M283.0 201.1l1.30 1.75 -1.30 1.75 -1.30 -1.75z" fill="#f0e442"/>
<path d="M284.5 223.6l1.75 2.70h-3.50z" fill="#e69f00"/>
<path d="M284.0 206.5a1.40 1.40 0 1 0 2.80 0a1.40 1.40 0 1 0 -2.80 0" fill="#009e73"/>
<path d="M284.7 204.4h3.00m-1.50 -1.50v3.00" stroke="#56b4e9" stroke-width="0.85" fill="none"/>
<path d="M287.7 213.2l1.75 2.70h-3.50z" fill="#e69f00"/>
<path d="M288.6 204.8l1.30 1.75 -1.30 1.75 -1.30 -1.75z" fill="#f0e442"/>
<path d="M288.0 202.9a1.40 1.40 0 1 0 2.80 0a1.40 1.40 0 1 0 -2.80 0" fill="#009e73"/>
<path d="M289.4 208.6h3.00m-1.50 -1.50v3.00" stroke="#56b4e9" stroke-width="0.85" fill="none"/>
<path d="M291.8 213.0l1.30 1.75 -1.30 1.75 -1.30 -1.75z" fill="#f0e442"/>
<path d="M291.3 205.5a1.40 1.40 0 1 0 2.80 0a1.40 1.40 0 1 0 -2.80 0M292.7 208.6a1.40 1.40 0 1 0 2.80 0a1.40 1.40 0 1 0 -2.80 0" fill="#009e73"/>
<path d="M295.0 203.9l1.75 2.70h-3.50z" fill="#e69f00"/>
<path d="M295.9 200.6l1.30 1.75 -1.30 1.75 -1.30 -1.75z" fill="#f0e442"/>
<path d="M297.4 204.1l1.75 2.70h-3.50z" fill="#e69f00"/>
<path d="M296.8 207.2a1.40 1.40 0 1 0 2.80 0a1.40 1.40 0 1 0 -2.80 0" fill="#009e73"/>
<path d="M299.1 205.0l1.30 1.75 -1.30 1.75 -1.30 -1.75z" fill="#f0e442"/>
<path d="M299.1 208.1h3.00m-1.50 -1.50v3.00" stroke="#56b4e9" stroke-width="0.85" fill="none"/>
<path d="M300.0 204.1a1.40 1.40 0 1 0 2.80 0a1.40 1.40 0 1 0 -2.80 0" fill="#009e73"/>
<path d="M302.3 205.7l1.30 1.75 -1.30 1.75 -1.30 -1.75z" fill="#f0e442"/>
<path d="M303.8 207.5l1.75 2.70h-3.50z" fill="#e69f00"/>
<path d="M303.2 204.7a1.40 1.40 0 1 0 2.80 0a1.40 1.40 0 1 0 -2.80 0" fill="#009e73"/>
<path d="M305.5 203.8l1.30 1.75 -1.30 1.75 -1.30 -1.75zM307.0 195.4l1.30 1.75 -1.30 1.75 -1.30 -1.75z" fill="#f0e442"/>
<path d="M307.9 202.9l1.75 2.70h-3.50z" fill="#e69f00"/>
<path d="M307.3 201.3a1.40 1.40 0 1 0 2.80 0a1.40 1.40 0 1 0 -2.80 0" fill="#009e73"/>
<path d="M310.2 208.1l1.75 2.70h-3.50z" fill="#e69f00"/>
<path d="M309.6 206.6h3.00m-1.50 -1.50v3.00" stroke="#56b4e9" stroke-width="0.85" fill="none"/>
<path d="M311.9 203.9l1.30 1.75 -1.30 1.75 -1.30 -1.75z" fill="#f0e442"/>
<path d="M313.4 206.0l1.75 2.70h-3.50z" fill="#e69f00"/>
<path d="M312.9 206.5a1.40 1.40 0 1 0 2.80 0a1.40 1.40 0 1 0 -2.80 0" fill="#009e73"/>
<path d="M313.7 202.4h3.00m-1.50 -1.50v3.00" stroke="#56b4e9" stroke-width="0.85" fill="none"/>
<path d="M316.6 204.2l1.75 2.70h-3.50z" fill="#e69f00"/>
<path d="M316.0 205.5h3.00m-1.50 -1.50v3.00" stroke="#56b4e9" stroke-width="0.85" fill="none"/>
<path d="M317.0 205.4a1.40 1.40 0 1 0 2.80 0a1.40 1.40 0 1 0 -2.80 0M318.5 208.6a1.40 1.40 0 1 0 2.80 0a1.40 1.40 0 1 0 -2.80 0" fill="#009e73"/>
<path d="M320.7 208.1l1.75 2.70h-3.50z" fill="#e69f00"/>
<path d="M320.1 205.5h3.00m-1.50 -1.50v3.00" stroke="#56b4e9" stroke-width="0.85" fill="none"/>
<path d="M321.7 207.5a1.40 1.40 0 1 0 2.80 0a1.40 1.40 0 1 0 -2.80 0" fill="#009e73"/>
<path d="M323.9 204.8l1.30 1.75 -1.30 1.75 -1.30 -1.75z" fill="#f0e442"/>
<path d="M323.3 202.4h3.00m-1.50 -1.50v3.00" stroke="#56b4e9" stroke-width="0.85" fill="none"/>
<path d="M326.3 204.5l1.75 2.70h-3.50z" fill="#e69f00"/>
<path d="M325.7 208.9h3.00m-1.50 -1.50v3.00" stroke="#56b4e9" stroke-width="0.85" fill="none"/>
<path d="M326.6 206.0a1.40 1.40 0 1 0 2.80 0a1.40 1.40 0 1 0 -2.80 0" fill="#009e73"/>
<path d="M329.5 198.4l1.75 2.70h-3.50z" fill="#e69f00"/>
<path d="M328.9 202.6h3.00m-1.50 -1.50v3.00" stroke="#56b4e9" stroke-width="0.85" fill="none"/>
<path d="M331.2 200.5l1.30 1.75 -1.30 1.75 -1.30 -1.75z" fill="#f0e442"/>
<path d="M332.7 202.3l1.75 2.70h-3.50z" fill="#e69f00"/>
<path d="M332.1 204.0h3.00m-1.50 -1.50v3.00" stroke="#56b4e9" stroke-width="0.85" fill="none"/>
<path d="M333.1 201.5a1.40 1.40 0 1 0 2.80 0a1.40 1.40 0 1 0 -2.80 0" fill="#009e73"/>
<path d="M15.3 280.2V271.9M16.2 280.2V283.3M18.5 280.2V270.8M19.4 280.2V282.3M22.6 280.2V284.4M24.9 280.2V285.4M25.8 280.2V283.3M28.2 280.2V282.3M29.0 280.2V277.1M30.5 280.2V261.5M31.4 280.2V266.4M32.2 280.2V288.4M33.7 280.2V272.9M34.6 280.2V285.3M35.5 280.2V276.3M36.9 280.2V275.3M37.8 280.2V281.2M38.7 280.2V274.8M41.0 280.2V284.4M41.9 280.2V276.0M45.1 280.2V274.0M46.6 280.2V279.5M47.5 280.2V269.1M48.3 280.2V283.5M50.7 280.2V269.8M51.5 280.2V277.1M53.0 280.2V265.9M53.9 280.2V272.8M54.7 280.2V277.0M57.1 280.2V289.6M58.0 280.2V274.0M59.4 280.2V280.3M60.3 280.2V272.6M61.2 280.2V279.6M62.7 280.2V273.9M63.5 280.2V274.0M64.4 280.2V275.8M65.9 280.2V278.7M66.7 280.2V279.5M67.6 280.2V276.0M69.1 280.2V274.1M70.0 280.2V271.0M70.8 280.2V280.4M72.3 280.2V284.7M73.2 280.2V277.0M74.0 280.2V293.6M75.5 280.2V286.8M76.4 280.2V279.4M77.3 280.2V276.7M78.7 280.2V274.2M79.6 280.2V277.9M80.5 280.2V275.4M82.8 280.2V270.8M83.7 280.2V286.4M86.0 280.2V276.0M86.9 280.2V285.4M88.4 280.2V283.3M89.2 280.2V276.0M90.1 280.2V274.8M91.6 280.2V279.0M92.5 280.2V274.6M93.3 280.2V276.1M94.8 280.2V272.4M95.7 280.2V275.0M96.5 280.2V272.5M98.0 280.2V284.6M98.9 280.2V281.3M99.8 280.2V279.6M101.2 280.2V275.3M102.1 280.2V271.2M103.0 280.2V275.6M104.5 280.2V274.2M105.3 280.2V267.0M106.2 280.2V268.0M107.7 280.2V274.2M108.5 280.2V277.1M109.4 280.2V272.6M111.7 280.2V271.9M112.6 280.2V283.3M115.0 280.2V285.6M115.8 280.2V277.0M117.3 280.2V271.5M118.2 280.2V285.0M119.0 280.2V278.9M121.4 280.2V276.0M122.3 280.2V286.4M123.7 280.2V273.4M124.6 280.2V272.7M125.5 280.2V269.5M127.8 280.2V288.5M128.7 280.2V278.1M130.2 280.2V272.0M131.0 280.2V267.0M131.9 280.2V282.7M134.3 280.2V277.1M135.1 280.2V284.4M136.6 280.2V283.5M137.5 280.2V268.0M138.3 280.2V280.5M140.7 280.2V285.4M141.6 280.2V277.1M143.0 280.2V284.0M143.9 280.2V271.1M144.8 280.2V275.8M146.2 280.2V273.6M147.1 280.2V272.1M148.0 280.2V279.8M150.3 280.2V275.0M151.2 280.2V282.3M152.7 280.2V281.5M153.5 280.2V287.6M154.4 280.2V278.9M155.9 280.2V271.5M156.8 280.2V272.2M159.1 280.2V274.3M160.0 280.2V272.8M160.8 280.2V279.4M163.2 280.2V292.7M164.1 280.2V276.0M165.5 280.2V284.2M166.4 280.2V281.2M167.3 280.2V268.7M168.8 280.2V268.0M169.6 280.2V283.6M170.5 280.2V279.3M172.0 280.2V272.5M172.8 280.2V276.9M173.7 280.2V274.0M175.2 280.2V277.5M176.1 280.2V275.8M176.9 280.2V278.3M178.4 280.2V274.4M179.3 280.2V270.8M180.1 280.2V289.6M181.6 280.2V283.5M182.5 280.2V276.1M183.3 280.2V284.0M184.8 280.2V268.0M185.7 280.2V275.8M186.6 280.2V268.5M188.9 280.2V274.0M189.8 280.2V284.4M191.3 280.2V277.8M192.1 280.2V277.0M193.0 280.2V285.0M194.5 280.2V258.4M195.3 280.2V271.0M196.2 280.2V271.7M197.7 280.2V272.4M198.6 280.2V279.4M199.4 280.2V277.1M200.9 280.2V276.2M201.8 280.2V273.9M202.6 280.2V283.7M204.1 280.2V288.6M205.0 280.2V278.4M205.9 280.2V278.5M209.1 280.2V277.1M210.5 280.2V273.2M211.4 280.2V274.2M212.3 280.2V278.3M214.6 280.2V277.1M215.5 280.2V275.0M217.0 280.2V281.4M217.8 280.2V278.0M218.7 280.2V278.0M220.2 280.2V281.6M221.1 280.2V279.8M221.9 280.2V276.4M223.4 280.2V267.6M224.3 280.2V286.5M225.1 280.2V274.0M226.6 280.2V280.5M227.5 280.2V283.0M228.4 280.2V275.1M230.7 280.2V274.0M231.6 280.2V282.3M233.1 280.2V280.5M233.9 280.2V284.5M234.8 280.2V280.8M236.3 280.2V279.8M237.1 280.2V283.9M238.0 280.2V268.2M239.5 280.2V281.0M240.3 280.2V279.3M241.2 280.2V279.9M244.4 280.2V277.1M246.8 280.2V275.0M247.6 280.2V284.4M249.1 280.2V284.1M250.0 280.2V279.4M250.9 280.2V275.3M252.3 280.2V273.3M253.2 280.2V276.8M254.1 280.2V271.4M255.6 280.2V277.2M256.4 280.2V270.2M257.3 280.2V279.8M258.8 280.2V278.4M259.6 280.2V281.8M260.5 280.2V274.3M262.0 280.2V274.5M262.9 280.2V280.2M263.7 280.2V285.8M265.2 280.2V282.5M266.1 280.2V278.4M266.9 280.2V275.9M268.4 280.2V282.5M269.3 280.2V277.4M270.2 280.2V286.0M271.6 280.2V277.7M272.5 280.2V276.4M273.4 280.2V292.9M274.8 280.2V280.1M276.6 280.2V280.2M278.1 280.2V277.8M278.9 280.2V269.0M279.8 280.2V280.8M282.1 280.2V275.0M283.0 280.2V278.1M284.5 280.2V279.9M285.4 280.2V284.3M286.2 280.2V268.7M287.7 280.2V264.2M288.6 280.2V282.3M289.4 280.2V274.4M290.9 280.2V273.3M291.8 280.2V282.0M292.7 280.2V279.2M295.0 280.2V283.3M295.9 280.2V276.0M297.4 280.2V274.9M298.2 280.2V282.0M299.1 280.2V273.7M300.6 280.2V283.1M301.4 280.2V259.2M302.3 280.2V269.4M303.8 280.2V276.6M304.6 280.2V288.2M305.5 280.2V280.7M307.0 280.2V281.0M307.9 280.2V277.7M308.7 280.2V283.0M311.1 280.2V277.1M311.9 280.2V271.9M313.4 280.2V275.4M314.3 280.2V276.9M315.2 280.2V283.0M317.5 280.2V276.0M318.4 280.2V285.4M319.9 280.2V274.9M320.7 280.2V275.5M321.6 280.2V273.1M323.9 280.2V285.4M324.8 280.2V276.0M326.3 280.2V276.7M327.2 280.2V273.6M328.0 280.2V274.2M329.5 280.2V273.4M330.4 280.2V277.9M331.2 280.2V277.9M332.7 280.2V263.4M333.6 280.2V267.7M334.5 280.2V268.8" stroke="#c4c4c4" stroke-width="0.85" fill="none"/>
<path d="M14.4 280.2V258.9M17.6 280.2V267.7M20.9 280.2V258.4M21.7 280.2V263.6M24.1 280.2V258.4M27.3 280.2V261.5M40.2 280.2V292.7M43.4 280.2V261.0M44.2 280.2V291.6M49.8 280.2V259.4M56.2 280.2V264.6M81.9 280.2V293.7M85.2 280.2V292.7M110.9 280.2V265.6M114.1 280.2V262.7M120.5 280.2V263.6M127.0 280.2V264.6M133.4 280.2V291.6M139.8 280.2V265.6M149.5 280.2V298.9M157.6 280.2V268.7M162.3 280.2V291.6M188.0 280.2V307.2M207.3 280.2V263.0M208.2 280.2V285.4M213.8 280.2V293.2M229.8 280.2V294.8M242.7 280.2V295.8M243.6 280.2V286.4M245.9 280.2V267.7M275.7 280.2V266.9M281.3 280.2V297.9M294.1 280.2V290.6M310.2 280.2V293.7M316.6 280.2V267.7M323.1 280.2V293.7" stroke="#555" stroke-width="0.95" fill="none"/>
<path d="M12.9 258.9h3.00m-1.50 -1.50v3.00" stroke="#56b4e9" stroke-width="0.85" fill="none"/>
<path d="M15.3 270.3l1.75 2.70h-3.50z" fill="#e69f00"/>
<path d="M14.8 283.3a1.40 1.40 0 1 0 2.80 0a1.40 1.40 0 1 0 -2.80 0" fill="#009e73"/>
<path d="M16.1 267.7h3.00m-1.50 -1.50v3.00" stroke="#56b4e9" stroke-width="0.85" fill="none"/>
<path d="M18.5 269.1l1.30 1.75 -1.30 1.75 -1.30 -1.75z" fill="#f0e442"/>
<path d="M19.4 280.7l1.75 2.70h-3.50zM20.9 256.8l1.75 2.70h-3.50z" fill="#e69f00"/>
<path d="M21.7 261.8l1.30 1.75 -1.30 1.75 -1.30 -1.75z" fill="#f0e442"/>
<path d="M21.2 284.4a1.40 1.40 0 1 0 2.80 0a1.40 1.40 0 1 0 -2.80 0" fill="#009e73"/>
<path d="M24.1 256.8l1.75 2.70h-3.50z" fill="#e69f00"/>
<path d="M23.4 285.4h3.00m-1.50 -1.50v3.00" stroke="#56b4e9" stroke-width="0.85" fill="none"/>
<path d="M24.4 283.3a1.40 1.40 0 1 0 2.80 0a1.40 1.40 0 1 0 -2.80 0" fill="#009e73"/>
<path d="M27.3 259.9l1.75 2.70h-3.50z" fill="#e69f00"/>
<path d="M26.8 282.3a1.40 1.40 0 1 0 2.80 0a1.40 1.40 0 1 0 -2.80 0" fill="#009e73"/>
<path d="M29.0 275.3l1.30 1.75 -1.30 1.75 -1.30 -1.75z" fill="#f0e442"/>
<path d="M30.5 259.9l1.75 2.70h-3.50z" fill="#e69f00"/>
<path d="M29.9 266.4h3.00m-1.50 -1.50v3.00" stroke="#56b4e9" stroke-width="0.85" fill="none"/>
<path d="M32.2 286.7l1.30 1.75 -1.30 1.75 -1.30 -1.75z" fill="#f0e442"/>
<path d="M33.7 271.3l1.75 2.70h-3.50z" fill="#e69f00"/>
<path d="M33.1 285.3h3.00m-1.50 -1.50v3.00" stroke="#56b4e9" stroke-width="0.85" fill="none"/>
<path d="M35.5 274.5l1.30 1.75 -1.30 1.75 -1.30 -1.75z" fill="#f0e442"/>
<path d="M35.4 275.3h3.00m-1.50 -1.50v3.00" stroke="#56b4e9" stroke-width="0.85" fill="none"/>
<path d="M36.4 281.2a1.40 1.40 0 1 0 2.80 0a1.40 1.40 0 1 0 -2.80 0" fill="#009e73"/>
<path d="M38.7 273.0l1.30 1.75 -1.30 1.75 -1.30 -1.75zM40.2 290.9l1.30 1.75 -1.30 1.75 -1.30 -1.75z" fill="#f0e442"/>
<path d="M39.6 284.4a1.40 1.40 0 1 0 2.80 0a1.40 1.40 0 1 0 -2.80 0" fill="#009e73"/>
<path d="M41.9 274.5l1.75 2.70h-3.50zM43.4 259.4l1.75 2.70h-3.50z" fill="#e69f00"/>
<path d="M44.2 289.9l1.30 1.75 -1.30 1.75 -1.30 -1.75z" fill="#f0e442"/>
<path d="M43.7 274.0a1.40 1.40 0 1 0 2.80 0a1.40 1.40 0 1 0 -2.80 0" fill="#009e73"/>
<path d="M45.1 279.5h3.00m-1.50 -1.50v3.00" stroke="#56b4e9" stroke-width="0.85" fill="none"/>
<path d="M46.1 269.1a1.40 1.40 0 1 0 2.80 0a1.40 1.40 0 1 0 -2.80 0" fill="#009e73"/>
<path d="M48.3 281.7l1.30 1.75 -1.30 1.75 -1.30 -1.75z" fill="#f0e442"/>
<path d="M48.3 259.4h3.00m-1.50 -1.50v3.00" stroke="#56b4e9" stroke-width="0.85" fill="none"/>
<path d="M49.3 269.8a1.40 1.40 0 1 0 2.80 0a1.40 1.40 0 1 0 -2.80 0" fill="#009e73"/>
<path d="M51.5 275.5l1.75 2.70h-3.50zM53.0 264.3l1.75 2.70h-3.50z" fill="#e69f00"/>
<path d="M52.4 272.8h3.00m-1.50 -1.50v3.00" stroke="#56b4e9" stroke-width="0.85" fill="none"/>
<path d="M53.3 277.0a1.40 1.40 0 1 0 2.80 0a1.40 1.40 0 1 0 -2.80 0" fill="#009e73"/>
<path d="M54.7 264.6h3.00m-1.50 -1.50v3.00" stroke="#56b4e9" stroke-width="0.85" fill="none"/>
<path d="M55.7 289.6a1.40 1.40 0 1 0 2.80 0a1.40 1.40 0 1 0 -2.80 0" fill="#009e73"/>
<path d="M58.0 272.2l1.30 1.75 -1.30 1.75 -1.30 -1.75z" fill="#f0e442"/>
<path d="M59.4 278.8l1.75 2.70h-3.50z" fill="#e69f00"/>
<path d="M58.8 272.6h3.00m-1.50 -1.50v3.00" stroke="#56b4e9" stroke-width="0.85" fill="none"/>
<path d="M59.8 279.6a1.40 1.40 0 1 0 2.80 0a1.40 1.40 0 1 0 -2.80 0" fill="#009e73"/>
<path d="M61.2 273.9h3.00m-1.50 -1.50v3.00" stroke="#56b4e9" stroke-width="0.85" fill="none"/>
<path d="M62.1 274.0a1.40 1.40 0 1 0 2.80 0a1.40 1.40 0 1 0 -2.80 0" fill="#009e73"/>
<path d="M64.4 274.0l1.30 1.75 -1.30 1.75 -1.30 -1.75z" fill="#f0e442"/>
<path d="M65.9 277.1l1.75 2.70h-3.50z" fill="#e69f00"/>
<path d="M65.3 279.5a1.40 1.40 0 1 0 2.80 0a1.40 1.40 0 1 0 -2.80 0" fill="#009e73"/>
<path d="M67.6 274.3l1.30 1.75 -1.30 1.75 -1.30 -1.75z" fill="#f0e442"/>
<path d="M69.1 272.5l1.75 2.70h-3.50z" fill="#e69f00"/>
<path d="M68.6 271.0a1.40 1.40 0 1 0 2.80 0a1.40 1.40 0 1 0 -2.80 0" fill="#009e73"/>
<path d="M70.8 278.6l1.30 1.75 -1.30 1.75 -1.30 -1.75z" fill="#f0e442"/>
<path d="M70.8 284.7h3.00m-1.50 -1.50v3.00" stroke="#56b4e9" stroke-width="0.85" fill="none"/>
<path d="M71.8 277.0a1.40 1.40 0 1 0 2.80 0a1.40 1.40 0 1 0 -2.80 0" fill="#009e73"/>
<path d="M74.0 291.9l1.30 1.75 -1.30 1.75 -1.30 -1.75z" fill="#f0e442"/>
<path d="M75.5 285.3l1.75 2.70h-3.50z" fill="#e69f00"/>
<path d="M74.9 279.4h3.00m-1.50 -1.50v3.00" stroke="#56b4e9" stroke-width="0.85" fill="none"/>
<path d="M75.9 276.7a1.40 1.40 0 1 0 2.80 0a1.40 1.40 0 1 0 -2.80 0" fill="#009e73"/>
<path d="M78.7 272.6l1.75 2.70h-3.50z" fill="#e69f00"/>
<path d="M78.1 277.9h3.00m-1.50 -1.50v3.00" stroke="#56b4e9" stroke-width="0.85" fill="none"/>
<path d="M80.5 273.6l1.30 1.75 -1.30 1.75 -1.30 -1.75z" fill="#f0e442"/>
<path d="M80.4 293.7h3.00m-1.50 -1.50v3.00" stroke="#56b4e9" stroke-width="0.85" fill="none"/>
<path d="M82.8 269.3l1.75 2.70h-3.50z" fill="#e69f00"/>
<path d="M82.3 286.4a1.40 1.40 0 1 0 2.80 0a1.40 1.40 0 1 0 -2.80 0" fill="#009e73"/>
<path d="M83.7 292.7h3.00m-1.50 -1.50v3.00" stroke="#56b4e9" stroke-width="0.85" fill="none"/>
<path d="M86.0 274.3l1.30 1.75 -1.30 1.75 -1.30 -1.75z" fill="#f0e442"/>
<path d="M86.9 283.8l1.75 2.70h-3.50zM88.4 281.8l1.75 2.70h-3.50z" fill="#e69f00"/>
<path d="M87.7 276.0h3.00m-1.50 -1.50v3.00" stroke="#56b4e9" stroke-width="0.85" fill="none"/>
<path d="M90.1 273.1l1.30 1.75 -1.30 1.75 -1.30 -1.75z" fill="#f0e442"/>
<path d="M91.6 277.4l1.75 2.70h-3.50z" fill="#e69f00"/>
<path d="M91.1 274.6a1.40 1.40 0 1 0 2.80 0a1.40 1.40 0 1 0 -2.80 0" fill="#009e73"/>
<path d="M93.3 274.3l1.30 1.75 -1.30 1.75 -1.30 -1.75z" fill="#f0e442"/>
<path d="M93.3 272.4h3.00m-1.50 -1.50v3.00" stroke="#56b4e9" stroke-width="0.85" fill="none"/>
<path d="M94.3 275.0a1.40 1.40 0 1 0 2.80 0a1.40 1.40 0 1 0 -2.80 0" fill="#009e73"/>
<path d="M96.5 270.8l1.30 1.75 -1.30 1.75 -1.30 -1.75z" fill="#f0e442"/>
<path d="M96.5 284.6h3.00m-1.50 -1.50v3.00" stroke="#56b4e9" stroke-width="0.85" fill="none"/>
<path d="M97.5 281.3a1.40 1.40 0 1 0 2.80 0a1.40 1.40 0 1 0 -2.80 0" fill="#009e73"/>
<path d="M99.8 277.9l1.30 1.75 -1.30 1.75 -1.30 -1.75z" fill="#f0e442"/>
<path d="M101.2 273.7l1.75 2.70h-3.50z" fill="#e69f00"/>
<path d="M100.7 271.2a1.40 1.40 0 1 0 2.80 0a1.40 1.40 0 1 0 -2.80 0" fill="#009e73"/>
<path d="M103.0 273.9l1.30 1.75 -1.30 1.75 -1.30 -1.75z" fill="#f0e442"/>
<path d="M103.0 274.2h3.00m-1.50 -1.50v3.00" stroke="#56b4e9" stroke-width="0.85" fill="none"/>
<path d="M103.9 267.0a1.40 1.40 0 1 0 2.80 0a1.40 1.40 0 1 0 -2.80 0" fill="#009e73"/>
<path d="M106.2 266.2l1.30 1.75 -1.30 1.75 -1.30 -1.75z" fill="#f0e442"/>
<path d="M107.7 272.6l1.75 2.70h-3.50z" fill="#e69f00"/>
<path d="M107.0 277.1h3.00m-1.50 -1.50v3.00" stroke="#56b4e9" stroke-width="0.85" fill="none"/>
<path d="M109.4 270.8l1.30 1.75 -1.30 1.75 -1.30 -1.75z" fill="#f0e442"/>
<path d="M109.5 265.6a1.40 1.40 0 1 0 2.80 0a1.40 1.40 0 1 0 -2.80 0" fill="#009e73"/>
<path d="M111.7 270.3l1.75 2.70h-3.50z" fill="#e69f00"/>
<path d="M112.6 281.6l1.30 1.75 -1.30 1.75 -1.30 -1.75z" fill="#f0e442"/>
<path d="M114.1 261.2l1.75 2.70h-3.50z" fill="#e69f00"/>
<path d="M113.5 285.6h3.00m-1.50 -1.50v3.00" stroke="#56b4e9" stroke-width="0.85" fill="none"/>
<path d="M115.8 275.3l1.30 1.75 -1.30 1.75 -1.30 -1.75z" fill="#f0e442"/>
<path d="M115.8 271.5h3.00m-1.50 -1.50v3.00" stroke="#56b4e9" stroke-width="0.85" fill="none"/>
<path d="M116.8 285.0a1.40 1.40 0 1 0 2.80 0a1.40 1.40 0 1 0 -2.80 0" fill="#009e73"/>
<path d="M119.0 277.1l1.30 1.75 -1.30 1.75 -1.30 -1.75z" fill="#f0e442"/>
<path d="M119.0 263.6h3.00m-1.50 -1.50v3.00" stroke="#56b4e9" stroke-width="0.85" fill="none"/>
<path d="M120.0 276.0a1.40 1.40 0 1 0 2.80 0a1.40 1.40 0 1 0 -2.80 0" fill="#009e73"/>
<path d="M122.3 284.9l1.75 2.70h-3.50zM123.7 271.9l1.75 2.70h-3.50z" fill="#e69f00"/>
<path d="M123.1 272.7h3.00m-1.50 -1.50v3.00" stroke="#56b4e9" stroke-width="0.85" fill="none"/>
<path d="M124.1 269.5a1.40 1.40 0 1 0 2.80 0a1.40 1.40 0 1 0 -2.80 0" fill="#009e73"/>
<path d="M125.5 264.6h3.00m-1.50 -1.50v3.00" stroke="#56b4e9" stroke-width="0.85" fill="none"/>
<path d="M126.4 288.5a1.40 1.40 0 1 0 2.80 0a1.40 1.40 0 1 0 -2.80 0" fill="#009e73"/>
<path d="M128.7 276.4l1.30 1.75 -1.30 1.75 -1.30 -1.75z" fill="#f0e442"/>
<path d="M128.7 272.0h3.00m-1.50 -1.50v3.00" stroke="#56b4e9" stroke-width="0.85" fill="none"/>
<path d="M129.6 267.0a1.40 1.40 0 1 0 2.80 0a1.40 1.40 0 1 0 -2.80 0" fill="#009e73"/>
<path d="M131.9 280.9l1.30 1.75 -1.30 1.75 -1.30 -1.75z" fill="#f0e442"/>
<path d="M132.0 291.6a1.40 1.40 0 1 0 2.80 0a1.40 1.40 0 1 0 -2.80 0" fill="#009e73"/>
<path d="M134.3 275.5l1.75 2.70h-3.50z" fill="#e69f00"/>
<path d="M135.1 282.6l1.30 1.75 -1.30 1.75 -1.30 -1.75z" fill="#f0e442"/>
<path d="M136.6 281.9l1.75 2.70h-3.50z" fill="#e69f00"/>
<path d="M136.1 268.0a1.40 1.40 0 1 0 2.80 0a1.40 1.40 0 1 0 -2.80 0" fill="#009e73"/>
<path d="M138.3 278.7l1.30 1.75 -1.30 1.75 -1.30 -1.75z" fill="#f0e442"/>
<path d="M138.3 265.6h3.00m-1.50 -1.50v3.00" stroke="#56b4e9" stroke-width="0.85" fill="none"/>
<path d="M140.7 283.6l1.30 1.75 -1.30 1.75 -1.30 -1.75z" fill="#f0e442"/>
<path d="M140.2 277.1a1.40 1.40 0 1 0 2.80 0a1.40 1.40 0 1 0 -2.80 0" fill="#009e73"/>
<path d="M141.5 284.0h3.00m-1.50 -1.50v3.00" stroke="#56b4e9" stroke-width="0.85" fill="none"/>
<path d="M142.5 271.1a1.40 1.40 0 1 0 2.80 0a1.40 1.40 0 1 0 -2.80 0" fill="#009e73"/>
<path d="M144.8 274.1l1.30 1.75 -1.30 1.75 -1.30 -1.75z" fill="#f0e442"/>
<path d="M144.7 273.6h3.00m-1.50 -1.50v3.00" stroke="#56b4e9" stroke-width="0.85" fill="none"/>
<path d="M145.7 272.1a1.40 1.40 0 1 0 2.80 0a1.40 1.40 0 1 0 -2.80 0" fill="#009e73"/>
<path d="M148.0 278.0l1.30 1.75 -1.30 1.75 -1.30 -1.75z" fill="#f0e442"/>
<path d="M148.1 298.9a1.40 1.40 0 1 0 2.80 0a1.40 1.40 0 1 0 -2.80 0" fill="#009e73"/>
<path d="M150.3 273.4l1.75 2.70h-3.50z" fill="#e69f00"/>
<path d="M151.2 280.5l1.30 1.75 -1.30 1.75 -1.30 -1.75z" fill="#f0e442"/>
<path d="M151.2 281.5h3.00m-1.50 -1.50v3.00" stroke="#56b4e9" stroke-width="0.85" fill="none"/>
<path d="M152.1 287.6a1.40 1.40 0 1 0 2.80 0a1.40 1.40 0 1 0 -2.80 0" fill="#009e73"/>
<path d="M154.4 277.1l1.30 1.75 -1.30 1.75 -1.30 -1.75z" fill="#f0e442"/>
<path d="M154.4 271.5h3.00m-1.50 -1.50v3.00" stroke="#56b4e9" stroke-width="0.85" fill="none"/>
<path d="M155.4 272.2a1.40 1.40 0 1 0 2.80 0a1.40 1.40 0 1 0 -2.80 0" fill="#009e73"/>
<path d="M157.6 267.0l1.30 1.75 -1.30 1.75 -1.30 -1.75z" fill="#f0e442"/>
<path d="M157.6 274.3h3.00m-1.50 -1.50v3.00" stroke="#56b4e9" stroke-width="0.85" fill="none"/>
<path d="M158.6 272.8a1.40 1.40 0 1 0 2.80 0a1.40 1.40 0 1 0 -2.80 0" fill="#009e73"/>
<path d="M160.8 277.6l1.30 1.75 -1.30 1.75 -1.30 -1.75z" fill="#f0e442"/>
<path d="M160.9 291.6a1.40 1.40 0 1 0 2.80 0a1.40 1.40 0 1 0 -2.80 0" fill="#009e73"/>
<path d="M163.2 290.9l1.30 1.75 -1.30 1.75 -1.30 -1.75z" fill="#f0e442"/>
<path d="M164.1 274.5l1.75 2.70h-3.50zM165.5 282.7l1.75 2.70h-3.50z" fill="#e69f00"/>
<path d="M164.9 281.2h3.00m-1.50 -1.50v3.00" stroke="#56b4e9" stroke-width="0.85" fill="none"/>
<path d="M167.3 266.9l1.30 1.75 -1.30 1.75 -1.30 -1.75z" fill="#f0e442"/>
<path d="M167.3 268.0h3.00m-1.50 -1.50v3.00" stroke="#56b4e9" stroke-width="0.85" fill="none"/>
<path d="M168.2 283.6a1.40 1.40 0 1 0 2.80 0a1.40 1.40 0 1 0 -2.80 0" fill="#009e73"/>
<path d="M170.5 277.5l1.30 1.75 -1.30 1.75 -1.30 -1.75z" fill="#f0e442"/>
<path d="M172.0 271.0l1.75 2.70h-3.50z" fill="#e69f00"/>
<path d="M171.4 276.9a1.40 1.40 0 1 0 2.80 0a1.40 1.40 0 1 0 -2.80 0" fill="#009e73"/>
<path d="M173.7 272.2l1.30 1.75 -1.30 1.75 -1.30 -1.75z" fill="#f0e442"/>
<path d="M175.2 275.9l1.75 2.70h-3.50z" fill="#e69f00"/>
<path d="M174.6 275.8h3.00m-1.50 -1.50v3.00" stroke="#56b4e9" stroke-width="0.85" fill="none"/>
<path d="M176.9 276.5l1.30 1.75 -1.30 1.75 -1.30 -1.75z" fill="#f0e442"/>
<path d="M178.4 272.9l1.75 2.70h-3.50z" fill="#e69f00"/>
<path d="M177.8 270.8h3.00m-1.50 -1.50v3.00" stroke="#56b4e9" stroke-width="0.85" fill="none"/>
<path d="M178.7 289.6a1.40 1.40 0 1 0 2.80 0a1.40 1.40 0 1 0 -2.80 0" fill="#009e73"/>
<path d="M181.6 281.9l1.75 2.70h-3.50z" fill="#e69f00"/>
<path d="M181.1 276.1a1.40 1.40 0 1 0 2.80 0a1.40 1.40 0 1 0 -2.80 0" fill="#009e73"/>
<path d="M183.3 282.3l1.30 1.75 -1.30 1.75 -1.30 -1.75z" fill="#f0e442"/>
<path d="M184.8 266.5l1.75 2.70h-3.50z" fill="#e69f00"/>
<path d="M184.2 275.8h3.00m-1.50 -1.50v3.00" stroke="#56b4e9" stroke-width="0.85" fill="none"/>
<path d="M186.6 266.7l1.30 1.75 -1.30 1.75 -1.30 -1.75zM188.0 305.5l1.30 1.75 -1.30 1.75 -1.30 -1.75z" fill="#f0e442"/>
<path d="M188.9 272.4l1.75 2.70h-3.50z" fill="#e69f00"/>
<path d="M188.3 284.4h3.00m-1.50 -1.50v3.00" stroke="#56b4e9" stroke-width="0.85" fill="none"/>
<path d="M191.3 276.3l1.75 2.70h-3.50z" fill="#e69f00"/>
<path d="M190.7 277.0a1.40 1.40 0 1 0 2.80 0a1.40 1.40 0 1 0 -2.80 0" fill="#009e73"/>
<path d="M193.0 283.3l1.30 1.75 -1.30 1.75 -1.30 -1.75z" fill="#f0e442"/>
<path d="M194.5 256.8l1.75 2.70h-3.50z" fill="#e69f00"/>
<path d="M193.8 271.0h3.00m-1.50 -1.50v3.00" stroke="#56b4e9" stroke-width="0.85" fill="none"/>
<path d="M194.8 271.7a1.40 1.40 0 1 0 2.80 0a1.40 1.40 0 1 0 -2.80 0" fill="#009e73"/>
<path d="M197.7 270.9l1.75 2.70h-3.50z" fill="#e69f00"/>
<path d="M197.2 279.4a1.40 1.40 0 1 0 2.80 0a1.40 1.40 0 1 0 -2.80 0" fill="#009e73"/>
<path d="M199.4 275.4l1.30 1.75 -1.30 1.75 -1.30 -1.75z" fill="#f0e442"/>
<path d="M200.9 274.6l1.75 2.70h-3.50z" fill="#e69f00"/>
<path d="M200.3 273.9h3.00m-1.50 -1.50v3.00" stroke="#56b4e9" stroke-width="0.85" fill="none"/>
<path d="M202.6 281.9l1.30 1.75 -1.30 1.75 -1.30 -1.75z" fill="#f0e442"/>
<path d="M204.1 287.0l1.75 2.70h-3.50z" fill="#e69f00"/>
<path d="M203.5 278.4h3.00m-1.50 -1.50v3.00" stroke="#56b4e9" stroke-width="0.85" fill="none"/>
<path d="M204.5 278.5a1.40 1.40 0 1 0 2.80 0a1.40 1.40 0 1 0 -2.80 0" fill="#009e73"/>
<path d="M205.8 263.0h3.00m-1.50 -1.50v3.00" stroke="#56b4e9" stroke-width="0.85" fill="none"/>
<path d="M206.8 285.4a1.40 1.40 0 1 0 2.80 0a1.40 1.40 0 1 0 -2.80 0" fill="#009e73"/>
<path d="M209.1 275.5l1.75 2.70h-3.50z" fill="#e69f00"/>
<path d="M209.0 273.2h3.00m-1.50 -1.50v3.00" stroke="#56b4e9" stroke-width="0.85" fill="none"/>
<path d="M210.0 274.2a1.40 1.40 0 1 0 2.80 0a1.40 1.40 0 1 0 -2.80 0" fill="#009e73"/>
<path d="M212.3 276.5l1.30 1.75 -1.30 1.75 -1.30 -1.75z" fill="#f0e442"/>
<path d="M212.4 293.2a1.40 1.40 0 1 0 2.80 0a1.40 1.40 0 1 0 -2.80 0" fill="#009e73"/>
<path d="M214.6 275.5l1.75 2.70h-3.50z" fill="#e69f00"/>
<path d="M215.5 273.2l1.30 1.75 -1.30 1.75 -1.30 -1.75z" fill="#f0e442"/>
<path d="M217.0 279.8l1.75 2.70h-3.50z" fill="#e69f00"/>
<path d="M216.3 278.0h3.00m-1.50 -1.50v3.00" stroke="#56b4e9" stroke-width="0.85" fill="none"/>
<path d="M218.7 276.3l1.30 1.75 -1.30 1.75 -1.30 -1.75z" fill="#f0e442"/>
<path d="M220.2 280.1l1.75 2.70h-3.50z" fill="#e69f00"/>
<path d="M219.7 279.8a1.40 1.40 0 1 0 2.80 0a1.40 1.40 0 1 0 -2.80 0" fill="#009e73"/>
<path d="M221.9 274.7l1.30 1.75 -1.30 1.75 -1.30 -1.75z" fill="#f0e442"/>
<path d="M223.4 266.0l1.75 2.70h-3.50z" fill="#e69f00"/>
<path d="M222.8 286.5h3.00m-1.50 -1.50v3.00" stroke="#56b4e9" stroke-width="0.85" fill="none"/>
<path d="M225.1 272.2l1.30 1.75 -1.30 1.75 -1.30 -1.75z" fill="#f0e442"/>
<path d="M226.6 278.9l1.75 2.70h-3.50z" fill="#e69f00"/>
<path d="M226.0 283.0h3.00m-1.50 -1.50v3.00" stroke="#56b4e9" stroke-width="0.85" fill="none"/>
<path d="M227.0 275.1a1.40 1.40 0 1 0 2.80 0a1.40 1.40 0 1 0 -2.80 0" fill="#009e73"/>
<path d="M229.8 293.2l1.75 2.70h-3.50z" fill="#e69f00"/>
<path d="M229.2 274.0h3.00m-1.50 -1.50v3.00" stroke="#56b4e9" stroke-width="0.85" fill="none"/>
<path d="M230.2 282.3a1.40 1.40 0 1 0 2.80 0a1.40 1.40 0 1 0 -2.80 0" fill="#009e73"/>
<path d="M233.1 278.9l1.75 2.70h-3.50z" fill="#e69f00"/>
<path d="M232.4 284.5h3.00m-1.50 -1.50v3.00" stroke="#56b4e9" stroke-width="0.85" fill="none"/>
<path d="M234.8 279.0l1.30 1.75 -1.30 1.75 -1.30 -1.75z" fill="#f0e442"/>
<path d="M236.3 278.3l1.75 2.70h-3.50z" fill="#e69f00"/>
<path d="M235.7 283.9a1.40 1.40 0 1 0 2.80 0a1.40 1.40 0 1 0 -2.80 0" fill="#009e73"/>
<path d="M238.0 266.5l1.30 1.75 -1.30 1.75 -1.30 -1.75z" fill="#f0e442"/>
<path d="M238.0 281.0h3.00m-1.50 -1.50v3.00" stroke="#56b4e9" stroke-width="0.85" fill="none"/>
<path d="M238.9 279.3a1.40 1.40 0 1 0 2.80 0a1.40 1.40 0 1 0 -2.80 0" fill="#009e73"/>
<path d="M241.2 278.1l1.30 1.75 -1.30 1.75 -1.30 -1.75z" fill="#f0e442"/>
<path d="M241.2 295.8h3.00m-1.50 -1.50v3.00" stroke="#56b4e9" stroke-width="0.85" fill="none"/>
<path d="M242.2 286.4a1.40 1.40 0 1 0 2.80 0a1.40 1.40 0 1 0 -2.80 0" fill="#009e73"/>
<path d="M244.4 275.5l1.75 2.70h-3.50z" fill="#e69f00"/>
<path d="M244.4 267.7h3.00m-1.50 -1.50v3.00" stroke="#56b4e9" stroke-width="0.85" fill="none"/>
<path d="M246.8 273.4l1.75 2.70h-3.50z" fill="#e69f00"/>
<path d="M246.2 284.4a1.40 1.40 0 1 0 2.80 0a1.40 1.40 0 1 0 -2.80 0" fill="#009e73"/>
<path d="M249.1 282.5l1.75 2.70h-3.50z" fill="#e69f00"/>
<path d="M248.6 279.4a1.40 1.40 0 1 0 2.80 0a1.40 1.40 0 1 0 -2.80 0" fill="#009e73"/>
<path d="M250.9 273.6l1.30 1.75 -1.30 1.75 -1.30 -1.75z" fill="#f0e442"/>
<path d="M252.3 271.8l1.75 2.70h-3.50z" fill="#e69f00"/>
<path d="M251.7 276.8h3.00m-1.50 -1.50v3.00" stroke="#56b4e9" stroke-width="0.85" fill="none"/>
<path d="M254.1 269.7l1.30 1.75 -1.30 1.75 -1.30 -1.75z" fill="#f0e442"/>
<path d="M255.6 275.7l1.75 2.70h-3.50z" fill="#e69f00"/>
<path d="M254.9 270.2h3.00m-1.50 -1.50v3.00" stroke="#56b4e9" stroke-width="0.85" fill="none"/>
<path d="M255.9 279.8a1.40 1.40 0 1 0 2.80 0a1.40 1.40 0 1 0 -2.80 0" fill="#009e73"/>
<path d="M258.8 276.9l1.75 2.70h-3.50z" fill="#e69f00"/>
<path d="M258.2 281.8a1.40 1.40 0 1 0 2.80 0a1.40 1.40 0 1 0 -2.80 0" fill="#009e73"/>
<path d="M260.5 272.6l1.30 1.75 -1.30 1.75 -1.30 -1.75z" fill="#f0e442"/>
<path d="M260.5 274.5h3.00m-1.50 -1.50v3.00" stroke="#56b4e9" stroke-width="0.85" fill="none"/>
<path d="M261.5 280.2a1.40 1.40 0 1 0 2.80 0a1.40 1.40 0 1 0 -2.80 0" fill="#009e73"/>
<path d="M263.7 284.1l1.30 1.75 -1.30 1.75 -1.30 -1.75z" fill="#f0e442"/>
<path d="M265.2 280.9l1.75 2.70h-3.50z" fill="#e69f00"/>
<path d="M264.6 278.4h3.00m-1.50 -1.50v3.00" stroke="#56b4e9" stroke-width="0.85" fill="none"/>
<path d="M265.5 275.9a1.40 1.40 0 1 0 2.80 0a1.40 1.40 0 1 0 -2.80 0" fill="#009e73"/>
<path d="M268.4 280.9l1.75 2.70h-3.50z" fill="#e69f00"/>
<path d="M267.9 277.4a1.40 1.40 0 1 0 2.80 0a1.40 1.40 0 1 0 -2.80 0" fill="#009e73"/>
<path d="M270.2 284.2l1.30 1.75 -1.30 1.75 -1.30 -1.75z" fill="#f0e442"/>
<path d="M270.1 277.7h3.00m-1.50 -1.50v3.00" stroke="#56b4e9" stroke-width="0.85" fill="none"/>
<path d="M271.1 276.4a1.40 1.40 0 1 0 2.80 0a1.40 1.40 0 1 0 -2.80 0" fill="#009e73"/>
<path d="M273.4 291.2l1.30 1.75 -1.30 1.75 -1.30 -1.75z" fill="#f0e442"/>
<path d="M274.8 278.5l1.75 2.70h-3.50z" fill="#e69f00"/>
<path d="M274.2 266.9h3.00m-1.50 -1.50v3.00" stroke="#56b4e9" stroke-width="0.85" fill="none"/>
<path d="M276.6 278.5l1.30 1.75 -1.30 1.75 -1.30 -1.75z" fill="#f0e442"/>
<path d="M278.1 276.2l1.75 2.70h-3.50z" fill="#e69f00"/>
<path d="M277.4 269.0h3.00m-1.50 -1.50v3.00" stroke="#56b4e9" stroke-width="0.85" fill="none"/>
<path d="M278.4 280.8a1.40 1.40 0 1 0 2.80 0a1.40 1.40 0 1 0 -2.80 0M279.9 297.9a1.40 1.40 0 1 0 2.80 0a1.40 1.40 0 1 0 -2.80 0" fill="#009e73"/>
<path d="M282.1 273.4l1.75 2.70h-3.50z" fill="#e69f00"/>
<path d="M281.5 278.1h3.00m-1.50 -1.50v3.00M283.0 279.9h3.00m-1.50 -1.50v3.00" stroke="#56b4e9" stroke-width="0.85" fill="none"/>
<path d="M284.0 284.3a1.40 1.40 0 1 0 2.80 0a1.40 1.40 0 1 0 -2.80 0" fill="#009e73"/>
<path d="M286.2 266.9l1.30 1.75 -1.30 1.75 -1.30 -1.75z" fill="#f0e442"/>
<path d="M287.7 262.6l1.75 2.70h-3.50z" fill="#e69f00"/>
<path d="M287.1 282.3h3.00m-1.50 -1.50v3.00" stroke="#56b4e9" stroke-width="0.85" fill="none"/>
<path d="M288.0 274.4a1.40 1.40 0 1 0 2.80 0a1.40 1.40 0 1 0 -2.80 0" fill="#009e73"/>
<path d="M289.4 273.3h3.00m-1.50 -1.50v3.00" stroke="#56b4e9" stroke-width="0.85" fill="none"/>
<path d="M290.4 282.0a1.40 1.40 0 1 0 2.80 0a1.40 1.40 0 1 0 -2.80 0" fill="#009e73"/>
<path d="M292.7 277.4l1.30 1.75 -1.30 1.75 -1.30 -1.75z" fill="#f0e442"/>
<path d="M292.7 290.6a1.40 1.40 0 1 0 2.80 0a1.40 1.40 0 1 0 -2.80 0" fill="#009e73"/>
<path d="M295.0 281.6l1.30 1.75 -1.30 1.75 -1.30 -1.75z" fill="#f0e442"/>
<path d="M295.9 274.5l1.75 2.70h-3.50zM297.4 273.3l1.75 2.70h-3.50z" fill="#e69f00"/>
<path d="M296.7 282.0h3.00m-1.50 -1.50v3.00" stroke="#56b4e9" stroke-width="0.85" fill="none"/>
<path d="M297.7 273.7a1.40 1.40 0 1 0 2.80 0a1.40 1.40 0 1 0 -2.80 0" fill="#009e73"/>
<path d="M300.6 281.5l1.75 2.70h-3.50z" fill="#e69f00"/>
<path d="M300.0 259.2a1.40 1.40 0 1 0 2.80 0a1.40 1.40 0 1 0 -2.80 0" fill="#009e73"/>
<path d="M302.3 267.7l1.30 1.75 -1.30 1.75 -1.30 -1.75z" fill="#f0e442"/>
<path d="M303.8 275.0l1.75 2.70h-3.50z" fill="#e69f00"/>
<path d="M303.1 288.2h3.00m-1.50 -1.50v3.00" stroke="#56b4e9" stroke-width="0.85" fill="none"/>
<path d="M304.1 280.7a1.40 1.40 0 1 0 2.80 0a1.40 1.40 0 1 0 -2.80 0" fill="#009e73"/>
<path d="M307.0 279.5l1.75 2.70h-3.50z" fill="#e69f00"/>
<path d="M306.4 277.7h3.00m-1.50 -1.50v3.00" stroke="#56b4e9" stroke-width="0.85" fill="none"/>
<path d="M308.7 281.3l1.30 1.75 -1.30 1.75 -1.30 -1.75z" fill="#f0e442"/>
<path d="M310.2 292.2l1.75 2.70h-3.50z" fill="#e69f00"/>
<path d="M309.7 277.1a1.40 1.40 0 1 0 2.80 0a1.40 1.40 0 1 0 -2.80 0" fill="#009e73"/>
<path d="M310.4 271.9h3.00m-1.50 -1.50v3.00" stroke="#56b4e9" stroke-width="0.85" fill="none"/>
<path d="M313.4 273.8l1.75 2.70h-3.50z" fill="#e69f00"/>
<path d="M312.8 276.9h3.00m-1.50 -1.50v3.00" stroke="#56b4e9" stroke-width="0.85" fill="none"/>
<path d="M315.2 281.3l1.30 1.75 -1.30 1.75 -1.30 -1.75z" fill="#f0e442"/>
<path d="M315.1 267.7h3.00m-1.50 -1.50v3.00" stroke="#56b4e9" stroke-width="0.85" fill="none"/>
<path d="M316.1 276.0a1.40 1.40 0 1 0 2.80 0a1.40 1.40 0 1 0 -2.80 0" fill="#009e73"/>
<path d="M318.4 283.8l1.75 2.70h-3.50zM319.9 273.4l1.75 2.70h-3.50z" fill="#e69f00"/>
<path d="M319.2 275.5h3.00m-1.50 -1.50v3.00" stroke="#56b4e9" stroke-width="0.85" fill="none"/>
<path d="M320.2 273.1a1.40 1.40 0 1 0 2.80 0a1.40 1.40 0 1 0 -2.80 0" fill="#009e73"/>
<path d="M323.1 292.0l1.30 1.75 -1.30 1.75 -1.30 -1.75z" fill="#f0e442"/>
<path d="M322.5 285.4a1.40 1.40 0 1 0 2.80 0a1.40 1.40 0 1 0 -2.80 0" fill="#009e73"/>
<path d="M324.8 274.5l1.75 2.70h-3.50zM326.3 275.2l1.75 2.70h-3.50z" fill="#e69f00"/>
<path d="M325.8 273.6a1.40 1.40 0 1 0 2.80 0a1.40 1.40 0 1 0 -2.80 0" fill="#009e73"/>
<path d="M328.0 272.4l1.30 1.75 -1.30 1.75 -1.30 -1.75z" fill="#f0e442"/>
<path d="M329.5 271.8l1.75 2.70h-3.50z" fill="#e69f00"/>
<path d="M328.9 277.9h3.00m-1.50 -1.50v3.00" stroke="#56b4e9" stroke-width="0.85" fill="none"/>
<path d="M331.2 276.1l1.30 1.75 -1.30 1.75 -1.30 -1.75z" fill="#f0e442"/>
<path d="M332.7 261.8l1.75 2.70h-3.50z" fill="#e69f00"/>
<path d="M332.1 267.7h3.00m-1.50 -1.50v3.00" stroke="#56b4e9" stroke-width="0.85" fill="none"/>
<path d="M333.1 268.8a1.40 1.40 0 1 0 2.80 0a1.40 1.40 0 1 0 -2.80 0" fill="#009e73"/>
<path d="M16.2 341.7V339.8M17.6 341.7V327.6M18.5 341.7V324.2M19.4 341.7V345.1M24.1 341.7V329.8M24.9 341.7V330.6M25.8 341.7V344.0M28.2 341.7V339.2M29.0 341.7V336.7M30.5 341.7V340.3M32.2 341.7V341.4M33.7 341.7V338.9M34.6 341.7V338.9M35.5 341.7V340.9M36.9 341.7V338.3M37.8 341.7V344.2M38.7 341.7V337.0M40.2 341.7V345.1M41.0 341.7V337.7M41.9 341.7V338.7M44.2 341.7V344.8M45.1 341.7V349.3M46.6 341.7V337.5M47.5 341.7V341.0M48.3 341.7V345.1M50.7 341.7V339.8M51.5 341.7V345.5M53.0 341.7V344.3M53.9 341.7V343.1M54.7 341.7V338.5M56.2 341.7V344.1M57.1 341.7V344.4M58.0 341.7V340.7M59.4 341.7V335.7M60.3 341.7V336.6M61.2 341.7V336.8M62.7 341.7V340.7M63.5 341.7V342.3M64.4 341.7V348.0M65.9 341.7V336.3M66.7 341.7V344.1M67.6 341.7V346.4M69.1 341.7V340.5M70.0 341.7V344.6M70.8 341.7V340.2M72.3 341.7V341.5M73.2 341.7V334.0M74.0 341.7V341.8M75.5 341.7V341.0M76.4 341.7V344.7M81.9 341.7V343.3M82.8 341.7V339.3M83.7 341.7V344.3M85.2 341.7V334.8M86.0 341.7V344.2M86.9 341.7V341.1M88.4 341.7V345.7M89.2 341.7V338.2M90.1 341.7V345.0M91.6 341.7V340.9M92.5 341.7V339.6M93.3 341.7V341.7M96.5 341.7V344.2M98.0 341.7V336.3M98.9 341.7V339.0M99.8 341.7V337.4M101.2 341.7V340.8M102.1 341.7V332.9M103.0 341.7V340.7M104.5 341.7V340.3M105.3 341.7V342.8M106.2 341.7V340.4M107.7 341.7V340.9M108.5 341.7V340.4M109.4 341.7V343.5M110.9 341.7V341.8M111.7 341.7V339.8M112.6 341.7V337.9M114.1 341.7V343.6M115.0 341.7V335.4M115.8 341.7V342.2M117.3 341.7V339.7M118.2 341.7V344.9M119.0 341.7V341.8M121.4 341.7V349.3M122.3 341.7V340.4M123.7 341.7V344.9M124.6 341.7V341.0M125.5 341.7V340.6M127.0 341.7V339.7M127.8 341.7V339.7M128.7 341.7V343.4M130.2 341.7V342.6M131.0 341.7V340.1M131.9 341.7V339.7M133.4 341.7V345.2M134.3 341.7V343.6M135.1 341.7V336.0M136.6 341.7V339.7M137.5 341.7V340.9M138.3 341.7V342.8M139.8 341.7V338.3M140.7 341.7V340.7M141.6 341.7V336.3M143.9 341.7V343.6M144.8 341.7V337.9M146.2 341.7V344.9M147.1 341.7V340.9M148.0 341.7V340.1M150.3 341.7V336.0M151.2 341.7V344.8M152.7 341.7V337.9M153.5 341.7V346.4M154.4 341.7V347.9M155.9 341.7V340.9M156.8 341.7V337.7M157.6 341.7V338.0M159.1 341.7V345.2M160.0 341.7V347.2M160.8 341.7V341.7M162.3 341.7V345.4M163.2 341.7V344.9M164.1 341.7V338.8M165.5 341.7V344.4M166.4 341.7V336.6M167.3 341.7V345.6M168.8 341.7V341.7M169.6 341.7V337.7M170.5 341.7V342.5M172.0 341.7V337.6M172.8 341.7V339.9M173.7 341.7V344.6M175.2 341.7V337.8M176.1 341.7V341.8M176.9 341.7V343.7M178.4 341.7V340.0M179.3 341.7V339.3M180.1 341.7V339.7M181.6 341.7V343.2M182.5 341.7V340.8M183.3 341.7V346.3M184.8 341.7V338.4M185.7 341.7V338.6M186.6 341.7V349.1M188.9 341.7V341.7M189.8 341.7V339.2M191.3 341.7V341.7M192.1 341.7V333.7M193.0 341.7V341.4M194.5 341.7V339.5M195.3 341.7V341.0M196.2 341.7V337.4M197.7 341.7V341.8M198.6 341.7V344.1M199.4 341.7V341.2M200.9 341.7V341.9M201.8 341.7V337.3M202.6 341.7V338.9M204.1 341.7V342.4M205.0 341.7V339.0M205.9 341.7V340.9M207.3 341.7V343.2M208.2 341.7V334.9M209.1 341.7V334.7M211.4 341.7V338.6M212.3 341.7V344.2M215.5 341.7V336.7M217.0 341.7V341.1M217.8 341.7V339.9M218.7 341.7V337.6M220.2 341.7V343.8M221.1 341.7V341.9M221.9 341.7V338.8M223.4 341.7V345.6M224.3 341.7V339.9M225.1 341.7V343.5M226.6 341.7V341.5M227.5 341.7V339.4M228.4 341.7V339.3M229.8 341.7V348.3M230.7 341.7V339.4M231.6 341.7V343.4M233.1 341.7V344.1M233.9 341.7V341.4M234.8 341.7V336.0M236.3 341.7V336.9M237.1 341.7V340.0M238.0 341.7V344.1M239.5 341.7V344.6M240.3 341.7V343.5M241.2 341.7V347.6M242.7 341.7V339.8M243.6 341.7V341.7M247.6 341.7V336.0M249.1 341.7V339.8M250.0 341.7V339.6M250.9 341.7V339.5M252.3 341.7V344.5M253.2 341.7V336.4M254.1 341.7V342.2M255.6 341.7V336.1M256.4 341.7V342.8M257.3 341.7V336.8M258.8 341.7V345.9M259.6 341.7V338.2M260.5 341.7V339.7M262.0 341.7V342.8M262.9 341.7V336.5M263.7 341.7V343.3M265.2 341.7V340.5M266.1 341.7V332.1M266.9 341.7V344.1M268.4 341.7V343.1M269.3 341.7V342.8M270.2 341.7V344.7M271.6 341.7V336.2M272.5 341.7V340.7M273.4 341.7V339.9M275.7 341.7V336.0M276.6 341.7V345.5M278.1 341.7V339.8M278.9 341.7V338.6M279.8 341.7V342.5M281.3 341.7V347.7M282.1 341.7V346.4M283.0 341.7V343.2M285.4 341.7V337.3M286.2 341.7V344.8M287.7 341.7V338.2M288.6 341.7V345.3M289.4 341.7V344.6M291.8 341.7V339.2M292.7 341.7V343.0M295.0 341.7V346.7M295.9 341.7V337.9M297.4 341.7V343.9M298.2 341.7V341.0M299.1 341.7V345.8M300.6 341.7V346.7M301.4 341.7V341.4M302.3 341.7V345.2M303.8 341.7V340.6M304.6 341.7V339.2M305.5 341.7V337.7M307.0 341.7V338.2M307.9 341.7V339.2M308.7 341.7V341.4M311.1 341.7V338.6M311.9 341.7V343.6M313.4 341.7V345.1M314.3 341.7V341.3M315.2 341.7V337.9M317.5 341.7V344.8M318.4 341.7V338.6M319.9 341.7V338.8M320.7 341.7V339.7M321.6 341.7V340.0M323.1 341.7V346.2M323.9 341.7V337.9M324.8 341.7V342.5M326.3 341.7V347.3M327.2 341.7V336.8M328.0 341.7V340.2M329.5 341.7V341.2M330.4 341.7V337.8M331.2 341.7V339.2M332.7 341.7V342.7M333.6 341.7V344.4M334.5 341.7V341.5" stroke="#c4c4c4" stroke-width="0.85" fill="none"/>
<path d="M14.4 341.7V320.3M15.3 341.7V335.4M20.9 341.7V325.3M21.7 341.7V346.7M22.6 341.7V351.1M27.3 341.7V329.1M31.4 341.7V330.5M43.4 341.7V330.4M49.8 341.7V325.9M77.3 341.7V333.1M78.7 341.7V334.1M79.6 341.7V349.3M80.5 341.7V352.4M94.8 341.7V336.0M95.7 341.7V353.7M120.5 341.7V332.9M143.0 341.7V331.6M149.5 341.7V332.2M188.0 341.7V368.8M210.5 341.7V350.5M213.8 341.7V354.3M214.6 341.7V351.8M244.4 341.7V330.7M245.9 341.7V331.0M246.8 341.7V351.1M274.8 341.7V354.3M284.5 341.7V363.1M290.9 341.7V352.4M294.1 341.7V356.8M310.2 341.7V355.6M316.6 341.7V329.7" stroke="#555" stroke-width="0.95" fill="none"/>
<path d="M12.9 320.3h3.00m-1.50 -1.50v3.00" stroke="#56b4e9" stroke-width="0.85" fill="none"/>
<path d="M15.3 333.8l1.75 2.70h-3.50z" fill="#e69f00"/>
<path d="M14.8 339.8a1.40 1.40 0 1 0 2.80 0a1.40 1.40 0 1 0 -2.80 0" fill="#009e73"/>
<path d="M17.6 326.1l1.75 2.70h-3.50z" fill="#e69f00"/>
<path d="M17.1 324.2a1.40 1.40 0 1 0 2.80 0a1.40 1.40 0 1 0 -2.80 0" fill="#009e73"/>
<path d="M19.4 343.4l1.30 1.75 -1.30 1.75 -1.30 -1.75z" fill="#f0e442"/>
<path d="M20.9 323.8l1.75 2.70h-3.50z" fill="#e69f00"/>
<path d="M20.3 346.7a1.40 1.40 0 1 0 2.80 0a1.40 1.40 0 1 0 -2.80 0" fill="#009e73"/>
<path d="M21.1 351.1h3.00m-1.50 -1.50v3.00M22.6 329.8h3.00m-1.50 -1.50v3.00" stroke="#56b4e9" stroke-width="0.85" fill="none"/>
<path d="M23.5 330.6a1.40 1.40 0 1 0 2.80 0a1.40 1.40 0 1 0 -2.80 0" fill="#009e73"/>
<path d="M25.8 342.2l1.30 1.75 -1.30 1.75 -1.30 -1.75z" fill="#f0e442"/>
<path d="M27.3 327.5l1.75 2.70h-3.50z" fill="#e69f00"/>
<path d="M26.7 339.2h3.00m-1.50 -1.50v3.00" stroke="#56b4e9" stroke-width="0.85" fill="none"/>
<path d="M29.0 334.9l1.30 1.75 -1.30 1.75 -1.30 -1.75z" fill="#f0e442"/>
<path d="M30.5 338.7l1.75 2.70h-3.50z" fill="#e69f00"/>
<path d="M29.9 330.5h3.00m-1.50 -1.50v3.00" stroke="#56b4e9" stroke-width="0.85" fill="none"/>
<path d="M32.2 339.6l1.30 1.75 -1.30 1.75 -1.30 -1.75z" fill="#f0e442"/>
<path d="M33.7 337.3l1.75 2.70h-3.50z" fill="#e69f00"/>
<path d="M33.1 338.9h3.00m-1.50 -1.50v3.00" stroke="#56b4e9" stroke-width="0.85" fill="none"/>
<path d="M35.5 339.2l1.30 1.75 -1.30 1.75 -1.30 -1.75z" fill="#f0e442"/>
<path d="M35.4 338.3h3.00m-1.50 -1.50v3.00" stroke="#56b4e9" stroke-width="0.85" fill="none"/>
<path d="M36.4 344.2a1.40 1.40 0 1 0 2.80 0a1.40 1.40 0 1 0 -2.80 0" fill="#009e73"/>
<path d="M38.7 335.3l1.30 1.75 -1.30 1.75 -1.30 -1.75z" fill="#f0e442"/>
<path d="M40.2 343.6l1.75 2.70h-3.50z" fill="#e69f00"/>
<path d="M39.5 337.7h3.00m-1.50 -1.50v3.00" stroke="#56b4e9" stroke-width="0.85" fill="none"/>
<path d="M40.5 338.7a1.40 1.40 0 1 0 2.80 0a1.40 1.40 0 1 0 -2.80 0" fill="#009e73"/>
<path d="M43.4 328.8l1.75 2.70h-3.50z" fill="#e69f00"/>
<path d="M42.8 344.8a1.40 1.40 0 1 0 2.80 0a1.40 1.40 0 1 0 -2.80 0" fill="#009e73"/>
<path d="M45.1 347.5l1.30 1.75 -1.30 1.75 -1.30 -1.75z" fill="#f0e442"/>
<path d="M46.6 336.0l1.75 2.70h-3.50z" fill="#e69f00"/>
<path d="M46.0 341.0h3.00m-1.50 -1.50v3.00" stroke="#56b4e9" stroke-width="0.85" fill="none"/>
<path d="M48.3 343.3l1.30 1.75 -1.30 1.75 -1.30 -1.75z" fill="#f0e442"/>
<path d="M48.3 325.9h3.00m-1.50 -1.50v3.00" stroke="#56b4e9" stroke-width="0.85" fill="none"/>
<path d="M49.3 339.8a1.40 1.40 0 1 0 2.80 0a1.40 1.40 0 1 0 -2.80 0" fill="#009e73"/>
<path d="M51.5 343.7l1.30 1.75 -1.30 1.75 -1.30 -1.75z" fill="#f0e442"/>
<path d="M53.0 342.7l1.75 2.70h-3.50z" fill="#e69f00"/>
<path d="M52.4 343.1h3.00m-1.50 -1.50v3.00" stroke="#56b4e9" stroke-width="0.85" fill="none"/>
<path d="M54.7 336.8l1.30 1.75 -1.30 1.75 -1.30 -1.75z" fill="#f0e442"/>
<path d="M54.7 344.1h3.00m-1.50 -1.50v3.00" stroke="#56b4e9" stroke-width="0.85" fill="none"/>
<path d="M55.7 344.4a1.40 1.40 0 1 0 2.80 0a1.40 1.40 0 1 0 -2.80 0" fill="#009e73"/>
<path d="M58.0 338.9l1.30 1.75 -1.30 1.75 -1.30 -1.75z" fill="#f0e442"/>
<path d="M59.4 334.1l1.75 2.70h-3.50z" fill="#e69f00"/>
<path d="M58.8 336.6h3.00m-1.50 -1.50v3.00" stroke="#56b4e9" stroke-width="0.85" fill="none"/>
<path d="M61.2 335.0l1.30 1.75 -1.30 1.75 -1.30 -1.75z" fill="#f0e442"/>
<path d="M62.7 339.1l1.75 2.70h-3.50z" fill="#e69f00"/>
<path d="M62.0 342.3h3.00m-1.50 -1.50v3.00" stroke="#56b4e9" stroke-width="0.85" fill="none"/>
<path d="M63.0 348.0a1.40 1.40 0 1 0 2.80 0a1.40 1.40 0 1 0 -2.80 0" fill="#009e73"/>
<path d="M65.9 334.8l1.75 2.70h-3.50z" fill="#e69f00"/>
<path d="M65.3 344.1a1.40 1.40 0 1 0 2.80 0a1.40 1.40 0 1 0 -2.80 0" fill="#009e73"/>
<path d="M67.6 344.6l1.30 1.75 -1.30 1.75 -1.30 -1.75z" fill="#f0e442"/>
<path d="M69.1 339.0l1.75 2.70h-3.50z" fill="#e69f00"/>
<path d="M68.5 344.6h3.00m-1.50 -1.50v3.00" stroke="#56b4e9" stroke-width="0.85" fill="none"/>
<path d="M70.8 338.5l1.30 1.75 -1.30 1.75 -1.30 -1.75z" fill="#f0e442"/>
<path d="M72.3 340.0l1.75 2.70h-3.50z" fill="#e69f00"/>
<path d="M71.7 334.0h3.00m-1.50 -1.50v3.00" stroke="#56b4e9" stroke-width="0.85" fill="none"/>
<path d="M72.6 341.8a1.40 1.40 0 1 0 2.80 0a1.40 1.40 0 1 0 -2.80 0" fill="#009e73"/>
<path d="M75.5 339.4l1.75 2.70h-3.50z" fill="#e69f00"/>
<path d="M74.9 344.7h3.00m-1.50 -1.50v3.00" stroke="#56b4e9" stroke-width="0.85" fill="none"/>
<path d="M75.9 333.1a1.40 1.40 0 1 0 2.80 0a1.40 1.40 0 1 0 -2.80 0" fill="#009e73"/>
<path d="M77.2 334.1h3.00m-1.50 -1.50v3.00" stroke="#56b4e9" stroke-width="0.85" fill="none"/>
<path d="M78.2 349.3a1.40 1.40 0 1 0 2.80 0a1.40 1.40 0 1 0 -2.80 0" fill="#009e73"/>
<path d="M80.5 350.9l1.75 2.70h-3.50zM81.9 341.8l1.75 2.70h-3.50z" fill="#e69f00"/>
<path d="M81.3 339.3h3.00m-1.50 -1.50v3.00" stroke="#56b4e9" stroke-width="0.85" fill="none"/>
<path d="M83.7 342.5l1.30 1.75 -1.30 1.75 -1.30 -1.75z" fill="#f0e442"/>
<path d="M85.2 333.3l1.75 2.70h-3.50z" fill="#e69f00"/>
<path d="M84.5 344.2h3.00m-1.50 -1.50v3.00" stroke="#56b4e9" stroke-width="0.85" fill="none"/>
<path d="M86.9 339.3l1.30 1.75 -1.30 1.75 -1.30 -1.75z" fill="#f0e442"/>
<path d="M86.9 345.7h3.00m-1.50 -1.50v3.00" stroke="#56b4e9" stroke-width="0.85" fill="none"/>
<path d="M87.8 338.2a1.40 1.40 0 1 0 2.80 0a1.40 1.40 0 1 0 -2.80 0" fill="#009e73"/>
<path d="M90.1 343.2l1.30 1.75 -1.30 1.75 -1.30 -1.75z" fill="#f0e442"/>
<path d="M90.1 340.9h3.00m-1.50 -1.50v3.00" stroke="#56b4e9" stroke-width="0.85" fill="none"/>
<path d="M91.1 339.6a1.40 1.40 0 1 0 2.80 0a1.40 1.40 0 1 0 -2.80 0" fill="#009e73"/>
<path d="M93.3 339.9l1.30 1.75 -1.30 1.75 -1.30 -1.75z" fill="#f0e442"/>
<path d="M94.8 334.5l1.75 2.70h-3.50z" fill="#e69f00"/>
<path d="M95.7 351.9l1.30 1.75 -1.30 1.75 -1.30 -1.75z" fill="#f0e442"/>
<path d="M95.1 344.2a1.40 1.40 0 1 0 2.80 0a1.40 1.40 0 1 0 -2.80 0" fill="#009e73"/>
<path d="M96.5 336.3h3.00m-1.50 -1.50v3.00" stroke="#56b4e9" stroke-width="0.85" fill="none"/>
<path d="M97.5 339.0a1.40 1.40 0 1 0 2.80 0a1.40 1.40 0 1 0 -2.80 0" fill="#009e73"/>
<path d="M99.8 335.6l1.30 1.75 -1.30 1.75 -1.30 -1.75z" fill="#f0e442"/>
<path d="M101.2 339.3l1.75 2.70h-3.50z" fill="#e69f00"/>
<path d="M100.6 332.9h3.00m-1.50 -1.50v3.00" stroke="#56b4e9" stroke-width="0.85" fill="none"/>
<path d="M103.0 339.0l1.30 1.75 -1.30 1.75 -1.30 -1.75z" fill="#f0e442"/>
<path d="M103.0 340.3h3.00m-1.50 -1.50v3.00" stroke="#56b4e9" stroke-width="0.85" fill="none"/>
<path d="M103.9 342.8a1.40 1.40 0 1 0 2.80 0a1.40 1.40 0 1 0 -2.80 0" fill="#009e73"/>
<path d="M106.2 338.6l1.30 1.75 -1.30 1.75 -1.30 -1.75z" fill="#f0e442"/>
<path d="M107.7 339.3l1.75 2.70h-3.50z" fill="#e69f00"/>
<path d="M107.1 340.4a1.40 1.40 0 1 0 2.80 0a1.40 1.40 0 1 0 -2.80 0" fill="#009e73"/>
<path d="M109.4 341.7l1.30 1.75 -1.30 1.75 -1.30 -1.75z" fill="#f0e442"/>
<path d="M109.4 341.8h3.00m-1.50 -1.50v3.00" stroke="#56b4e9" stroke-width="0.85" fill="none"/>
<path d="M110.3 339.8a1.40 1.40 0 1 0 2.80 0a1.40 1.40 0 1 0 -2.80 0" fill="#009e73"/>
<path d="M112.6 336.1l1.30 1.75 -1.30 1.75 -1.30 -1.75z" fill="#f0e442"/>
<path d="M114.1 342.1l1.75 2.70h-3.50z" fill="#e69f00"/>
<path d="M113.5 335.4h3.00m-1.50 -1.50v3.00" stroke="#56b4e9" stroke-width="0.85" fill="none"/>
<path d="M115.8 340.5l1.30 1.75 -1.30 1.75 -1.30 -1.75z" fill="#f0e442"/>
<path d="M115.8 339.7h3.00m-1.50 -1.50v3.00" stroke="#56b4e9" stroke-width="0.85" fill="none"/>
<path d="M116.8 344.9a1.40 1.40 0 1 0 2.80 0a1.40 1.40 0 1 0 -2.80 0" fill="#009e73"/>
<path d="M119.0 340.1l1.30 1.75 -1.30 1.75 -1.30 -1.75z" fill="#f0e442"/>
<path d="M119.0 332.9h3.00m-1.50 -1.50v3.00" stroke="#56b4e9" stroke-width="0.85" fill="none"/>
<path d="M121.4 347.5l1.30 1.75 -1.30 1.75 -1.30 -1.75z" fill="#f0e442"/>
<path d="M120.9 340.4a1.40 1.40 0 1 0 2.80 0a1.40 1.40 0 1 0 -2.80 0" fill="#009e73"/>
<path d="M123.7 343.3l1.75 2.70h-3.50z" fill="#e69f00"/>
<path d="M123.1 341.0h3.00m-1.50 -1.50v3.00" stroke="#56b4e9" stroke-width="0.85" fill="none"/>
<path d="M124.1 340.6a1.40 1.40 0 1 0 2.80 0a1.40 1.40 0 1 0 -2.80 0" fill="#009e73"/>
<path d="M127.0 338.2l1.75 2.70h-3.50z" fill="#e69f00"/>
<path d="M126.4 339.7a1.40 1.40 0 1 0 2.80 0a1.40 1.40 0 1 0 -2.80 0" fill="#009e73"/>
<path d="M128.7 341.6l1.30 1.75 -1.30 1.75 -1.30 -1.75z" fill="#f0e442"/>
<path d="M130.2 341.1l1.75 2.70h-3.50z" fill="#e69f00"/>
<path d="M129.6 340.1a1.40 1.40 0 1 0 2.80 0a1.40 1.40 0 1 0 -2.80 0" fill="#009e73"/>
<path d="M131.9 338.0l1.30 1.75 -1.30 1.75 -1.30 -1.75z" fill="#f0e442"/>
<path d="M133.4 343.7l1.75 2.70h-3.50z" fill="#e69f00"/>
<path d="M132.8 343.6h3.00m-1.50 -1.50v3.00" stroke="#56b4e9" stroke-width="0.85" fill="none"/>
<path d="M133.7 336.0a1.40 1.40 0 1 0 2.80 0a1.40 1.40 0 1 0 -2.80 0" fill="#009e73"/>
<path d="M135.1 339.7h3.00m-1.50 -1.50v3.00" stroke="#56b4e9" stroke-width="0.85" fill="none"/>
<path d="M136.1 340.9a1.40 1.40 0 1 0 2.80 0a1.40 1.40 0 1 0 -2.80 0" fill="#009e73"/>
<path d="M138.3 341.0l1.30 1.75 -1.30 1.75 -1.30 -1.75z" fill="#f0e442"/>
<path d="M139.8 336.7l1.75 2.70h-3.50z" fill="#e69f00"/>
<path d="M139.2 340.7h3.00m-1.50 -1.50v3.00" stroke="#56b4e9" stroke-width="0.85" fill="none"/>
<path d="M141.6 334.6l1.30 1.75 -1.30 1.75 -1.30 -1.75z" fill="#f0e442"/>
<path d="M141.5 331.6h3.00m-1.50 -1.50v3.00" stroke="#56b4e9" stroke-width="0.85" fill="none"/>
<path d="M142.5 343.6a1.40 1.40 0 1 0 2.80 0a1.40 1.40 0 1 0 -2.80 0" fill="#009e73"/>
<path d="M144.8 336.4l1.75 2.70h-3.50zM146.2 343.4l1.75 2.70h-3.50z" fill="#e69f00"/>
<path d="M145.6 340.9h3.00m-1.50 -1.50v3.00" stroke="#56b4e9" stroke-width="0.85" fill="none"/>
<path d="M148.0 338.3l1.30 1.75 -1.30 1.75 -1.30 -1.75z" fill="#f0e442"/>
<path d="M148.0 332.2h3.00m-1.50 -1.50v3.00" stroke="#56b4e9" stroke-width="0.85" fill="none"/>
<path d="M148.9 336.0a1.40 1.40 0 1 0 2.80 0a1.40 1.40 0 1 0 -2.80 0" fill="#009e73"/>
<path d="M151.2 343.1l1.30 1.75 -1.30 1.75 -1.30 -1.75z" fill="#f0e442"/>
<path d="M152.7 336.3l1.75 2.70h-3.50z" fill="#e69f00"/>
<path d="M152.1 346.4a1.40 1.40 0 1 0 2.80 0a1.40 1.40 0 1 0 -2.80 0" fill="#009e73"/>
<path d="M154.4 346.2l1.30 1.75 -1.30 1.75 -1.30 -1.75z" fill="#f0e442"/>
<path d="M155.9 339.3l1.75 2.70h-3.50z" fill="#e69f00"/>
<path d="M155.3 337.7h3.00m-1.50 -1.50v3.00" stroke="#56b4e9" stroke-width="0.85" fill="none"/>
<path d="M157.6 336.2l1.30 1.75 -1.30 1.75 -1.30 -1.75z" fill="#f0e442"/>
<path d="M159.1 343.7l1.75 2.70h-3.50z" fill="#e69f00"/>
<path d="M158.6 347.2a1.40 1.40 0 1 0 2.80 0a1.40 1.40 0 1 0 -2.80 0" fill="#009e73"/>
<path d="M160.8 339.9l1.30 1.75 -1.30 1.75 -1.30 -1.75z" fill="#f0e442"/>
<path d="M162.3 343.8l1.75 2.70h-3.50z" fill="#e69f00"/>
<path d="M161.7 344.9h3.00m-1.50 -1.50v3.00" stroke="#56b4e9" stroke-width="0.85" fill="none"/>
<path d="M162.7 338.8a1.40 1.40 0 1 0 2.80 0a1.40 1.40 0 1 0 -2.80 0" fill="#009e73"/>
<path d="M165.5 342.9l1.75 2.70h-3.50z" fill="#e69f00"/>
<path d="M165.0 336.6a1.40 1.40 0 1 0 2.80 0a1.40 1.40 0 1 0 -2.80 0" fill="#009e73"/>
<path d="M167.3 343.9l1.30 1.75 -1.30 1.75 -1.30 -1.75z" fill="#f0e442"/>
<path d="M168.8 340.2l1.75 2.70h-3.50z" fill="#e69f00"/>
<path d="M168.1 337.7h3.00m-1.50 -1.50v3.00" stroke="#56b4e9" stroke-width="0.85" fill="none"/>
<path d="M170.5 340.7l1.30 1.75 -1.30 1.75 -1.30 -1.75z" fill="#f0e442"/>
<path d="M172.0 336.1l1.75 2.70h-3.50z" fill="#e69f00"/>
<path d="M171.3 339.9h3.00m-1.50 -1.50v3.00" stroke="#56b4e9" stroke-width="0.85" fill="none"/>
<path d="M172.3 344.6a1.40 1.40 0 1 0 2.80 0a1.40 1.40 0 1 0 -2.80 0" fill="#009e73"/>
<path d="M175.2 336.3l1.75 2.70h-3.50z" fill="#e69f00"/>
<path d="M174.6 341.8h3.00m-1.50 -1.50v3.00" stroke="#56b4e9" stroke-width="0.85" fill="none"/>
<path d="M175.5 343.7a1.40 1.40 0 1 0 2.80 0a1.40 1.40 0 1 0 -2.80 0" fill="#009e73"/>
<path d="M176.9 340.0h3.00m-1.50 -1.50v3.00" stroke="#56b4e9" stroke-width="0.85" fill="none"/>
<path d="M177.9 339.3a1.40 1.40 0 1 0 2.80 0a1.40 1.40 0 1 0 -2.80 0" fill="#009e73"/>
<path d="M180.1 338.0l1.30 1.75 -1.30 1.75 -1.30 -1.75z" fill="#f0e442"/>
<path d="M181.6 341.6l1.75 2.70h-3.50z" fill="#e69f00"/>
<path d="M181.0 340.8h3.00m-1.50 -1.50v3.00" stroke="#56b4e9" stroke-width="0.85" fill="none"/>
<path d="M183.3 344.5l1.30 1.75 -1.30 1.75 -1.30 -1.75z" fill="#f0e442"/>
<path d="M183.3 338.4h3.00m-1.50 -1.50v3.00" stroke="#56b4e9" stroke-width="0.85" fill="none"/>
<path d="M184.3 338.6a1.40 1.40 0 1 0 2.80 0a1.40 1.40 0 1 0 -2.80 0" fill="#009e73"/>
<path d="M186.6 347.3l1.30 1.75 -1.30 1.75 -1.30 -1.75zM188.0 367.0l1.30 1.75 -1.30 1.75 -1.30 -1.75z" fill="#f0e442"/>
<path d="M187.5 341.7a1.40 1.40 0 1 0 2.80 0a1.40 1.40 0 1 0 -2.80 0" fill="#009e73"/>
<path d="M189.8 337.6l1.75 2.70h-3.50zM191.3 340.2l1.75 2.70h-3.50z" fill="#e69f00"/>
<path d="M190.6 333.7h3.00m-1.50 -1.50v3.00" stroke="#56b4e9" stroke-width="0.85" fill="none"/>
<path d="M191.6 341.4a1.40 1.40 0 1 0 2.80 0a1.40 1.40 0 1 0 -2.80 0" fill="#009e73"/>
<path d="M194.5 338.0l1.75 2.70h-3.50z" fill="#e69f00"/>
<path d="M193.8 341.0h3.00m-1.50 -1.50v3.00" stroke="#56b4e9" stroke-width="0.85" fill="none"/>
<path d="M194.8 337.4a1.40 1.40 0 1 0 2.80 0a1.40 1.40 0 1 0 -2.80 0" fill="#009e73"/>
<path d="M197.7 340.3l1.75 2.70h-3.50z" fill="#e69f00"/>
<path d="M197.2 344.1a1.40 1.40 0 1 0 2.80 0a1.40 1.40 0 1 0 -2.80 0" fill="#009e73"/>
<path d="M199.4 339.4l1.30 1.75 -1.30 1.75 -1.30 -1.75z" fill="#f0e442"/>
<path d="M200.9 340.3l1.75 2.70h-3.50z" fill="#e69f00"/>
<path d="M200.3 337.3h3.00m-1.50 -1.50v3.00" stroke="#56b4e9" stroke-width="0.85" fill="none"/>
<path d="M201.2 338.9a1.40 1.40 0 1 0 2.80 0a1.40 1.40 0 1 0 -2.80 0" fill="#009e73"/>
<path d="M204.1 340.8l1.75 2.70h-3.50z" fill="#e69f00"/>
<path d="M203.5 339.0h3.00m-1.50 -1.50v3.00" stroke="#56b4e9" stroke-width="0.85" fill="none"/>
<path d="M205.9 339.1l1.30 1.75 -1.30 1.75 -1.30 -1.75z" fill="#f0e442"/>
<path d="M207.3 341.7l1.75 2.70h-3.50z" fill="#e69f00"/>
<path d="M206.7 334.9h3.00m-1.50 -1.50v3.00" stroke="#56b4e9" stroke-width="0.85" fill="none"/>
<path d="M207.7 334.7a1.40 1.40 0 1 0 2.80 0a1.40 1.40 0 1 0 -2.80 0M209.1 350.5a1.40 1.40 0 1 0 2.80 0a1.40 1.40 0 1 0 -2.80 0" fill="#009e73"/>
<path d="M211.4 337.0l1.75 2.70h-3.50z" fill="#e69f00"/>
<path d="M212.3 342.5l1.30 1.75 -1.30 1.75 -1.30 -1.75z" fill="#f0e442"/>
<path d="M212.4 354.3a1.40 1.40 0 1 0 2.80 0a1.40 1.40 0 1 0 -2.80 0" fill="#009e73"/>
<path d="M213.1 351.8h3.00m-1.50 -1.50v3.00" stroke="#56b4e9" stroke-width="0.85" fill="none"/>
<path d="M215.5 334.9l1.30 1.75 -1.30 1.75 -1.30 -1.75z" fill="#f0e442"/>
<path d="M215.5 341.1h3.00m-1.50 -1.50v3.00" stroke="#56b4e9" stroke-width="0.85" fill="none"/>
<path d="M216.4 339.9a1.40 1.40 0 1 0 2.80 0a1.40 1.40 0 1 0 -2.80 0" fill="#009e73"/>
<path d="M218.7 335.8l1.30 1.75 -1.30 1.75 -1.30 -1.75z" fill="#f0e442"/>
<path d="M220.2 342.2l1.75 2.70h-3.50z" fill="#e69f00"/>
<path d="M219.7 341.9a1.40 1.40 0 1 0 2.80 0a1.40 1.40 0 1 0 -2.80 0" fill="#009e73"/>
<path d="M221.9 337.1l1.30 1.75 -1.30 1.75 -1.30 -1.75z" fill="#f0e442"/>
<path d="M223.4 344.0l1.75 2.70h-3.50z" fill="#e69f00"/>
<path d="M222.8 339.9h3.00m-1.50 -1.50v3.00" stroke="#56b4e9" stroke-width="0.85" fill="none"/>
<path d="M225.1 341.8l1.30 1.75 -1.30 1.75 -1.30 -1.75z" fill="#f0e442"/>
<path d="M225.1 341.5h3.00m-1.50 -1.50v3.00" stroke="#56b4e9" stroke-width="0.85" fill="none"/>
<path d="M226.1 339.4a1.40 1.40 0 1 0 2.80 0a1.40 1.40 0 1 0 -2.80 0" fill="#009e73"/>
<path d="M228.4 337.5l1.30 1.75 -1.30 1.75 -1.30 -1.75z" fill="#f0e442"/>
<path d="M228.3 348.3h3.00m-1.50 -1.50v3.00" stroke="#56b4e9" stroke-width="0.85" fill="none"/>
<path d="M229.3 339.4a1.40 1.40 0 1 0 2.80 0a1.40 1.40 0 1 0 -2.80 0" fill="#009e73"/>
<path d="M231.6 341.6l1.30 1.75 -1.30 1.75 -1.30 -1.75z" fill="#f0e442"/>
<path d="M233.1 342.5l1.75 2.70h-3.50z" fill="#e69f00"/>
<path d="M232.4 341.4h3.00m-1.50 -1.50v3.00" stroke="#56b4e9" stroke-width="0.85" fill="none"/>
<path d="M233.4 336.0a1.40 1.40 0 1 0 2.80 0a1.40 1.40 0 1 0 -2.80 0" fill="#009e73"/>
<path d="M236.3 335.4l1.75 2.70h-3.50z" fill="#e69f00"/>
<path d="M235.6 340.0h3.00m-1.50 -1.50v3.00" stroke="#56b4e9" stroke-width="0.85" fill="none"/>
<path d="M238.0 342.4l1.30 1.75 -1.30 1.75 -1.30 -1.75z" fill="#f0e442"/>
<path d="M238.0 344.6h3.00m-1.50 -1.50v3.00" stroke="#56b4e9" stroke-width="0.85" fill="none"/>
<path d="M238.9 343.5a1.40 1.40 0 1 0 2.80 0a1.40 1.40 0 1 0 -2.80 0" fill="#009e73"/>
<path d="M241.2 345.9l1.30 1.75 -1.30 1.75 -1.30 -1.75z" fill="#f0e442"/>
<path d="M241.2 339.8h3.00m-1.50 -1.50v3.00" stroke="#56b4e9" stroke-width="0.85" fill="none"/>
<path d="M242.2 341.7a1.40 1.40 0 1 0 2.80 0a1.40 1.40 0 1 0 -2.80 0" fill="#009e73"/>
<path d="M244.4 329.0l1.30 1.75 -1.30 1.75 -1.30 -1.75z" fill="#f0e442"/>
<path d="M244.5 331.0a1.40 1.40 0 1 0 2.80 0a1.40 1.40 0 1 0 -2.80 0" fill="#009e73"/>
<path d="M246.8 349.6l1.75 2.70h-3.50z" fill="#e69f00"/>
<path d="M247.6 334.3l1.30 1.75 -1.30 1.75 -1.30 -1.75z" fill="#f0e442"/>
<path d="M249.1 338.3l1.75 2.70h-3.50z" fill="#e69f00"/>
<path d="M248.5 339.6h3.00m-1.50 -1.50v3.00" stroke="#56b4e9" stroke-width="0.85" fill="none"/>
<path d="M250.9 337.7l1.30 1.75 -1.30 1.75 -1.30 -1.75z" fill="#f0e442"/>
<path d="M252.3 342.9l1.75 2.70h-3.50z" fill="#e69f00"/>
<path d="M251.7 336.4h3.00m-1.50 -1.50v3.00" stroke="#56b4e9" stroke-width="0.85" fill="none"/>
<path d="M254.1 340.5l1.30 1.75 -1.30 1.75 -1.30 -1.75z" fill="#f0e442"/>
<path d="M254.1 336.1h3.00m-1.50 -1.50v3.00" stroke="#56b4e9" stroke-width="0.85" fill="none"/>
<path d="M255.0 342.8a1.40 1.40 0 1 0 2.80 0a1.40 1.40 0 1 0 -2.80 0" fill="#009e73"/>
<path d="M257.3 335.0l1.30 1.75 -1.30 1.75 -1.30 -1.75z" fill="#f0e442"/>
<path d="M257.3 345.9h3.00m-1.50 -1.50v3.00" stroke="#56b4e9" stroke-width="0.85" fill="none"/>
<path d="M258.2 338.2a1.40 1.40 0 1 0 2.80 0a1.40 1.40 0 1 0 -2.80 0" fill="#009e73"/>
<path d="M260.5 338.0l1.30 1.75 -1.30 1.75 -1.30 -1.75z" fill="#f0e442"/>
<path d="M262.0 341.3l1.75 2.70h-3.50z" fill="#e69f00"/>
<path d="M261.5 336.5a1.40 1.40 0 1 0 2.80 0a1.40 1.40 0 1 0 -2.80 0" fill="#009e73"/>
<path d="M263.7 341.5l1.30 1.75 -1.30 1.75 -1.30 -1.75z" fill="#f0e442"/>
<path d="M265.2 338.9l1.75 2.70h-3.50z" fill="#e69f00"/>
<path d="M264.6 332.1h3.00m-1.50 -1.50v3.00" stroke="#56b4e9" stroke-width="0.85" fill="none"/>
<path d="M265.5 344.1a1.40 1.40 0 1 0 2.80 0a1.40 1.40 0 1 0 -2.80 0" fill="#009e73"/>
<path d="M268.4 341.5l1.75 2.70h-3.50z" fill="#e69f00"/>
<path d="M267.9 342.8a1.40 1.40 0 1 0 2.80 0a1.40 1.40 0 1 0 -2.80 0" fill="#009e73"/>
<path d="M270.2 342.9l1.30 1.75 -1.30 1.75 -1.30 -1.75z" fill="#f0e442"/>
<path d="M270.1 336.2h3.00m-1.50 -1.50v3.00" stroke="#56b4e9" stroke-width="0.85" fill="none"/>
<path d="M271.1 340.7a1.40 1.40 0 1 0 2.80 0a1.40 1.40 0 1 0 -2.80 0" fill="#009e73"/>
<path d="M273.4 338.2l1.30 1.75 -1.30 1.75 -1.30 -1.75z" fill="#f0e442"/>
<path d="M273.4 354.3a1.40 1.40 0 1 0 2.80 0a1.40 1.40 0 1 0 -2.80 0" fill="#009e73"/>
<path d="M275.7 334.3l1.30 1.75 -1.30 1.75 -1.30 -1.75z" fill="#f0e442"/>
<path d="M276.6 343.9l1.75 2.70h-3.50zM278.1 338.2l1.75 2.70h-3.50z" fill="#e69f00"/>
<path d="M277.4 338.6h3.00m-1.50 -1.50v3.00" stroke="#56b4e9" stroke-width="0.85" fill="none"/>
<path d="M279.8 340.8l1.30 1.75 -1.30 1.75 -1.30 -1.75z" fill="#f0e442"/>
<path d="M279.8 347.7h3.00m-1.50 -1.50v3.00" stroke="#56b4e9" stroke-width="0.85" fill="none"/>
<path d="M280.7 346.4a1.40 1.40 0 1 0 2.80 0a1.40 1.40 0 1 0 -2.80 0" fill="#009e73"/>
<path d="M283.0 341.4l1.30 1.75 -1.30 1.75 -1.30 -1.75z" fill="#f0e442"/>
<path d="M284.5 361.6l1.75 2.70h-3.50z" fill="#e69f00"/>
<path d="M284.0 337.3a1.40 1.40 0 1 0 2.80 0a1.40 1.40 0 1 0 -2.80 0" fill="#009e73"/>
<path d="M284.7 344.8h3.00m-1.50 -1.50v3.00" stroke="#56b4e9" stroke-width="0.85" fill="none"/>
<path d="M287.7 336.6l1.75 2.70h-3.50z" fill="#e69f00"/>
<path d="M287.1 345.3h3.00m-1.50 -1.50v3.00" stroke="#56b4e9" stroke-width="0.85" fill="none"/>
<path d="M288.0 344.6a1.40 1.40 0 1 0 2.80 0a1.40 1.40 0 1 0 -2.80 0" fill="#009e73"/>
<path d="M290.9 350.9l1.75 2.70h-3.50z" fill="#e69f00"/>
<path d="M290.3 339.2h3.00m-1.50 -1.50v3.00" stroke="#56b4e9" stroke-width="0.85" fill="none"/>
<path d="M291.3 343.0a1.40 1.40 0 1 0 2.80 0a1.40 1.40 0 1 0 -2.80 0" fill="#009e73"/>
<path d="M294.1 355.1l1.30 1.75 -1.30 1.75 -1.30 -1.75z" fill="#f0e442"/>
<path d="M293.6 346.7a1.40 1.40 0 1 0 2.80 0a1.40 1.40 0 1 0 -2.80 0" fill="#009e73"/>
<path d="M295.9 336.4l1.75 2.70h-3.50zM297.4 342.4l1.75 2.70h-3.50z" fill="#e69f00"/>
<path d="M296.8 341.0a1.40 1.40 0 1 0 2.80 0a1.40 1.40 0 1 0 -2.80 0" fill="#009e73"/>
<path d="M299.1 344.0l1.30 1.75 -1.30 1.75 -1.30 -1.75z" fill="#f0e442"/>
<path d="M300.6 345.1l1.75 2.70h-3.50z" fill="#e69f00"/>
<path d="M299.9 341.4h3.00m-1.50 -1.50v3.00" stroke="#56b4e9" stroke-width="0.85" fill="none"/>
<path d="M302.3 343.5l1.30 1.75 -1.30 1.75 -1.30 -1.75z" fill="#f0e442"/>
<path d="M303.8 339.0l1.75 2.70h-3.50z" fill="#e69f00"/>
<path d="M303.2 339.2a1.40 1.40 0 1 0 2.80 0a1.40 1.40 0 1 0 -2.80 0" fill="#009e73"/>
<path d="M305.5 336.0l1.30 1.75 -1.30 1.75 -1.30 -1.75z" fill="#f0e442"/>
<path d="M307.0 336.7l1.75 2.70h-3.50z" fill="#e69f00"/>
<path d="M306.5 339.2a1.40 1.40 0 1 0 2.80 0a1.40 1.40 0 1 0 -2.80 0" fill="#009e73"/>
<path d="M308.7 339.7l1.30 1.75 -1.30 1.75 -1.30 -1.75z" fill="#f0e442"/>
<path d="M310.2 354.0l1.75 2.70h-3.50z" fill="#e69f00"/>
<path d="M309.7 338.6a1.40 1.40 0 1 0 2.80 0a1.40 1.40 0 1 0 -2.80 0" fill="#009e73"/>
<path d="M310.4 343.6h3.00m-1.50 -1.50v3.00" stroke="#56b4e9" stroke-width="0.85" fill="none"/>
<path d="M313.4 343.6l1.75 2.70h-3.50z" fill="#e69f00"/>
<path d="M312.8 341.3h3.00m-1.50 -1.50v3.00" stroke="#56b4e9" stroke-width="0.85" fill="none"/>
<path d="M315.2 336.2l1.30 1.75 -1.30 1.75 -1.30 -1.75z" fill="#f0e442"/>
<path d="M315.1 329.7h3.00m-1.50 -1.50v3.00" stroke="#56b4e9" stroke-width="0.85" fill="none"/>
<path d="M316.1 344.8a1.40 1.40 0 1 0 2.80 0a1.40 1.40 0 1 0 -2.80 0" fill="#009e73"/>
<path d="M318.4 336.8l1.30 1.75 -1.30 1.75 -1.30 -1.75z" fill="#f0e442"/>
<path d="M319.9 337.2l1.75 2.70h-3.50z" fill="#e69f00"/>
<path d="M319.3 339.7a1.40 1.40 0 1 0 2.80 0a1.40 1.40 0 1 0 -2.80 0" fill="#009e73"/>
<path d="M321.6 338.2l1.30 1.75 -1.30 1.75 -1.30 -1.75z" fill="#f0e442"/>
<path d="M323.1 344.7l1.75 2.70h-3.50z" fill="#e69f00"/>
<path d="M322.4 337.9h3.00m-1.50 -1.50v3.00" stroke="#56b4e9" stroke-width="0.85" fill="none"/>
<path d="M324.8 340.7l1.30 1.75 -1.30 1.75 -1.30 -1.75z" fill="#f0e442"/>
<path d="M324.8 347.3h3.00m-1.50 -1.50v3.00" stroke="#56b4e9" stroke-width="0.85" fill="none"/>
<path d="M325.8 336.8a1.40 1.40 0 1 0 2.80 0a1.40 1.40 0 1 0 -2.80 0" fill="#009e73"/>
<path d="M328.0 338.5l1.30 1.75 -1.30 1.75 -1.30 -1.75z" fill="#f0e442"/>
<path d="M329.5 339.6l1.75 2.70h-3.50z" fill="#e69f00"/>
<path d="M328.9 337.8h3.00m-1.50 -1.50v3.00" stroke="#56b4e9" stroke-width="0.85" fill="none"/>
<path d="M331.2 337.5l1.30 1.75 -1.30 1.75 -1.30 -1.75z" fill="#f0e442"/>
<path d="M331.2 342.7h3.00m-1.50 -1.50v3.00" stroke="#56b4e9" stroke-width="0.85" fill="none"/>
<path d="M332.2 344.4a1.40 1.40 0 1 0 2.80 0a1.40 1.40 0 1 0 -2.80 0" fill="#009e73"/>
<path d="M334.5 339.7l1.30 1.75 -1.30 1.75 -1.30 -1.75z" fill="#f0e442"/>
<path d="M361.9 229.0V231.1M365.1 229.0V231.1M368.3 229.0V231.3M370.6 229.0V226.9M371.5 229.0V228.0M373.0 229.0V223.3M374.7 229.0V233.5M377.1 229.0V229.2M379.4 229.0V231.1M384.4 229.0V233.2M389.1 229.0V228.4M390.8 229.0V229.2M393.1 229.0V226.9M394.0 229.0V231.1M397.2 229.0V226.9M401.9 229.0V228.8M409.2 229.0V234.4M411.6 229.0V227.1M412.4 229.0V226.9M414.8 229.0V220.1M418.0 229.0V228.6M423.0 229.0V231.1M425.3 229.0V229.8M427.6 229.0V228.7M428.5 229.0V221.6M432.6 229.0V233.2M434.1 229.0V229.1M434.9 229.0V231.5M435.8 229.0V231.0M437.3 229.0V226.9M438.2 229.0V227.9M439.0 229.0V230.7M441.4 229.0V222.7M442.2 229.0V231.1M444.6 229.0V233.2M445.5 229.0V226.9M447.8 229.0V228.0M450.2 229.0V238.6M451.9 229.0V240.3M454.2 229.0V229.5M457.4 229.0V224.8M458.3 229.0V233.2M459.8 229.0V228.5M461.5 229.0V227.4M463.9 229.0V228.9M464.7 229.0V227.6M467.1 229.0V227.3M472.7 229.0V228.1M474.4 229.0V226.8M479.1 229.0V239.4M480.0 229.0V230.5M480.8 229.0V229.7M486.4 229.0V226.9M487.3 229.0V233.2M490.5 229.0V231.1M491.9 229.0V230.0M493.7 229.0V226.8M495.2 229.0V225.9M496.9 229.0V227.6M498.4 229.0V228.6M501.6 229.0V231.2M506.5 229.0V238.6M508.9 229.0V236.7M511.2 229.0V233.5M522.6 229.0V237.6M529.0 229.0V230.9M535.5 229.0V226.9M538.7 229.0V226.9M540.2 229.0V230.0M541.0 229.0V227.9M541.9 229.0V231.2M543.4 229.0V214.3M545.1 229.0V230.9M550.7 229.0V226.9M551.6 229.0V231.1M554.8 229.0V230.3M557.1 229.0V226.9M558.0 229.0V231.1M561.2 229.0V228.5M562.7 229.0V229.8M566.8 229.0V221.3M569.1 229.0V228.4M570.0 229.0V230.7M570.8 229.0V229.2M574.1 229.0V233.3M575.5 229.0V227.0M576.4 229.0V233.0M578.8 229.0V227.7M579.6 229.0V227.3M580.5 229.0V229.5M582.0 229.0V230.5M583.7 229.0V223.6M585.2 229.0V230.3M586.0 229.0V229.1M586.9 229.0V229.0M589.3 229.0V225.3M590.1 229.0V225.5M591.6 229.0V230.8M592.5 229.0V226.9M596.6 229.0V233.2M598.0 229.0V229.5M601.3 229.0V227.9M602.1 229.0V231.2M605.3 229.0V231.8M606.2 229.0V230.4M607.7 229.0V223.8M608.6 229.0V235.8M609.4 229.0V223.5M611.8 229.0V224.8M612.6 229.0V231.1M614.1 229.0V229.5M615.0 229.0V228.5M615.9 229.0V227.0M619.1 229.0V233.2M622.3 229.0V226.9M624.6 229.0V222.5M627.0 229.0V230.4M627.8 229.0V241.6M628.7 229.0V230.9M631.9 229.0V229.4M633.4 229.0V230.8M638.4 229.0V227.6M639.8 229.0V225.6M640.7 229.0V231.2M641.6 229.0V231.0M643.1 229.0V228.2M643.9 229.0V228.8M644.8 229.0V230.5M648.0 229.0V226.3M651.2 229.0V226.9M652.7 229.0V229.4M653.6 229.0V234.8M654.4 229.0V227.2M657.6 229.0V222.0M660.0 229.0V231.1M660.9 229.0V226.9M662.3 229.0V228.9M663.2 229.0V237.1M664.1 229.0V221.7M666.4 229.0V226.9M667.3 229.0V231.1M670.5 229.0V226.9M673.7 229.0V226.9M680.2 229.0V225.9" stroke="#c4c4c4" stroke-width="0.85" fill="none"/>
<path d="M360.1 229.0V216.0M361.0 229.0V217.4M363.3 229.0V238.4M364.2 229.0V233.2M366.6 229.0V236.5M367.4 229.0V233.8M369.8 229.0V225.4M373.9 229.0V224.4M376.2 229.0V225.1M377.9 229.0V238.1M380.3 229.0V237.3M381.2 229.0V223.6M382.6 229.0V212.2M383.5 229.0V222.7M385.9 229.0V239.5M386.7 229.0V238.4M387.6 229.0V218.1M389.9 229.0V224.1M392.3 229.0V217.4M395.5 229.0V216.4M396.4 229.0V235.3M398.7 229.0V232.2M399.6 229.0V232.0M400.4 229.0V224.8M402.8 229.0V219.8M403.7 229.0V240.4M405.1 229.0V211.6M406.0 229.0V231.9M406.9 229.0V233.5M408.4 229.0V220.8M410.1 229.0V225.2M413.3 229.0V220.9M415.7 229.0V219.2M416.5 229.0V223.3M418.9 229.0V220.8M419.7 229.0V225.3M421.2 229.0V217.4M422.1 229.0V243.7M424.4 229.0V233.5M426.2 229.0V240.5M429.4 229.0V232.0M430.9 229.0V208.0M431.7 229.0V235.3M440.5 229.0V216.4M443.7 229.0V216.4M446.9 229.0V222.1M448.7 229.0V225.7M451.0 229.0V233.0M453.4 229.0V223.6M455.1 229.0V226.1M456.6 229.0V217.4M460.7 229.0V238.1M463.0 229.0V234.1M466.2 229.0V233.0M468.0 229.0V218.0M469.4 229.0V205.9M470.3 229.0V216.4M471.2 229.0V233.2M473.5 229.0V225.9M475.9 229.0V225.5M476.7 229.0V222.4M477.6 229.0V231.6M482.3 229.0V234.1M483.2 229.0V236.2M484.0 229.0V226.0M485.5 229.0V214.3M488.7 229.0V205.9M489.6 229.0V214.3M492.8 229.0V222.7M496.0 229.0V234.3M499.2 229.0V235.8M500.1 229.0V236.2M502.5 229.0V232.0M503.3 229.0V239.7M504.8 229.0V240.0M505.7 229.0V231.8M508.0 229.0V238.2M509.8 229.0V235.6M512.1 229.0V233.2M513.0 229.0V237.8M514.5 229.0V215.3M515.3 229.0V239.5M516.2 229.0V235.3M517.7 229.0V233.5M518.5 229.0V239.3M519.4 229.0V234.7M520.9 229.0V238.2M521.8 229.0V237.5M524.1 229.0V241.7M525.0 229.0V235.9M525.8 229.0V241.2M527.3 229.0V244.7M528.2 229.0V243.7M530.5 229.0V238.0M531.4 229.0V231.7M532.3 229.0V236.1M533.7 229.0V219.6M534.6 229.0V233.2M537.0 229.0V197.5M537.8 229.0V224.8M544.3 229.0V235.1M546.6 229.0V236.7M547.5 229.0V218.5M548.3 229.0V236.6M549.8 229.0V217.4M553.0 229.0V221.4M553.9 229.0V232.1M556.2 229.0V218.5M559.5 229.0V235.1M560.3 229.0V220.6M563.5 229.0V223.4M564.4 229.0V224.1M565.9 229.0V226.0M567.6 229.0V224.5M572.3 229.0V233.6M573.2 229.0V232.1M577.3 229.0V235.7M582.8 229.0V223.9M588.4 229.0V232.9M593.3 229.0V232.2M594.8 229.0V216.4M595.7 229.0V205.9M598.9 229.0V235.6M599.8 229.0V233.9M603.0 229.0V225.5M604.5 229.0V236.8M610.9 229.0V217.4M617.3 229.0V206.9M618.2 229.0V235.3M620.5 229.0V217.4M621.4 229.0V235.3M623.8 229.0V221.5M625.5 229.0V219.5M630.2 229.0V225.6M631.1 229.0V226.4M634.3 229.0V234.6M635.1 229.0V224.9M636.6 229.0V232.6M637.5 229.0V220.7M646.3 229.0V224.2M647.1 229.0V235.3M649.5 229.0V217.4M650.3 229.0V233.2M655.9 229.0V233.6M656.8 229.0V226.2M659.1 229.0V218.5M665.6 229.0V219.6M668.8 229.0V217.4M669.6 229.0V235.3M672.0 229.0V244.8M672.9 229.0V235.3M675.2 229.0V225.0M676.1 229.0V221.9M676.9 229.0V239.9M678.4 229.0V232.3M679.3 229.0V225.3" stroke="#555" stroke-width="0.95" fill="none"/>
<path d="M360.1 214.2l1.30 1.75 -1.30 1.75 -1.30 -1.75z" fill="#f0e442"/>
<path d="M359.6 217.4a1.40 1.40 0 1 0 2.80 0a1.40 1.40 0 1 0 -2.80 0" fill="#009e73"/>
<path d="M361.9 229.5l1.75 2.70h-3.50zM363.3 236.9l1.75 2.70h-3.50z" fill="#e69f00"/>
<path d="M362.8 233.2a1.40 1.40 0 1 0 2.80 0a1.40 1.40 0 1 0 -2.80 0" fill="#009e73"/>
<path d="M363.6 231.1h3.00m-1.50 -1.50v3.00" stroke="#56b4e9" stroke-width="0.85" fill="none"/>
<path d="M366.6 235.0l1.75 2.70h-3.50z" fill="#e69f00"/>
<path d="M365.9 233.8h3.00m-1.50 -1.50v3.00" stroke="#56b4e9" stroke-width="0.85" fill="none"/>
<path d="M366.9 231.3a1.40 1.40 0 1 0 2.80 0a1.40 1.40 0 1 0 -2.80 0" fill="#009e73"/>
<path d="M369.8 223.8l1.75 2.70h-3.50z" fill="#e69f00"/>
<path d="M369.2 226.9a1.40 1.40 0 1 0 2.80 0a1.40 1.40 0 1 0 -2.80 0" fill="#009e73"/>
<path d="M371.5 226.3l1.30 1.75 -1.30 1.75 -1.30 -1.75z" fill="#f0e442"/>
<path d="M373.0 221.7l1.75 2.70h-3.50z" fill="#e69f00"/>
<path d="M372.4 224.4h3.00m-1.50 -1.50v3.00" stroke="#56b4e9" stroke-width="0.85" fill="none"/>
<path d="M374.7 231.8l1.30 1.75 -1.30 1.75 -1.30 -1.75z" fill="#f0e442"/>
<path d="M376.2 223.5l1.75 2.70h-3.50z" fill="#e69f00"/>
<path d="M375.7 229.2a1.40 1.40 0 1 0 2.80 0a1.40 1.40 0 1 0 -2.80 0" fill="#009e73"/>
<path d="M377.9 236.3l1.30 1.75 -1.30 1.75 -1.30 -1.75z" fill="#f0e442"/>
<path d="M379.4 229.6l1.75 2.70h-3.50z" fill="#e69f00"/>
<path d="M378.8 237.3h3.00m-1.50 -1.50v3.00" stroke="#56b4e9" stroke-width="0.85" fill="none"/>
<path d="M379.8 223.6a1.40 1.40 0 1 0 2.80 0a1.40 1.40 0 1 0 -2.80 0" fill="#009e73"/>
<path d="M382.6 210.4l1.30 1.75 -1.30 1.75 -1.30 -1.75z" fill="#f0e442"/>
<path d="M383.5 221.1l1.75 2.70h-3.50z" fill="#e69f00"/>
<path d="M383.0 233.2a1.40 1.40 0 1 0 2.80 0a1.40 1.40 0 1 0 -2.80 0" fill="#009e73"/>
<path d="M385.9 238.0l1.75 2.70h-3.50z" fill="#e69f00"/>
<path d="M385.2 238.4h3.00m-1.50 -1.50v3.00" stroke="#56b4e9" stroke-width="0.85" fill="none"/>
<path d="M387.6 216.4l1.30 1.75 -1.30 1.75 -1.30 -1.75z" fill="#f0e442"/>
<path d="M389.1 226.8l1.75 2.70h-3.50z" fill="#e69f00"/>
<path d="M388.4 224.1h3.00m-1.50 -1.50v3.00" stroke="#56b4e9" stroke-width="0.85" fill="none"/>
<path d="M390.8 227.4l1.30 1.75 -1.30 1.75 -1.30 -1.75zM392.3 215.7l1.30 1.75 -1.30 1.75 -1.30 -1.75z" fill="#f0e442"/>
<path d="M393.1 225.3l1.75 2.70h-3.50z" fill="#e69f00"/>
<path d="M392.6 231.1a1.40 1.40 0 1 0 2.80 0a1.40 1.40 0 1 0 -2.80 0" fill="#009e73"/>
<path d="M394.0 216.4h3.00m-1.50 -1.50v3.00" stroke="#56b4e9" stroke-width="0.85" fill="none"/>
<path d="M396.4 233.8l1.75 2.70h-3.50z" fill="#e69f00"/>
<path d="M395.8 226.9a1.40 1.40 0 1 0 2.80 0a1.40 1.40 0 1 0 -2.80 0" fill="#009e73"/>
<path d="M397.2 232.2h3.00m-1.50 -1.50v3.00" stroke="#56b4e9" stroke-width="0.85" fill="none"/>
<path d="M398.2 232.0a1.40 1.40 0 1 0 2.80 0a1.40 1.40 0 1 0 -2.80 0" fill="#009e73"/>
<path d="M400.4 223.1l1.30 1.75 -1.30 1.75 -1.30 -1.75z" fill="#f0e442"/>
<path d="M401.9 227.3l1.75 2.70h-3.50z" fill="#e69f00"/>
<path d="M401.4 219.8a1.40 1.40 0 1 0 2.80 0a1.40 1.40 0 1 0 -2.80 0" fill="#009e73"/>
<path d="M403.7 238.6l1.30 1.75 -1.30 1.75 -1.30 -1.75z" fill="#f0e442"/>
<path d="M405.1 210.0l1.75 2.70h-3.50z" fill="#e69f00"/>
<path d="M404.5 231.9h3.00m-1.50 -1.50v3.00" stroke="#56b4e9" stroke-width="0.85" fill="none"/>
<path d="M406.9 231.8l1.30 1.75 -1.30 1.75 -1.30 -1.75z" fill="#f0e442"/>
<path d="M408.4 219.2l1.75 2.70h-3.50z" fill="#e69f00"/>
<path d="M407.7 234.4h3.00m-1.50 -1.50v3.00" stroke="#56b4e9" stroke-width="0.85" fill="none"/>
<path d="M408.7 225.2a1.40 1.40 0 1 0 2.80 0a1.40 1.40 0 1 0 -2.80 0" fill="#009e73"/>
<path d="M411.6 225.6l1.75 2.70h-3.50z" fill="#e69f00"/>
<path d="M410.9 226.9h3.00m-1.50 -1.50v3.00" stroke="#56b4e9" stroke-width="0.85" fill="none"/>
<path d="M413.3 219.2l1.30 1.75 -1.30 1.75 -1.30 -1.75z" fill="#f0e442"/>
<path d="M414.8 218.6l1.75 2.70h-3.50z" fill="#e69f00"/>
<path d="M414.2 219.2h3.00m-1.50 -1.50v3.00" stroke="#56b4e9" stroke-width="0.85" fill="none"/>
<path d="M416.5 221.5l1.30 1.75 -1.30 1.75 -1.30 -1.75z" fill="#f0e442"/>
<path d="M418.0 227.1l1.75 2.70h-3.50z" fill="#e69f00"/>
<path d="M417.4 220.8h3.00m-1.50 -1.50v3.00" stroke="#56b4e9" stroke-width="0.85" fill="none"/>
<path d="M419.7 223.5l1.30 1.75 -1.30 1.75 -1.30 -1.75z" fill="#f0e442"/>
<path d="M421.2 215.9l1.75 2.70h-3.50z" fill="#e69f00"/>
<path d="M420.7 243.7a1.40 1.40 0 1 0 2.80 0a1.40 1.40 0 1 0 -2.80 0" fill="#009e73"/>
<path d="M423.0 229.3l1.30 1.75 -1.30 1.75 -1.30 -1.75z" fill="#f0e442"/>
<path d="M424.4 232.0l1.75 2.70h-3.50z" fill="#e69f00"/>
<path d="M423.8 229.8h3.00m-1.50 -1.50v3.00" stroke="#56b4e9" stroke-width="0.85" fill="none"/>
<path d="M426.2 238.7l1.30 1.75 -1.30 1.75 -1.30 -1.75z" fill="#f0e442"/>
<path d="M427.6 227.2l1.75 2.70h-3.50z" fill="#e69f00"/>
<path d="M427.0 221.6h3.00m-1.50 -1.50v3.00" stroke="#56b4e9" stroke-width="0.85" fill="none"/>
<path d="M428.0 232.0a1.40 1.40 0 1 0 2.80 0a1.40 1.40 0 1 0 -2.80 0" fill="#009e73"/>
<path d="M430.9 206.2l1.30 1.75 -1.30 1.75 -1.30 -1.75z" fill="#f0e442"/>
<path d="M430.3 235.3a1.40 1.40 0 1 0 2.80 0a1.40 1.40 0 1 0 -2.80 0" fill="#009e73"/>
<path d="M432.6 231.6l1.75 2.70h-3.50zM434.1 227.5l1.75 2.70h-3.50z" fill="#e69f00"/>
<path d="M433.5 231.5a1.40 1.40 0 1 0 2.80 0a1.40 1.40 0 1 0 -2.80 0" fill="#009e73"/>
<path d="M435.8 229.2l1.30 1.75 -1.30 1.75 -1.30 -1.75z" fill="#f0e442"/>
<path d="M435.8 226.9h3.00m-1.50 -1.50v3.00" stroke="#56b4e9" stroke-width="0.85" fill="none"/>
<path d="M436.8 227.9a1.40 1.40 0 1 0 2.80 0a1.40 1.40 0 1 0 -2.80 0" fill="#009e73"/>
<path d="M439.0 228.9l1.30 1.75 -1.30 1.75 -1.30 -1.75z" fill="#f0e442"/>
<path d="M440.5 214.8l1.75 2.70h-3.50z" fill="#e69f00"/>
<path d="M439.9 222.7h3.00m-1.50 -1.50v3.00" stroke="#56b4e9" stroke-width="0.85" fill="none"/>
<path d="M440.8 231.1a1.40 1.40 0 1 0 2.80 0a1.40 1.40 0 1 0 -2.80 0M442.3 216.4a1.40 1.40 0 1 0 2.80 0a1.40 1.40 0 1 0 -2.80 0" fill="#009e73"/>
<path d="M444.6 231.4l1.30 1.75 -1.30 1.75 -1.30 -1.75z" fill="#f0e442"/>
<path d="M445.5 225.3l1.75 2.70h-3.50z" fill="#e69f00"/>
<path d="M445.4 222.1h3.00m-1.50 -1.50v3.00" stroke="#56b4e9" stroke-width="0.85" fill="none"/>
<path d="M446.4 228.0a1.40 1.40 0 1 0 2.80 0a1.40 1.40 0 1 0 -2.80 0" fill="#009e73"/>
<path d="M448.7 223.9l1.30 1.75 -1.30 1.75 -1.30 -1.75z" fill="#f0e442"/>
<path d="M450.2 237.0l1.75 2.70h-3.50z" fill="#e69f00"/>
<path d="M449.6 233.0a1.40 1.40 0 1 0 2.80 0a1.40 1.40 0 1 0 -2.80 0" fill="#009e73"/>
<path d="M451.9 238.5l1.30 1.75 -1.30 1.75 -1.30 -1.75z" fill="#f0e442"/>
<path d="M453.4 222.0l1.75 2.70h-3.50z" fill="#e69f00"/>
<path d="M452.7 229.5h3.00m-1.50 -1.50v3.00" stroke="#56b4e9" stroke-width="0.85" fill="none"/>
<path d="M455.1 224.3l1.30 1.75 -1.30 1.75 -1.30 -1.75zM456.6 215.7l1.30 1.75 -1.30 1.75 -1.30 -1.75z" fill="#f0e442"/>
<path d="M456.1 224.8a1.40 1.40 0 1 0 2.80 0a1.40 1.40 0 1 0 -2.80 0" fill="#009e73"/>
<path d="M456.8 233.2h3.00m-1.50 -1.50v3.00" stroke="#56b4e9" stroke-width="0.85" fill="none"/>
<path d="M459.8 226.9l1.75 2.70h-3.50z" fill="#e69f00"/>
<path d="M459.2 238.1h3.00m-1.50 -1.50v3.00" stroke="#56b4e9" stroke-width="0.85" fill="none"/>
<path d="M460.1 227.4a1.40 1.40 0 1 0 2.80 0a1.40 1.40 0 1 0 -2.80 0" fill="#009e73"/>
<path d="M463.0 232.6l1.75 2.70h-3.50z" fill="#e69f00"/>
<path d="M462.4 228.9h3.00m-1.50 -1.50v3.00" stroke="#56b4e9" stroke-width="0.85" fill="none"/>
<path d="M463.3 227.6a1.40 1.40 0 1 0 2.80 0a1.40 1.40 0 1 0 -2.80 0" fill="#009e73"/>
<path d="M466.2 231.5l1.75 2.70h-3.50z" fill="#e69f00"/>
<path d="M465.7 227.3a1.40 1.40 0 1 0 2.80 0a1.40 1.40 0 1 0 -2.80 0" fill="#009e73"/>
<path d="M468.0 216.3l1.30 1.75 -1.30 1.75 -1.30 -1.75z" fill="#f0e442"/>
<path d="M468.0 205.9a1.40 1.40 0 1 0 2.80 0a1.40 1.40 0 1 0 -2.80 0" fill="#009e73"/>
<path d="M468.8 216.4h3.00m-1.50 -1.50v3.00" stroke="#56b4e9" stroke-width="0.85" fill="none"/>
<path d="M471.2 231.6l1.75 2.70h-3.50zM472.7 226.6l1.75 2.70h-3.50z" fill="#e69f00"/>
<path d="M472.0 225.9h3.00m-1.50 -1.50v3.00" stroke="#56b4e9" stroke-width="0.85" fill="none"/>
<path d="M473.0 226.8a1.40 1.40 0 1 0 2.80 0a1.40 1.40 0 1 0 -2.80 0" fill="#009e73"/>
<path d="M474.4 225.5h3.00m-1.50 -1.50v3.00" stroke="#56b4e9" stroke-width="0.85" fill="none"/>
<path d="M475.3 222.4a1.40 1.40 0 1 0 2.80 0a1.40 1.40 0 1 0 -2.80 0" fill="#009e73"/>
<path d="M477.6 229.9l1.30 1.75 -1.30 1.75 -1.30 -1.75z" fill="#f0e442"/>
<path d="M479.1 237.8l1.75 2.70h-3.50z" fill="#e69f00"/>
<path d="M478.5 230.5h3.00m-1.50 -1.50v3.00" stroke="#56b4e9" stroke-width="0.85" fill="none"/>
<path d="M479.4 229.7a1.40 1.40 0 1 0 2.80 0a1.40 1.40 0 1 0 -2.80 0" fill="#009e73"/>
<path d="M482.3 232.5l1.75 2.70h-3.50z" fill="#e69f00"/>
<path d="M481.8 236.2a1.40 1.40 0 1 0 2.80 0a1.40 1.40 0 1 0 -2.80 0" fill="#009e73"/>
<path d="M484.0 224.3l1.30 1.75 -1.30 1.75 -1.30 -1.75zM485.5 212.6l1.30 1.75 -1.30 1.75 -1.30 -1.75z" fill="#f0e442"/>
<path d="M485.0 226.9a1.40 1.40 0 1 0 2.80 0a1.40 1.40 0 1 0 -2.80 0" fill="#009e73"/>
<path d="M487.3 231.6l1.75 2.70h-3.50z" fill="#e69f00"/>
<path d="M487.2 205.9h3.00m-1.50 -1.50v3.00" stroke="#56b4e9" stroke-width="0.85" fill="none"/>
<path d="M488.2 214.3a1.40 1.40 0 1 0 2.80 0a1.40 1.40 0 1 0 -2.80 0" fill="#009e73"/>
<path d="M490.5 229.5l1.75 2.70h-3.50z" fill="#e69f00"/>
<path d="M490.4 230.0h3.00m-1.50 -1.50v3.00" stroke="#56b4e9" stroke-width="0.85" fill="none"/>
<path d="M491.4 222.7a1.40 1.40 0 1 0 2.80 0a1.40 1.40 0 1 0 -2.80 0" fill="#009e73"/>
<path d="M493.7 225.0l1.30 1.75 -1.30 1.75 -1.30 -1.75z" fill="#f0e442"/>
<path d="M495.2 224.4l1.75 2.70h-3.50z" fill="#e69f00"/>
<path d="M494.5 234.3h3.00m-1.50 -1.50v3.00" stroke="#56b4e9" stroke-width="0.85" fill="none"/>
<path d="M496.9 225.8l1.30 1.75 -1.30 1.75 -1.30 -1.75z" fill="#f0e442"/>
<path d="M498.4 227.0l1.75 2.70h-3.50z" fill="#e69f00"/>
<path d="M497.7 235.8h3.00m-1.50 -1.50v3.00" stroke="#56b4e9" stroke-width="0.85" fill="none"/>
<path d="M498.7 236.2a1.40 1.40 0 1 0 2.80 0a1.40 1.40 0 1 0 -2.80 0" fill="#009e73"/>
<path d="M500.1 231.2h3.00m-1.50 -1.50v3.00" stroke="#56b4e9" stroke-width="0.85" fill="none"/>
<path d="M501.1 232.0a1.40 1.40 0 1 0 2.80 0a1.40 1.40 0 1 0 -2.80 0" fill="#009e73"/>
<path d="M503.3 238.0l1.30 1.75 -1.30 1.75 -1.30 -1.75z" fill="#f0e442"/>
<path d="M503.3 240.0h3.00m-1.50 -1.50v3.00" stroke="#56b4e9" stroke-width="0.85" fill="none"/>
<path d="M504.3 231.8a1.40 1.40 0 1 0 2.80 0a1.40 1.40 0 1 0 -2.80 0" fill="#009e73"/>
<path d="M506.5 236.8l1.30 1.75 -1.30 1.75 -1.30 -1.75z" fill="#f0e442"/>
<path d="M506.5 238.2h3.00m-1.50 -1.50v3.00" stroke="#56b4e9" stroke-width="0.85" fill="none"/>
<path d="M507.5 236.7a1.40 1.40 0 1 0 2.80 0a1.40 1.40 0 1 0 -2.80 0" fill="#009e73"/>
<path d="M509.8 233.8l1.30 1.75 -1.30 1.75 -1.30 -1.75z" fill="#f0e442"/>
<path d="M511.2 232.0l1.75 2.70h-3.50z" fill="#e69f00"/>
<path d="M510.7 233.2a1.40 1.40 0 1 0 2.80 0a1.40 1.40 0 1 0 -2.80 0" fill="#009e73"/>
<path d="M513.0 236.1l1.30 1.75 -1.30 1.75 -1.30 -1.75z" fill="#f0e442"/>
<path d="M513.0 215.3h3.00m-1.50 -1.50v3.00" stroke="#56b4e9" stroke-width="0.85" fill="none"/>
<path d="M513.9 239.5a1.40 1.40 0 1 0 2.80 0a1.40 1.40 0 1 0 -2.80 0" fill="#009e73"/>
<path d="M516.2 233.6l1.30 1.75 -1.30 1.75 -1.30 -1.75z" fill="#f0e442"/>
<path d="M517.7 231.9l1.75 2.70h-3.50z" fill="#e69f00"/>
<path d="M517.0 239.3h3.00m-1.50 -1.50v3.00" stroke="#56b4e9" stroke-width="0.85" fill="none"/>
<path d="M519.4 233.0l1.30 1.75 -1.30 1.75 -1.30 -1.75z" fill="#f0e442"/>
<path d="M520.9 236.7l1.75 2.70h-3.50z" fill="#e69f00"/>
<path d="M520.2 237.5h3.00m-1.50 -1.50v3.00" stroke="#56b4e9" stroke-width="0.85" fill="none"/>
<path d="M522.6 235.9l1.30 1.75 -1.30 1.75 -1.30 -1.75z" fill="#f0e442"/>
<path d="M524.1 240.2l1.75 2.70h-3.50z" fill="#e69f00"/>
<path d="M523.5 235.9h3.00m-1.50 -1.50v3.00" stroke="#56b4e9" stroke-width="0.85" fill="none"/>
<path d="M525.8 239.5l1.30 1.75 -1.30 1.75 -1.30 -1.75z" fill="#f0e442"/>
<path d="M525.8 244.7h3.00m-1.50 -1.50v3.00" stroke="#56b4e9" stroke-width="0.85" fill="none"/>
<path d="M526.8 243.7a1.40 1.40 0 1 0 2.80 0a1.40 1.40 0 1 0 -2.80 0" fill="#009e73"/>
<path d="M529.0 229.2l1.30 1.75 -1.30 1.75 -1.30 -1.75z" fill="#f0e442"/>
<path d="M530.5 236.4l1.75 2.70h-3.50z" fill="#e69f00"/>
<path d="M529.9 231.7h3.00m-1.50 -1.50v3.00" stroke="#56b4e9" stroke-width="0.85" fill="none"/>
<path d="M532.3 234.4l1.30 1.75 -1.30 1.75 -1.30 -1.75z" fill="#f0e442"/>
<path d="M533.7 218.0l1.75 2.70h-3.50z" fill="#e69f00"/>
<path d="M533.2 233.2a1.40 1.40 0 1 0 2.80 0a1.40 1.40 0 1 0 -2.80 0" fill="#009e73"/>
<path d="M534.0 226.9h3.00m-1.50 -1.50v3.00" stroke="#56b4e9" stroke-width="0.85" fill="none"/>
<path d="M537.0 195.9l1.75 2.70h-3.50z" fill="#e69f00"/>
<path d="M536.3 224.8h3.00m-1.50 -1.50v3.00" stroke="#56b4e9" stroke-width="0.85" fill="none"/>
<path d="M537.3 226.9a1.40 1.40 0 1 0 2.80 0a1.40 1.40 0 1 0 -2.80 0" fill="#009e73"/>
<path d="M540.2 228.5l1.75 2.70h-3.50z" fill="#e69f00"/>
<path d="M539.5 227.9h3.00m-1.50 -1.50v3.00" stroke="#56b4e9" stroke-width="0.85" fill="none"/>
<path d="M540.5 231.2a1.40 1.40 0 1 0 2.80 0a1.40 1.40 0 1 0 -2.80 0" fill="#009e73"/>
<path d="M541.9 214.3h3.00m-1.50 -1.50v3.00" stroke="#56b4e9" stroke-width="0.85" fill="none"/>
<path d="M542.9 235.1a1.40 1.40 0 1 0 2.80 0a1.40 1.40 0 1 0 -2.80 0" fill="#009e73"/>
<path d="M545.1 229.2l1.30 1.75 -1.30 1.75 -1.30 -1.75z" fill="#f0e442"/>
<path d="M546.6 235.1l1.75 2.70h-3.50z" fill="#e69f00"/>
<path d="M546.0 218.5h3.00m-1.50 -1.50v3.00" stroke="#56b4e9" stroke-width="0.85" fill="none"/>
<path d="M546.9 236.6a1.40 1.40 0 1 0 2.80 0a1.40 1.40 0 1 0 -2.80 0" fill="#009e73"/>
<path d="M549.8 215.7l1.30 1.75 -1.30 1.75 -1.30 -1.75z" fill="#f0e442"/>
<path d="M549.3 226.9a1.40 1.40 0 1 0 2.80 0a1.40 1.40 0 1 0 -2.80 0" fill="#009e73"/>
<path d="M551.6 229.5l1.75 2.70h-3.50zM553.0 219.9l1.75 2.70h-3.50z" fill="#e69f00"/>
<path d="M552.4 232.1h3.00m-1.50 -1.50v3.00" stroke="#56b4e9" stroke-width="0.85" fill="none"/>
<path d="M553.4 230.3a1.40 1.40 0 1 0 2.80 0a1.40 1.40 0 1 0 -2.80 0M554.8 218.5a1.40 1.40 0 1 0 2.80 0a1.40 1.40 0 1 0 -2.80 0" fill="#009e73"/>
<path d="M557.1 225.3l1.75 2.70h-3.50z" fill="#e69f00"/>
<path d="M558.0 229.3l1.30 1.75 -1.30 1.75 -1.30 -1.75z" fill="#f0e442"/>
<path d="M559.5 233.6l1.75 2.70h-3.50z" fill="#e69f00"/>
<path d="M558.9 220.6a1.40 1.40 0 1 0 2.80 0a1.40 1.40 0 1 0 -2.80 0" fill="#009e73"/>
<path d="M561.2 226.8l1.30 1.75 -1.30 1.75 -1.30 -1.75z" fill="#f0e442"/>
<path d="M562.7 228.3l1.75 2.70h-3.50z" fill="#e69f00"/>
<path d="M562.1 223.4a1.40 1.40 0 1 0 2.80 0a1.40 1.40 0 1 0 -2.80 0" fill="#009e73"/>
<path d="M564.4 222.3l1.30 1.75 -1.30 1.75 -1.30 -1.75z" fill="#f0e442"/>
<path d="M565.9 224.5l1.75 2.70h-3.50z" fill="#e69f00"/>
<path d="M565.4 221.3a1.40 1.40 0 1 0 2.80 0a1.40 1.40 0 1 0 -2.80 0" fill="#009e73"/>
<path d="M567.6 222.7l1.30 1.75 -1.30 1.75 -1.30 -1.75z" fill="#f0e442"/>
<path d="M569.1 226.9l1.75 2.70h-3.50z" fill="#e69f00"/>
<path d="M568.5 230.7h3.00m-1.50 -1.50v3.00" stroke="#56b4e9" stroke-width="0.85" fill="none"/>
<path d="M570.8 227.5l1.30 1.75 -1.30 1.75 -1.30 -1.75z" fill="#f0e442"/>
<path d="M572.3 232.0l1.75 2.70h-3.50z" fill="#e69f00"/>
<path d="M571.8 232.1a1.40 1.40 0 1 0 2.80 0a1.40 1.40 0 1 0 -2.80 0" fill="#009e73"/>
<path d="M574.1 231.6l1.30 1.75 -1.30 1.75 -1.30 -1.75z" fill="#f0e442"/>
<path d="M575.5 225.4l1.75 2.70h-3.50z" fill="#e69f00"/>
<path d="M574.9 233.0h3.00m-1.50 -1.50v3.00" stroke="#56b4e9" stroke-width="0.85" fill="none"/>
<path d="M575.9 235.7a1.40 1.40 0 1 0 2.80 0a1.40 1.40 0 1 0 -2.80 0" fill="#009e73"/>
<path d="M577.3 227.7h3.00m-1.50 -1.50v3.00" stroke="#56b4e9" stroke-width="0.85" fill="none"/>
<path d="M578.2 227.3a1.40 1.40 0 1 0 2.80 0a1.40 1.40 0 1 0 -2.80 0" fill="#009e73"/>
<path d="M580.5 227.8l1.30 1.75 -1.30 1.75 -1.30 -1.75z" fill="#f0e442"/>
<path d="M582.0 229.0l1.75 2.70h-3.50z" fill="#e69f00"/>
<path d="M581.4 223.9a1.40 1.40 0 1 0 2.80 0a1.40 1.40 0 1 0 -2.80 0" fill="#009e73"/>
<path d="M583.7 221.9l1.30 1.75 -1.30 1.75 -1.30 -1.75z" fill="#f0e442"/>
<path d="M585.2 228.8l1.75 2.70h-3.50z" fill="#e69f00"/>
<path d="M584.6 229.1a1.40 1.40 0 1 0 2.80 0a1.40 1.40 0 1 0 -2.80 0" fill="#009e73"/>
<path d="M586.9 227.3l1.30 1.75 -1.30 1.75 -1.30 -1.75z" fill="#f0e442"/>
<path d="M586.9 232.9h3.00m-1.50 -1.50v3.00" stroke="#56b4e9" stroke-width="0.85" fill="none"/>
<path d="M587.9 225.3a1.40 1.40 0 1 0 2.80 0a1.40 1.40 0 1 0 -2.80 0" fill="#009e73"/>
<path d="M590.1 223.8l1.30 1.75 -1.30 1.75 -1.30 -1.75z" fill="#f0e442"/>
<path d="M591.6 229.2l1.75 2.70h-3.50z" fill="#e69f00"/>
<path d="M591.1 226.9a1.40 1.40 0 1 0 2.80 0a1.40 1.40 0 1 0 -2.80 0" fill="#009e73"/>
<path d="M593.3 230.4l1.30 1.75 -1.30 1.75 -1.30 -1.75z" fill="#f0e442"/>
<path d="M593.4 216.4a1.40 1.40 0 1 0 2.80 0a1.40 1.40 0 1 0 -2.80 0" fill="#009e73"/>
<path d="M594.2 205.9h3.00m-1.50 -1.50v3.00" stroke="#56b4e9" stroke-width="0.85" fill="none"/>
<path d="M596.6 231.6l1.75 2.70h-3.50zM598.0 228.0l1.75 2.70h-3.50z" fill="#e69f00"/>
<path d="M597.4 235.6h3.00m-1.50 -1.50v3.00" stroke="#56b4e9" stroke-width="0.85" fill="none"/>
<path d="M598.4 233.9a1.40 1.40 0 1 0 2.80 0a1.40 1.40 0 1 0 -2.80 0" fill="#009e73"/>
<path d="M601.3 226.4l1.75 2.70h-3.50z" fill="#e69f00"/>
<path d="M600.7 231.2a1.40 1.40 0 1 0 2.80 0a1.40 1.40 0 1 0 -2.80 0" fill="#009e73"/>
<path d="M603.0 223.7l1.30 1.75 -1.30 1.75 -1.30 -1.75z" fill="#f0e442"/>
<path d="M603.0 236.8h3.00m-1.50 -1.50v3.00" stroke="#56b4e9" stroke-width="0.85" fill="none"/>
<path d="M603.9 231.8a1.40 1.40 0 1 0 2.80 0a1.40 1.40 0 1 0 -2.80 0" fill="#009e73"/>
<path d="M606.2 228.7l1.30 1.75 -1.30 1.75 -1.30 -1.75z" fill="#f0e442"/>
<path d="M607.7 222.3l1.75 2.70h-3.50z" fill="#e69f00"/>
<path d="M607.1 235.8h3.00m-1.50 -1.50v3.00" stroke="#56b4e9" stroke-width="0.85" fill="none"/>
<path d="M608.0 223.5a1.40 1.40 0 1 0 2.80 0a1.40 1.40 0 1 0 -2.80 0" fill="#009e73"/>
<path d="M610.9 215.7l1.30 1.75 -1.30 1.75 -1.30 -1.75z" fill="#f0e442"/>
<path d="M610.4 224.8a1.40 1.40 0 1 0 2.80 0a1.40 1.40 0 1 0 -2.80 0" fill="#009e73"/>
<path d="M611.1 231.1h3.00m-1.50 -1.50v3.00" stroke="#56b4e9" stroke-width="0.85" fill="none"/>
<path d="M614.1 227.9l1.75 2.70h-3.50z" fill="#e69f00"/>
<path d="M613.6 228.5a1.40 1.40 0 1 0 2.80 0a1.40 1.40 0 1 0 -2.80 0" fill="#009e73"/>
<path d="M615.9 225.3l1.30 1.75 -1.30 1.75 -1.30 -1.75zM617.3 205.2l1.30 1.75 -1.30 1.75 -1.30 -1.75z" fill="#f0e442"/>
<path d="M618.2 233.8l1.75 2.70h-3.50z" fill="#e69f00"/>
<path d="M617.7 233.2a1.40 1.40 0 1 0 2.80 0a1.40 1.40 0 1 0 -2.80 0" fill="#009e73"/>
<path d="M620.5 215.7l1.30 1.75 -1.30 1.75 -1.30 -1.75z" fill="#f0e442"/>
<path d="M620.0 235.3a1.40 1.40 0 1 0 2.80 0a1.40 1.40 0 1 0 -2.80 0" fill="#009e73"/>
<path d="M620.8 226.9h3.00m-1.50 -1.50v3.00" stroke="#56b4e9" stroke-width="0.85" fill="none"/>
<path d="M623.8 219.9l1.75 2.70h-3.50z" fill="#e69f00"/>
<path d="M623.2 222.5a1.40 1.40 0 1 0 2.80 0a1.40 1.40 0 1 0 -2.80 0" fill="#009e73"/>
<path d="M625.5 217.8l1.30 1.75 -1.30 1.75 -1.30 -1.75z" fill="#f0e442"/>
<path d="M625.5 230.4h3.00m-1.50 -1.50v3.00" stroke="#56b4e9" stroke-width="0.85" fill="none"/>
<path d="M626.4 241.6a1.40 1.40 0 1 0 2.80 0a1.40 1.40 0 1 0 -2.80 0" fill="#009e73"/>
<path d="M628.7 229.2l1.30 1.75 -1.30 1.75 -1.30 -1.75z" fill="#f0e442"/>
<path d="M630.2 224.0l1.75 2.70h-3.50z" fill="#e69f00"/>
<path d="M629.6 226.4h3.00m-1.50 -1.50v3.00" stroke="#56b4e9" stroke-width="0.85" fill="none"/>
<path d="M630.5 229.4a1.40 1.40 0 1 0 2.80 0a1.40 1.40 0 1 0 -2.80 0" fill="#009e73"/>
<path d="M633.4 229.2l1.75 2.70h-3.50z" fill="#e69f00"/>
<path d="M632.8 234.6h3.00m-1.50 -1.50v3.00" stroke="#56b4e9" stroke-width="0.85" fill="none"/>
<path d="M635.1 223.1l1.30 1.75 -1.30 1.75 -1.30 -1.75z" fill="#f0e442"/>
<path d="M636.6 231.1l1.75 2.70h-3.50z" fill="#e69f00"/>
<path d="M636.1 220.7a1.40 1.40 0 1 0 2.80 0a1.40 1.40 0 1 0 -2.80 0" fill="#009e73"/>
<path d="M638.4 225.8l1.30 1.75 -1.30 1.75 -1.30 -1.75z" fill="#f0e442"/>
<path d="M639.8 224.0l1.75 2.70h-3.50z" fill="#e69f00"/>
<path d="M639.2 231.2h3.00m-1.50 -1.50v3.00" stroke="#56b4e9" stroke-width="0.85" fill="none"/>
<path d="M640.2 231.0a1.40 1.40 0 1 0 2.80 0a1.40 1.40 0 1 0 -2.80 0" fill="#009e73"/>
<path d="M643.1 226.7l1.75 2.70h-3.50z" fill="#e69f00"/>
<path d="M642.5 228.8a1.40 1.40 0 1 0 2.80 0a1.40 1.40 0 1 0 -2.80 0" fill="#009e73"/>
<path d="M644.8 228.8l1.30 1.75 -1.30 1.75 -1.30 -1.75z" fill="#f0e442"/>
<path d="M646.3 222.6l1.75 2.70h-3.50z" fill="#e69f00"/>
<path d="M645.6 235.3h3.00m-1.50 -1.50v3.00" stroke="#56b4e9" stroke-width="0.85" fill="none"/>
<path d="M646.6 226.3a1.40 1.40 0 1 0 2.80 0a1.40 1.40 0 1 0 -2.80 0M648.1 217.4a1.40 1.40 0 1 0 2.80 0a1.40 1.40 0 1 0 -2.80 0" fill="#009e73"/>
<path d="M650.3 231.6l1.75 2.70h-3.50z" fill="#e69f00"/>
<path d="M649.7 226.9h3.00m-1.50 -1.50v3.00" stroke="#56b4e9" stroke-width="0.85" fill="none"/>
<path d="M652.7 227.9l1.75 2.70h-3.50z" fill="#e69f00"/>
<path d="M652.1 234.8h3.00m-1.50 -1.50v3.00" stroke="#56b4e9" stroke-width="0.85" fill="none"/>
<path d="M653.0 227.2a1.40 1.40 0 1 0 2.80 0a1.40 1.40 0 1 0 -2.80 0" fill="#009e73"/>
<path d="M655.9 232.1l1.75 2.70h-3.50z" fill="#e69f00"/>
<path d="M655.3 226.2h3.00m-1.50 -1.50v3.00" stroke="#56b4e9" stroke-width="0.85" fill="none"/>
<path d="M656.2 222.0a1.40 1.40 0 1 0 2.80 0a1.40 1.40 0 1 0 -2.80 0M657.7 218.5a1.40 1.40 0 1 0 2.80 0a1.40 1.40 0 1 0 -2.80 0" fill="#009e73"/>
<path d="M660.0 229.5l1.75 2.70h-3.50z" fill="#e69f00"/>
<path d="M660.9 225.2l1.30 1.75 -1.30 1.75 -1.30 -1.75z" fill="#f0e442"/>
<path d="M662.3 227.4l1.75 2.70h-3.50z" fill="#e69f00"/>
<path d="M661.7 237.1h3.00m-1.50 -1.50v3.00" stroke="#56b4e9" stroke-width="0.85" fill="none"/>
<path d="M662.7 221.7a1.40 1.40 0 1 0 2.80 0a1.40 1.40 0 1 0 -2.80 0" fill="#009e73"/>
<path d="M665.6 218.0l1.75 2.70h-3.50z" fill="#e69f00"/>
<path d="M665.0 226.9a1.40 1.40 0 1 0 2.80 0a1.40 1.40 0 1 0 -2.80 0" fill="#009e73"/>
<path d="M667.3 229.3l1.30 1.75 -1.30 1.75 -1.30 -1.75zM668.8 215.7l1.30 1.75 -1.30 1.75 -1.30 -1.75z" fill="#f0e442"/>
<path d="M669.6 233.8l1.75 2.70h-3.50z" fill="#e69f00"/>
<path d="M669.1 226.9a1.40 1.40 0 1 0 2.80 0a1.40 1.40 0 1 0 -2.80 0" fill="#009e73"/>
<path d="M672.0 243.0l1.30 1.75 -1.30 1.75 -1.30 -1.75z" fill="#f0e442"/>
<path d="M672.9 233.8l1.75 2.70h-3.50z" fill="#e69f00"/>
<path d="M672.3 226.9a1.40 1.40 0 1 0 2.80 0a1.40 1.40 0 1 0 -2.80 0" fill="#009e73"/>
<path d="M673.7 225.0h3.00m-1.50 -1.50v3.00" stroke="#56b4e9" stroke-width="0.85" fill="none"/>
<path d="M674.7 221.9a1.40 1.40 0 1 0 2.80 0a1.40 1.40 0 1 0 -2.80 0" fill="#009e73"/>
<path d="M676.9 238.1l1.30 1.75 -1.30 1.75 -1.30 -1.75z" fill="#f0e442"/>
<path d="M678.4 230.8l1.75 2.70h-3.50z" fill="#e69f00"/>
<path d="M677.9 225.3a1.40 1.40 0 1 0 2.80 0a1.40 1.40 0 1 0 -2.80 0" fill="#009e73"/>
<path d="M680.2 224.2l1.30 1.75 -1.30 1.75 -1.30 -1.75z" fill="#f0e442"/>
<path d="M360.1 282.8V275.1M361.0 282.8V281.0M361.9 282.8V273.6M363.3 282.8V280.7M364.2 282.8V280.7M365.1 282.8V287.7M367.4 282.8V267.1M368.3 282.8V284.6M369.8 282.8V287.6M370.6 282.8V287.1M371.5 282.8V275.1M374.7 282.8V265.3M376.2 282.8V279.0M377.1 282.8V282.0M377.9 282.8V280.7M380.3 282.8V280.2M381.2 282.8V266.2M382.6 282.8V270.9M383.5 282.8V275.8M384.4 282.8V267.3M385.9 282.8V277.0M386.7 282.8V274.1M387.6 282.8V265.1M389.1 282.8V279.8M389.9 282.8V283.5M390.8 282.8V273.3M392.3 282.8V280.3M393.1 282.8V275.5M394.0 282.8V276.9M395.5 282.8V274.5M396.4 282.8V287.2M397.2 282.8V278.0M399.6 282.8V279.3M400.4 282.8V290.7M401.9 282.8V290.4M402.8 282.8V290.4M403.7 282.8V273.4M405.1 282.8V281.0M406.0 282.8V265.3M406.9 282.8V282.8M408.4 282.8V287.3M409.2 282.8V272.7M410.1 282.8V272.6M411.6 282.8V283.7M412.4 282.8V280.5M413.3 282.8V281.2M415.7 282.8V297.7M416.5 282.8V280.2M418.9 282.8V277.6M419.7 282.8V281.1M421.2 282.8V278.5M422.1 282.8V276.9M423.0 282.8V287.0M425.3 282.8V274.9M426.2 282.8V286.3M427.6 282.8V277.7M428.5 282.8V289.9M429.4 282.8V280.0M430.9 282.8V272.6M431.7 282.8V283.3M432.6 282.8V284.1M434.1 282.8V285.1M434.9 282.8V278.3M435.8 282.8V275.4M437.3 282.8V291.9M438.2 282.8V276.6M439.0 282.8V259.2M440.5 282.8V279.1M441.4 282.8V278.2M442.2 282.8V275.4M443.7 282.8V272.3M444.6 282.8V283.3M445.5 282.8V283.9M446.9 282.8V264.3M447.8 282.8V282.0M448.7 282.8V286.3M450.2 282.8V291.4M451.0 282.8V289.9M451.9 282.8V280.2M454.2 282.8V270.6M455.1 282.8V288.1M457.4 282.8V269.7M458.3 282.8V286.3M459.8 282.8V273.3M460.7 282.8V282.3M461.5 282.8V279.9M463.9 282.8V272.3M464.7 282.8V280.2M466.2 282.8V264.8M467.1 282.8V269.2M468.0 282.8V277.0M469.4 282.8V292.6M470.3 282.8V274.2M471.2 282.8V282.5M472.7 282.8V290.3M473.5 282.8V272.1M474.4 282.8V278.6M475.9 282.8V276.5M476.7 282.8V289.5M477.6 282.8V279.3M479.1 282.8V286.4M480.0 282.8V273.5M480.8 282.8V272.5M482.3 282.8V292.7M483.2 282.8V283.7M484.0 282.8V287.2M485.5 282.8V280.6M486.4 282.8V289.0M487.3 282.8V274.3M488.7 282.8V270.8M489.6 282.8V282.9M490.5 282.8V290.7M491.9 282.8V288.1M492.8 282.8V294.5M493.7 282.8V296.2M495.2 282.8V264.0M496.0 282.8V272.6M496.9 282.8V263.8M498.4 282.8V299.5M499.2 282.8V293.6M500.1 282.8V279.1M501.6 282.8V280.7M502.5 282.8V277.2M503.3 282.8V281.9M505.7 282.8V284.6M506.5 282.8V275.8M508.0 282.8V276.2M508.9 282.8V293.6M509.8 282.8V277.9M511.2 282.8V279.3M512.1 282.8V303.6M513.0 282.8V276.6M514.5 282.8V276.4M515.3 282.8V262.6M516.2 282.8V261.7M517.7 282.8V288.6M518.5 282.8V282.8M519.4 282.8V296.9M520.9 282.8V271.1M521.8 282.8V281.8M522.6 282.8V281.8M524.1 282.8V278.9M525.0 282.8V267.4M525.8 282.8V282.7M527.3 282.8V277.2M528.2 282.8V282.3M529.0 282.8V266.5M530.5 282.8V276.3M531.4 282.8V285.6M532.3 282.8V288.3M533.7 282.8V286.2M534.6 282.8V284.0M535.5 282.8V284.4M537.0 282.8V280.1M537.8 282.8V276.9M538.7 282.8V285.4M540.2 282.8V279.9M541.0 282.8V279.8M541.9 282.8V288.4M543.4 282.8V273.5M544.3 282.8V283.3M545.1 282.8V283.5M546.6 282.8V271.3M547.5 282.8V297.6M548.3 282.8V278.6M549.8 282.8V290.5M550.7 282.8V273.0M551.6 282.8V277.9M553.0 282.8V288.6M553.9 282.8V285.6M554.8 282.8V283.5M556.2 282.8V275.2M557.1 282.8V287.6M558.0 282.8V272.8M559.5 282.8V291.2M560.3 282.8V281.1M561.2 282.8V294.0M562.7 282.8V263.7M563.5 282.8V267.5M564.4 282.8V280.0M565.9 282.8V261.5M566.8 282.8V283.3M567.6 282.8V283.5M569.1 282.8V278.5M570.0 282.8V285.4M570.8 282.8V260.3M573.2 282.8V277.6M574.1 282.8V287.2M575.5 282.8V279.4M576.4 282.8V292.6M577.3 282.8V270.8M578.8 282.8V280.4M579.6 282.8V289.6M580.5 282.8V278.7M582.0 282.8V269.1M582.8 282.8V295.4M583.7 282.8V283.5M585.2 282.8V282.5M586.0 282.8V266.5M586.9 282.8V286.2M588.4 282.8V277.7M589.3 282.8V269.0M590.1 282.8V295.7M591.6 282.8V280.7M592.5 282.8V276.9M593.3 282.8V289.3M595.7 282.8V301.2M596.6 282.8V267.1M598.0 282.8V282.8M598.9 282.8V273.3M599.8 282.8V278.2M601.3 282.8V273.8M602.1 282.8V270.3M603.0 282.8V290.3M604.5 282.8V286.0M605.3 282.8V277.2M606.2 282.8V275.4M607.7 282.8V290.3M608.6 282.8V285.6M609.4 282.8V270.6M610.9 282.8V277.8M611.8 282.8V289.4M612.6 282.8V277.8M614.1 282.8V288.5M615.0 282.8V290.7M615.9 282.8V270.7M617.3 282.8V271.6M618.2 282.8V276.0M619.1 282.8V282.7M620.5 282.8V279.4M621.4 282.8V289.7M622.3 282.8V277.8M623.8 282.8V283.7M624.6 282.8V283.6M625.5 282.8V279.4M627.0 282.8V277.0M627.8 282.8V274.4M628.7 282.8V269.4M630.2 282.8V280.9M631.1 282.8V304.2M631.9 282.8V290.9M633.4 282.8V281.8M634.3 282.8V283.6M635.1 282.8V285.4M636.6 282.8V282.8M637.5 282.8V277.5M638.4 282.8V286.0M639.8 282.8V283.8M640.7 282.8V287.3M641.6 282.8V283.4M643.1 282.8V270.1M643.9 282.8V283.8M644.8 282.8V281.6M646.3 282.8V286.8M647.1 282.8V285.9M648.0 282.8V282.3M649.5 282.8V284.0M650.3 282.8V284.6M651.2 282.8V279.3M652.7 282.8V287.2M653.6 282.8V283.5M654.4 282.8V263.5M655.9 282.8V282.3M656.8 282.8V276.0M657.6 282.8V288.6M660.0 282.8V285.4M660.9 282.8V273.2M662.3 282.8V288.4M663.2 282.8V277.9M664.1 282.8V284.0M665.6 282.8V281.3M666.4 282.8V276.2M667.3 282.8V267.5M668.8 282.8V277.5M669.6 282.8V286.2M670.5 282.8V269.3M672.0 282.8V280.6M672.9 282.8V276.8M673.7 282.8V275.1M675.2 282.8V274.4M676.1 282.8V275.1M676.9 282.8V277.7M678.4 282.8V268.2M679.3 282.8V285.6M680.2 282.8V284.2" stroke="#c4c4c4" stroke-width="0.85" fill="none"/>
<path d="M366.6 282.8V304.7M373.0 282.8V299.4M373.9 282.8V302.9M379.4 282.8V304.7M398.7 282.8V262.7M414.8 282.8V302.1M418.0 282.8V302.9M424.4 282.8V306.4M453.4 282.8V259.2M456.6 282.8V261.8M463.0 282.8V306.4M504.8 282.8V262.7M572.3 282.8V303.8M594.8 282.8V302.1M659.1 282.8V302.1" stroke="#555" stroke-width="0.95" fill="none"/>
<path d="M358.6 275.1h3.00m-1.50 -1.50v3.00" stroke="#56b4e9" stroke-width="0.85" fill="none"/>
<path d="M359.6 281.0a1.40 1.40 0 1 0 2.80 0a1.40 1.40 0 1 0 -2.80 0" fill="#009e73"/>
<path d="M361.9 271.8l1.30 1.75 -1.30 1.75 -1.30 -1.75z" fill="#f0e442"/>
<path d="M361.8 280.7h3.00m-1.50 -1.50v3.00" stroke="#56b4e9" stroke-width="0.85" fill="none"/>
<path d="M362.8 280.7a1.40 1.40 0 1 0 2.80 0a1.40 1.40 0 1 0 -2.80 0" fill="#009e73"/>
<path d="M365.1 285.9l1.30 1.75 -1.30 1.75 -1.30 -1.75z" fill="#f0e442"/>
<path d="M365.2 304.7a1.40 1.40 0 1 0 2.80 0a1.40 1.40 0 1 0 -2.80 0" fill="#009e73"/>
<path d="M367.4 265.5l1.75 2.70h-3.50z" fill="#e69f00"/>
<path d="M366.8 284.6h3.00m-1.50 -1.50v3.00" stroke="#56b4e9" stroke-width="0.85" fill="none"/>
<path d="M369.8 286.0l1.75 2.70h-3.50z" fill="#e69f00"/>
<path d="M369.1 287.1h3.00m-1.50 -1.50v3.00" stroke="#56b4e9" stroke-width="0.85" fill="none"/>
<path d="M370.1 275.1a1.40 1.40 0 1 0 2.80 0a1.40 1.40 0 1 0 -2.80 0M371.6 299.4a1.40 1.40 0 1 0 2.80 0a1.40 1.40 0 1 0 -2.80 0" fill="#009e73"/>
<path d="M372.4 302.9h3.00m-1.50 -1.50v3.00" stroke="#56b4e9" stroke-width="0.85" fill="none"/>
<path d="M374.7 263.8l1.75 2.70h-3.50zM376.2 277.4l1.75 2.70h-3.50z" fill="#e69f00"/>
<path d="M375.7 282.0a1.40 1.40 0 1 0 2.80 0a1.40 1.40 0 1 0 -2.80 0" fill="#009e73"/>
<path d="M377.9 279.0l1.30 1.75 -1.30 1.75 -1.30 -1.75z" fill="#f0e442"/>
<path d="M378.0 304.7a1.40 1.40 0 1 0 2.80 0a1.40 1.40 0 1 0 -2.80 0" fill="#009e73"/>
<path d="M380.3 278.4l1.30 1.75 -1.30 1.75 -1.30 -1.75z" fill="#f0e442"/>
<path d="M381.2 264.6l1.75 2.70h-3.50zM382.6 269.3l1.75 2.70h-3.50z" fill="#e69f00"/>
<path d="M382.0 275.8h3.00m-1.50 -1.50v3.00" stroke="#56b4e9" stroke-width="0.85" fill="none"/>
<path d="M383.0 267.3a1.40 1.40 0 1 0 2.80 0a1.40 1.40 0 1 0 -2.80 0" fill="#009e73"/>
<path d="M385.9 275.5l1.75 2.70h-3.50z" fill="#e69f00"/>
<path d="M385.2 274.1h3.00m-1.50 -1.50v3.00" stroke="#56b4e9" stroke-width="0.85" fill="none"/>
<path d="M386.2 265.1a1.40 1.40 0 1 0 2.80 0a1.40 1.40 0 1 0 -2.80 0" fill="#009e73"/>
<path d="M389.1 278.3l1.75 2.70h-3.50z" fill="#e69f00"/>
<path d="M388.4 283.5h3.00m-1.50 -1.50v3.00" stroke="#56b4e9" stroke-width="0.85" fill="none"/>
<path d="M389.4 273.3a1.40 1.40 0 1 0 2.80 0a1.40 1.40 0 1 0 -2.80 0" fill="#009e73"/>
<path d="M392.3 278.8l1.75 2.70h-3.50z" fill="#e69f00"/>
<path d="M391.8 275.5a1.40 1.40 0 1 0 2.80 0a1.40 1.40 0 1 0 -2.80 0" fill="#009e73"/>
<path d="M394.0 275.2l1.30 1.75 -1.30 1.75 -1.30 -1.75z" fill="#f0e442"/>
<path d="M395.5 272.9l1.75 2.70h-3.50z" fill="#e69f00"/>
<path d="M395.0 287.2a1.40 1.40 0 1 0 2.80 0a1.40 1.40 0 1 0 -2.80 0" fill="#009e73"/>
<path d="M397.2 276.3l1.30 1.75 -1.30 1.75 -1.30 -1.75z" fill="#f0e442"/>
<path d="M397.3 262.7a1.40 1.40 0 1 0 2.80 0a1.40 1.40 0 1 0 -2.80 0" fill="#009e73"/>
<path d="M399.6 277.8l1.75 2.70h-3.50z" fill="#e69f00"/>
<path d="M398.9 290.7h3.00m-1.50 -1.50v3.00M400.4 290.4h3.00m-1.50 -1.50v3.00" stroke="#56b4e9" stroke-width="0.85" fill="none"/>
<path d="M401.4 290.4a1.40 1.40 0 1 0 2.80 0a1.40 1.40 0 1 0 -2.80 0" fill="#009e73"/>
<path d="M403.7 271.7l1.30 1.75 -1.30 1.75 -1.30 -1.75z" fill="#f0e442"/>
<path d="M403.6 281.0h3.00m-1.50 -1.50v3.00" stroke="#56b4e9" stroke-width="0.85" fill="none"/>
<path d="M404.6 265.3a1.40 1.40 0 1 0 2.80 0a1.40 1.40 0 1 0 -2.80 0" fill="#009e73"/>
<path d="M406.9 281.1l1.30 1.75 -1.30 1.75 -1.30 -1.75z" fill="#f0e442"/>
<path d="M408.4 285.7l1.75 2.70h-3.50z" fill="#e69f00"/>
<path d="M407.7 272.7h3.00m-1.50 -1.50v3.00" stroke="#56b4e9" stroke-width="0.85" fill="none"/>
<path d="M410.1 270.9l1.30 1.75 -1.30 1.75 -1.30 -1.75z" fill="#f0e442"/>
<path d="M411.6 282.2l1.75 2.70h-3.50z" fill="#e69f00"/>
<path d="M410.9 280.5h3.00m-1.50 -1.50v3.00" stroke="#56b4e9" stroke-width="0.85" fill="none"/>
<path d="M411.9 281.2a1.40 1.40 0 1 0 2.80 0a1.40 1.40 0 1 0 -2.80 0M413.4 302.1a1.40 1.40 0 1 0 2.80 0a1.40 1.40 0 1 0 -2.80 0" fill="#009e73"/>
<path d="M414.2 297.7h3.00m-1.50 -1.50v3.00" stroke="#56b4e9" stroke-width="0.85" fill="none"/>
<path d="M416.5 278.4l1.30 1.75 -1.30 1.75 -1.30 -1.75z" fill="#f0e442"/>
<path d="M416.6 302.9a1.40 1.40 0 1 0 2.80 0a1.40 1.40 0 1 0 -2.80 0" fill="#009e73"/>
<path d="M418.9 276.0l1.75 2.70h-3.50z" fill="#e69f00"/>
<path d="M418.2 281.1h3.00m-1.50 -1.50v3.00" stroke="#56b4e9" stroke-width="0.85" fill="none"/>
<path d="M421.2 276.9l1.75 2.70h-3.50z" fill="#e69f00"/>
<path d="M420.6 276.9h3.00m-1.50 -1.50v3.00" stroke="#56b4e9" stroke-width="0.85" fill="none"/>
<path d="M423.0 285.2l1.30 1.75 -1.30 1.75 -1.30 -1.75z" fill="#f0e442"/>
<path d="M422.9 306.4h3.00m-1.50 -1.50v3.00" stroke="#56b4e9" stroke-width="0.85" fill="none"/>
<path d="M425.3 273.4l1.75 2.70h-3.50z" fill="#e69f00"/>
<path d="M424.8 286.3a1.40 1.40 0 1 0 2.80 0a1.40 1.40 0 1 0 -2.80 0" fill="#009e73"/>
<path d="M427.6 276.2l1.75 2.70h-3.50z" fill="#e69f00"/>
<path d="M427.1 289.9a1.40 1.40 0 1 0 2.80 0a1.40 1.40 0 1 0 -2.80 0" fill="#009e73"/>
<path d="M429.4 278.2l1.30 1.75 -1.30 1.75 -1.30 -1.75z" fill="#f0e442"/>
<path d="M430.9 271.0l1.75 2.70h-3.50z" fill="#e69f00"/>
<path d="M430.2 283.3h3.00m-1.50 -1.50v3.00" stroke="#56b4e9" stroke-width="0.85" fill="none"/>
<path d="M432.6 282.3l1.30 1.75 -1.30 1.75 -1.30 -1.75z" fill="#f0e442"/>
<path d="M434.1 283.6l1.75 2.70h-3.50z" fill="#e69f00"/>
<path d="M433.5 278.3a1.40 1.40 0 1 0 2.80 0a1.40 1.40 0 1 0 -2.80 0" fill="#009e73"/>
<path d="M435.8 273.7l1.30 1.75 -1.30 1.75 -1.30 -1.75z" fill="#f0e442"/>
<path d="M437.3 290.4l1.75 2.70h-3.50z" fill="#e69f00"/>
<path d="M436.7 276.6h3.00m-1.50 -1.50v3.00" stroke="#56b4e9" stroke-width="0.85" fill="none"/>
<path d="M439.0 257.4l1.30 1.75 -1.30 1.75 -1.30 -1.75z" fill="#f0e442"/>
<path d="M440.5 277.5l1.75 2.70h-3.50z" fill="#e69f00"/>
<path d="M439.9 278.2h3.00m-1.50 -1.50v3.00" stroke="#56b4e9" stroke-width="0.85" fill="none"/>
<path d="M442.2 273.7l1.30 1.75 -1.30 1.75 -1.30 -1.75z" fill="#f0e442"/>
<path d="M443.7 270.8l1.75 2.70h-3.50z" fill="#e69f00"/>
<path d="M443.1 283.3h3.00m-1.50 -1.50v3.00" stroke="#56b4e9" stroke-width="0.85" fill="none"/>
<path d="M444.1 283.9a1.40 1.40 0 1 0 2.80 0a1.40 1.40 0 1 0 -2.80 0" fill="#009e73"/>
<path d="M445.4 264.3h3.00m-1.50 -1.50v3.00" stroke="#56b4e9" stroke-width="0.85" fill="none"/>
<path d="M446.4 282.0a1.40 1.40 0 1 0 2.80 0a1.40 1.40 0 1 0 -2.80 0" fill="#009e73"/>
<path d="M448.7 284.6l1.30 1.75 -1.30 1.75 -1.30 -1.75z" fill="#f0e442"/>
<path d="M450.2 289.9l1.75 2.70h-3.50z" fill="#e69f00"/>
<path d="M449.5 289.9h3.00m-1.50 -1.50v3.00" stroke="#56b4e9" stroke-width="0.85" fill="none"/>
<path d="M450.5 280.2a1.40 1.40 0 1 0 2.80 0a1.40 1.40 0 1 0 -2.80 0" fill="#009e73"/>
<path d="M453.4 257.4l1.30 1.75 -1.30 1.75 -1.30 -1.75z" fill="#f0e442"/>
<path d="M452.8 270.6a1.40 1.40 0 1 0 2.80 0a1.40 1.40 0 1 0 -2.80 0" fill="#009e73"/>
<path d="M453.6 288.1h3.00m-1.50 -1.50v3.00" stroke="#56b4e9" stroke-width="0.85" fill="none"/>
<path d="M456.6 260.1l1.30 1.75 -1.30 1.75 -1.30 -1.75z" fill="#f0e442"/>
<path d="M457.4 268.1l1.75 2.70h-3.50z" fill="#e69f00"/>
<path d="M456.9 286.3a1.40 1.40 0 1 0 2.80 0a1.40 1.40 0 1 0 -2.80 0" fill="#009e73"/>
<path d="M459.8 271.7l1.75 2.70h-3.50z" fill="#e69f00"/>
<path d="M459.3 282.3a1.40 1.40 0 1 0 2.80 0a1.40 1.40 0 1 0 -2.80 0" fill="#009e73"/>
<path d="M461.5 278.1l1.30 1.75 -1.30 1.75 -1.30 -1.75z" fill="#f0e442"/>
<path d="M461.6 306.4a1.40 1.40 0 1 0 2.80 0a1.40 1.40 0 1 0 -2.80 0" fill="#009e73"/>
<path d="M463.9 270.8l1.75 2.70h-3.50z" fill="#e69f00"/>
<path d="M463.2 280.2h3.00m-1.50 -1.50v3.00" stroke="#56b4e9" stroke-width="0.85" fill="none"/>
<path d="M466.2 263.3l1.75 2.70h-3.50z" fill="#e69f00"/>
<path d="M465.6 269.2h3.00m-1.50 -1.50v3.00" stroke="#56b4e9" stroke-width="0.85" fill="none"/>
<path d="M468.0 275.2l1.30 1.75 -1.30 1.75 -1.30 -1.75z" fill="#f0e442"/>
<path d="M467.9 292.6h3.00m-1.50 -1.50v3.00" stroke="#56b4e9" stroke-width="0.85" fill="none"/>
<path d="M468.9 274.2a1.40 1.40 0 1 0 2.80 0a1.40 1.40 0 1 0 -2.80 0" fill="#009e73"/>
<path d="M471.2 280.7l1.30 1.75 -1.30 1.75 -1.30 -1.75z" fill="#f0e442"/>
<path d="M471.2 290.3h3.00m-1.50 -1.50v3.00" stroke="#56b4e9" stroke-width="0.85" fill="none"/>
<path d="M472.1 272.1a1.40 1.40 0 1 0 2.80 0a1.40 1.40 0 1 0 -2.80 0" fill="#009e73"/>
<path d="M474.4 276.8l1.30 1.75 -1.30 1.75 -1.30 -1.75z" fill="#f0e442"/>
<path d="M474.4 276.5h3.00m-1.50 -1.50v3.00" stroke="#56b4e9" stroke-width="0.85" fill="none"/>
<path d="M475.3 289.5a1.40 1.40 0 1 0 2.80 0a1.40 1.40 0 1 0 -2.80 0" fill="#009e73"/>
<path d="M477.6 277.6l1.30 1.75 -1.30 1.75 -1.30 -1.75z" fill="#f0e442"/>
<path d="M479.1 284.8l1.75 2.70h-3.50z" fill="#e69f00"/>
<path d="M478.6 273.5a1.40 1.40 0 1 0 2.80 0a1.40 1.40 0 1 0 -2.80 0" fill="#009e73"/>
<path d="M480.8 270.7l1.30 1.75 -1.30 1.75 -1.30 -1.75z" fill="#f0e442"/>
<path d="M482.3 291.1l1.75 2.70h-3.50z" fill="#e69f00"/>
<path d="M481.7 283.7h3.00m-1.50 -1.50v3.00" stroke="#56b4e9" stroke-width="0.85" fill="none"/>
<path d="M484.0 285.4l1.30 1.75 -1.30 1.75 -1.30 -1.75z" fill="#f0e442"/>
<path d="M484.0 280.6h3.00m-1.50 -1.50v3.00" stroke="#56b4e9" stroke-width="0.85" fill="none"/>
<path d="M485.0 289.0a1.40 1.40 0 1 0 2.80 0a1.40 1.40 0 1 0 -2.80 0" fill="#009e73"/>
<path d="M487.3 272.5l1.30 1.75 -1.30 1.75 -1.30 -1.75z" fill="#f0e442"/>
<path d="M488.7 269.3l1.75 2.70h-3.50z" fill="#e69f00"/>
<path d="M488.1 282.9h3.00m-1.50 -1.50v3.00" stroke="#56b4e9" stroke-width="0.85" fill="none"/>
<path d="M490.5 289.0l1.30 1.75 -1.30 1.75 -1.30 -1.75z" fill="#f0e442"/>
<path d="M490.4 288.1h3.00m-1.50 -1.50v3.00" stroke="#56b4e9" stroke-width="0.85" fill="none"/>
<path d="M491.4 294.5a1.40 1.40 0 1 0 2.80 0a1.40 1.40 0 1 0 -2.80 0" fill="#009e73"/>
<path d="M493.7 294.5l1.30 1.75 -1.30 1.75 -1.30 -1.75z" fill="#f0e442"/>
<path d="M495.2 262.5l1.75 2.70h-3.50z" fill="#e69f00"/>
<path d="M494.5 272.6h3.00m-1.50 -1.50v3.00" stroke="#56b4e9" stroke-width="0.85" fill="none"/>
<path d="M496.9 262.0l1.30 1.75 -1.30 1.75 -1.30 -1.75z" fill="#f0e442"/>
<path d="M496.9 299.5h3.00m-1.50 -1.50v3.00" stroke="#56b4e9" stroke-width="0.85" fill="none"/>
<path d="M497.8 293.6a1.40 1.40 0 1 0 2.80 0a1.40 1.40 0 1 0 -2.80 0" fill="#009e73"/>
<path d="M500.1 277.3l1.30 1.75 -1.30 1.75 -1.30 -1.75z" fill="#f0e442"/>
<path d="M501.6 279.2l1.75 2.70h-3.50z" fill="#e69f00"/>
<path d="M501.0 277.2h3.00m-1.50 -1.50v3.00" stroke="#56b4e9" stroke-width="0.85" fill="none"/>
<path d="M501.9 281.9a1.40 1.40 0 1 0 2.80 0a1.40 1.40 0 1 0 -2.80 0M503.4 262.7a1.40 1.40 0 1 0 2.80 0a1.40 1.40 0 1 0 -2.80 0" fill="#009e73"/>
<path d="M505.7 283.0l1.75 2.70h-3.50z" fill="#e69f00"/>
<path d="M506.5 274.1l1.30 1.75 -1.30 1.75 -1.30 -1.75z" fill="#f0e442"/>
<path d="M508.0 274.7l1.75 2.70h-3.50z" fill="#e69f00"/>
<path d="M507.4 293.6h3.00m-1.50 -1.50v3.00" stroke="#56b4e9" stroke-width="0.85" fill="none"/>
<path d="M509.8 276.1l1.30 1.75 -1.30 1.75 -1.30 -1.75z" fill="#f0e442"/>
<path d="M509.7 279.3h3.00m-1.50 -1.50v3.00" stroke="#56b4e9" stroke-width="0.85" fill="none"/>
<path d="M510.7 303.6a1.40 1.40 0 1 0 2.80 0a1.40 1.40 0 1 0 -2.80 0" fill="#009e73"/>
<path d="M513.0 274.9l1.30 1.75 -1.30 1.75 -1.30 -1.75z" fill="#f0e442"/>
<path d="M514.5 274.9l1.75 2.70h-3.50z" fill="#e69f00"/>
<path d="M513.8 262.6h3.00m-1.50 -1.50v3.00" stroke="#56b4e9" stroke-width="0.85" fill="none"/>
<path d="M516.2 260.0l1.30 1.75 -1.30 1.75 -1.30 -1.75z" fill="#f0e442"/>
<path d="M517.7 287.1l1.75 2.70h-3.50z" fill="#e69f00"/>
<path d="M517.0 282.8h3.00m-1.50 -1.50v3.00" stroke="#56b4e9" stroke-width="0.85" fill="none"/>
<path d="M518.0 296.9a1.40 1.40 0 1 0 2.80 0a1.40 1.40 0 1 0 -2.80 0" fill="#009e73"/>
<path d="M520.9 269.6l1.75 2.70h-3.50z" fill="#e69f00"/>
<path d="M520.4 281.8a1.40 1.40 0 1 0 2.80 0a1.40 1.40 0 1 0 -2.80 0" fill="#009e73"/>
<path d="M522.6 280.1l1.30 1.75 -1.30 1.75 -1.30 -1.75z" fill="#f0e442"/>
<path d="M524.1 277.4l1.75 2.70h-3.50z" fill="#e69f00"/>
<path d="M523.6 267.4a1.40 1.40 0 1 0 2.80 0a1.40 1.40 0 1 0 -2.80 0" fill="#009e73"/>
<path d="M525.8 281.0l1.30 1.75 -1.30 1.75 -1.30 -1.75z" fill="#f0e442"/>
<path d="M527.3 275.7l1.75 2.70h-3.50z" fill="#e69f00"/>
<path d="M526.7 282.3h3.00m-1.50 -1.50v3.00" stroke="#56b4e9" stroke-width="0.85" fill="none"/>
<path d="M529.0 264.8l1.30 1.75 -1.30 1.75 -1.30 -1.75z" fill="#f0e442"/>
<path d="M530.5 274.7l1.75 2.70h-3.50z" fill="#e69f00"/>
<path d="M529.9 285.6h3.00m-1.50 -1.50v3.00" stroke="#56b4e9" stroke-width="0.85" fill="none"/>
<path d="M532.3 286.6l1.30 1.75 -1.30 1.75 -1.30 -1.75z" fill="#f0e442"/>
<path d="M533.7 284.6l1.75 2.70h-3.50z" fill="#e69f00"/>
<path d="M533.1 284.0h3.00m-1.50 -1.50v3.00" stroke="#56b4e9" stroke-width="0.85" fill="none"/>
<path d="M535.5 282.6l1.30 1.75 -1.30 1.75 -1.30 -1.75z" fill="#f0e442"/>
<path d="M537.0 278.5l1.75 2.70h-3.50z" fill="#e69f00"/>
<path d="M536.3 276.9h3.00m-1.50 -1.50v3.00" stroke="#56b4e9" stroke-width="0.85" fill="none"/>
<path d="M538.7 283.6l1.30 1.75 -1.30 1.75 -1.30 -1.75z" fill="#f0e442"/>
<path d="M538.7 279.9h3.00m-1.50 -1.50v3.00" stroke="#56b4e9" stroke-width="0.85" fill="none"/>
<path d="M539.6 279.8a1.40 1.40 0 1 0 2.80 0a1.40 1.40 0 1 0 -2.80 0" fill="#009e73"/>
<path d="M541.9 286.7l1.30 1.75 -1.30 1.75 -1.30 -1.75z" fill="#f0e442"/>
<path d="M543.4 271.9l1.75 2.70h-3.50z" fill="#e69f00"/>
<path d="M542.9 283.3a1.40 1.40 0 1 0 2.80 0a1.40 1.40 0 1 0 -2.80 0" fill="#009e73"/>
<path d="M545.1 281.8l1.30 1.75 -1.30 1.75 -1.30 -1.75z" fill="#f0e442"/>
<path d="M546.6 269.7l1.75 2.70h-3.50z" fill="#e69f00"/>
<path d="M546.0 297.6h3.00m-1.50 -1.50v3.00" stroke="#56b4e9" stroke-width="0.85" fill="none"/>
<path d="M548.3 276.9l1.30 1.75 -1.30 1.75 -1.30 -1.75z" fill="#f0e442"/>
<path d="M548.3 290.5h3.00m-1.50 -1.50v3.00" stroke="#56b4e9" stroke-width="0.85" fill="none"/>
<path d="M549.3 273.0a1.40 1.40 0 1 0 2.80 0a1.40 1.40 0 1 0 -2.80 0" fill="#009e73"/>
<path d="M551.6 276.1l1.30 1.75 -1.30 1.75 -1.30 -1.75z" fill="#f0e442"/>
<path d="M553.0 287.0l1.75 2.70h-3.50z" fill="#e69f00"/>
<path d="M552.4 285.6h3.00m-1.50 -1.50v3.00" stroke="#56b4e9" stroke-width="0.85" fill="none"/>
<path d="M553.4 283.5a1.40 1.40 0 1 0 2.80 0a1.40 1.40 0 1 0 -2.80 0" fill="#009e73"/>
<path d="M556.2 273.6l1.75 2.70h-3.50z" fill="#e69f00"/>
<path d="M555.7 287.6a1.40 1.40 0 1 0 2.80 0a1.40 1.40 0 1 0 -2.80 0" fill="#009e73"/>
<path d="M558.0 271.1l1.30 1.75 -1.30 1.75 -1.30 -1.75z" fill="#f0e442"/>
<path d="M559.5 289.6l1.75 2.70h-3.50z" fill="#e69f00"/>
<path d="M558.8 281.1h3.00m-1.50 -1.50v3.00" stroke="#56b4e9" stroke-width="0.85" fill="none"/>
<path d="M561.2 292.3l1.30 1.75 -1.30 1.75 -1.30 -1.75z" fill="#f0e442"/>
<path d="M562.7 262.2l1.75 2.70h-3.50z" fill="#e69f00"/>
<path d="M562.1 267.5a1.40 1.40 0 1 0 2.80 0a1.40 1.40 0 1 0 -2.80 0" fill="#009e73"/>
<path d="M564.4 278.3l1.30 1.75 -1.30 1.75 -1.30 -1.75z" fill="#f0e442"/>
<path d="M565.9 260.0l1.75 2.70h-3.50z" fill="#e69f00"/>
<path d="M565.3 283.3h3.00m-1.50 -1.50v3.00" stroke="#56b4e9" stroke-width="0.85" fill="none"/>
<path d="M567.6 281.8l1.30 1.75 -1.30 1.75 -1.30 -1.75z" fill="#f0e442"/>
<path d="M569.1 277.0l1.75 2.70h-3.50z" fill="#e69f00"/>
<path d="M568.6 285.4a1.40 1.40 0 1 0 2.80 0a1.40 1.40 0 1 0 -2.80 0" fill="#009e73"/>
<path d="M570.8 258.5l1.30 1.75 -1.30 1.75 -1.30 -1.75z" fill="#f0e442"/>
<path d="M570.8 303.8h3.00m-1.50 -1.50v3.00" stroke="#56b4e9" stroke-width="0.85" fill="none"/>
<path d="M573.2 276.0l1.75 2.70h-3.50z" fill="#e69f00"/>
<path d="M572.7 287.2a1.40 1.40 0 1 0 2.80 0a1.40 1.40 0 1 0 -2.80 0" fill="#009e73"/>
<path d="M575.5 277.9l1.75 2.70h-3.50z" fill="#e69f00"/>
<path d="M575.0 292.6a1.40 1.40 0 1 0 2.80 0a1.40 1.40 0 1 0 -2.80 0" fill="#009e73"/>
<path d="M577.3 269.0l1.30 1.75 -1.30 1.75 -1.30 -1.75z" fill="#f0e442"/>
<path d="M578.8 278.8l1.75 2.70h-3.50z" fill="#e69f00"/>
<path d="M578.2 289.6a1.40 1.40 0 1 0 2.80 0a1.40 1.40 0 1 0 -2.80 0" fill="#009e73"/>
<path d="M580.5 277.0l1.30 1.75 -1.30 1.75 -1.30 -1.75z" fill="#f0e442"/>
<path d="M582.0 267.5l1.75 2.70h-3.50z" fill="#e69f00"/>
<path d="M581.3 295.4h3.00m-1.50 -1.50v3.00" stroke="#56b4e9" stroke-width="0.85" fill="none"/>
<path d="M582.3 283.5a1.40 1.40 0 1 0 2.80 0a1.40 1.40 0 1 0 -2.80 0" fill="#009e73"/>
<path d="M585.2 280.9l1.75 2.70h-3.50z" fill="#e69f00"/>
<path d="M584.5 266.5h3.00m-1.50 -1.50v3.00" stroke="#56b4e9" stroke-width="0.85" fill="none"/>
<path d="M586.9 284.5l1.30 1.75 -1.30 1.75 -1.30 -1.75z" fill="#f0e442"/>
<path d="M586.9 277.7h3.00m-1.50 -1.50v3.00" stroke="#56b4e9" stroke-width="0.85" fill="none"/>
<path d="M587.9 269.0a1.40 1.40 0 1 0 2.80 0a1.40 1.40 0 1 0 -2.80 0" fill="#009e73"/>
<path d="M590.1 293.9l1.30 1.75 -1.30 1.75 -1.30 -1.75z" fill="#f0e442"/>
<path d="M591.6 279.2l1.75 2.70h-3.50z" fill="#e69f00"/>
<path d="M591.0 276.9h3.00m-1.50 -1.50v3.00" stroke="#56b4e9" stroke-width="0.85" fill="none"/>
<path d="M593.3 287.5l1.30 1.75 -1.30 1.75 -1.30 -1.75z" fill="#f0e442"/>
<path d="M593.4 302.1a1.40 1.40 0 1 0 2.80 0a1.40 1.40 0 1 0 -2.80 0" fill="#009e73"/>
<path d="M595.7 299.4l1.30 1.75 -1.30 1.75 -1.30 -1.75z" fill="#f0e442"/>
<path d="M595.1 267.1h3.00m-1.50 -1.50v3.00" stroke="#56b4e9" stroke-width="0.85" fill="none"/>
<path d="M598.0 281.3l1.75 2.70h-3.50z" fill="#e69f00"/>
<path d="M597.4 273.3h3.00m-1.50 -1.50v3.00" stroke="#56b4e9" stroke-width="0.85" fill="none"/>
<path d="M599.8 276.5l1.30 1.75 -1.30 1.75 -1.30 -1.75z" fill="#f0e442"/>
<path d="M599.8 273.8h3.00m-1.50 -1.50v3.00" stroke="#56b4e9" stroke-width="0.85" fill="none"/>
<path d="M600.7 270.3a1.40 1.40 0 1 0 2.80 0a1.40 1.40 0 1 0 -2.80 0" fill="#009e73"/>
<path d="M603.0 288.5l1.30 1.75 -1.30 1.75 -1.30 -1.75z" fill="#f0e442"/>
<path d="M604.5 284.4l1.75 2.70h-3.50z" fill="#e69f00"/>
<path d="M603.9 277.2a1.40 1.40 0 1 0 2.80 0a1.40 1.40 0 1 0 -2.80 0" fill="#009e73"/>
<path d="M606.2 273.7l1.30 1.75 -1.30 1.75 -1.30 -1.75z" fill="#f0e442"/>
<path d="M607.7 288.8l1.75 2.70h-3.50z" fill="#e69f00"/>
<path d="M607.1 285.6h3.00m-1.50 -1.50v3.00" stroke="#56b4e9" stroke-width="0.85" fill="none"/>
<path d="M609.4 268.9l1.30 1.75 -1.30 1.75 -1.30 -1.75z" fill="#f0e442"/>
<path d="M610.9 276.2l1.75 2.70h-3.50z" fill="#e69f00"/>
<path d="M610.3 289.4h3.00m-1.50 -1.50v3.00" stroke="#56b4e9" stroke-width="0.85" fill="none"/>
<path d="M611.2 277.8a1.40 1.40 0 1 0 2.80 0a1.40 1.40 0 1 0 -2.80 0" fill="#009e73"/>
<path d="M614.1 287.0l1.75 2.70h-3.50z" fill="#e69f00"/>
<path d="M613.5 290.7h3.00m-1.50 -1.50v3.00" stroke="#56b4e9" stroke-width="0.85" fill="none"/>
<path d="M615.9 268.9l1.30 1.75 -1.30 1.75 -1.30 -1.75z" fill="#f0e442"/>
<path d="M617.3 270.1l1.75 2.70h-3.50z" fill="#e69f00"/>
<path d="M616.7 276.0h3.00m-1.50 -1.50v3.00" stroke="#56b4e9" stroke-width="0.85" fill="none"/>
<path d="M619.1 280.9l1.30 1.75 -1.30 1.75 -1.30 -1.75z" fill="#f0e442"/>
<path d="M620.5 277.9l1.75 2.70h-3.50z" fill="#e69f00"/>
<path d="M619.9 289.7h3.00m-1.50 -1.50v3.00" stroke="#56b4e9" stroke-width="0.85" fill="none"/>
<path d="M622.3 276.1l1.30 1.75 -1.30 1.75 -1.30 -1.75z" fill="#f0e442"/>
<path d="M622.3 283.7h3.00m-1.50 -1.50v3.00" stroke="#56b4e9" stroke-width="0.85" fill="none"/>
<path d="M623.2 283.6a1.40 1.40 0 1 0 2.80 0a1.40 1.40 0 1 0 -2.80 0" fill="#009e73"/>
<path d="M625.5 277.7l1.30 1.75 -1.30 1.75 -1.30 -1.75z" fill="#f0e442"/>
<path d="M625.5 277.0h3.00m-1.50 -1.50v3.00" stroke="#56b4e9" stroke-width="0.85" fill="none"/>
<path d="M626.4 274.4a1.40 1.40 0 1 0 2.80 0a1.40 1.40 0 1 0 -2.80 0" fill="#009e73"/>
<path d="M628.7 267.7l1.30 1.75 -1.30 1.75 -1.30 -1.75z" fill="#f0e442"/>
<path d="M630.2 279.3l1.75 2.70h-3.50z" fill="#e69f00"/>
<path d="M629.7 304.2a1.40 1.40 0 1 0 2.80 0a1.40 1.40 0 1 0 -2.80 0" fill="#009e73"/>
<path d="M631.9 289.1l1.30 1.75 -1.30 1.75 -1.30 -1.75z" fill="#f0e442"/>
<path d="M633.4 280.3l1.75 2.70h-3.50z" fill="#e69f00"/>
<path d="M632.8 283.6h3.00m-1.50 -1.50v3.00" stroke="#56b4e9" stroke-width="0.85" fill="none"/>
<path d="M635.1 283.6l1.30 1.75 -1.30 1.75 -1.30 -1.75z" fill="#f0e442"/>
<path d="M636.6 281.2l1.75 2.70h-3.50z" fill="#e69f00"/>
<path d="M636.0 277.5h3.00m-1.50 -1.50v3.00" stroke="#56b4e9" stroke-width="0.85" fill="none"/>
<path d="M637.0 286.0a1.40 1.40 0 1 0 2.80 0a1.40 1.40 0 1 0 -2.80 0" fill="#009e73"/>
<path d="M639.8 282.3l1.75 2.70h-3.50z" fill="#e69f00"/>
<path d="M639.2 287.3h3.00m-1.50 -1.50v3.00" stroke="#56b4e9" stroke-width="0.85" fill="none"/>
<path d="M641.6 281.7l1.30 1.75 -1.30 1.75 -1.30 -1.75z" fill="#f0e442"/>
<path d="M643.1 268.5l1.75 2.70h-3.50z" fill="#e69f00"/>
<path d="M642.5 283.8a1.40 1.40 0 1 0 2.80 0a1.40 1.40 0 1 0 -2.80 0" fill="#009e73"/>
<path d="M644.8 279.8l1.30 1.75 -1.30 1.75 -1.30 -1.75z" fill="#f0e442"/>
<path d="M646.3 285.3l1.75 2.70h-3.50z" fill="#e69f00"/>
<path d="M645.6 285.9h3.00m-1.50 -1.50v3.00" stroke="#56b4e9" stroke-width="0.85" fill="none"/>
<path d="M646.6 282.3a1.40 1.40 0 1 0 2.80 0a1.40 1.40 0 1 0 -2.80 0" fill="#009e73"/>
<path d="M649.5 282.5l1.75 2.70h-3.50z" fill="#e69f00"/>
<path d="M648.8 284.6h3.00m-1.50 -1.50v3.00" stroke="#56b4e9" stroke-width="0.85" fill="none"/>
<path d="M651.2 277.5l1.30 1.75 -1.30 1.75 -1.30 -1.75z" fill="#f0e442"/>
<path d="M652.7 285.6l1.75 2.70h-3.50z" fill="#e69f00"/>
<path d="M652.1 283.5h3.00m-1.50 -1.50v3.00" stroke="#56b4e9" stroke-width="0.85" fill="none"/>
<path d="M654.4 261.8l1.30 1.75 -1.30 1.75 -1.30 -1.75z" fill="#f0e442"/>
<path d="M655.9 280.8l1.75 2.70h-3.50z" fill="#e69f00"/>
<path d="M655.3 276.0h3.00m-1.50 -1.50v3.00" stroke="#56b4e9" stroke-width="0.85" fill="none"/>
<path d="M656.2 288.6a1.40 1.40 0 1 0 2.80 0a1.40 1.40 0 1 0 -2.80 0" fill="#009e73"/>
<path d="M659.1 300.5l1.75 2.70h-3.50z" fill="#e69f00"/>
<path d="M658.6 285.4a1.40 1.40 0 1 0 2.80 0a1.40 1.40 0 1 0 -2.80 0" fill="#009e73"/>
<path d="M659.4 273.2h3.00m-1.50 -1.50v3.00" stroke="#56b4e9" stroke-width="0.85" fill="none"/>
<path d="M662.3 286.9l1.75 2.70h-3.50z" fill="#e69f00"/>
<path d="M661.7 277.9h3.00m-1.50 -1.50v3.00" stroke="#56b4e9" stroke-width="0.85" fill="none"/>
<path d="M664.1 282.2l1.30 1.75 -1.30 1.75 -1.30 -1.75z" fill="#f0e442"/>
<path d="M665.6 279.7l1.75 2.70h-3.50z" fill="#e69f00"/>
<path d="M664.9 276.2h3.00m-1.50 -1.50v3.00" stroke="#56b4e9" stroke-width="0.85" fill="none"/>
<path d="M665.9 267.5a1.40 1.40 0 1 0 2.80 0a1.40 1.40 0 1 0 -2.80 0" fill="#009e73"/>
<path d="M668.8 275.9l1.75 2.70h-3.50z" fill="#e69f00"/>
<path d="M668.1 286.2h3.00m-1.50 -1.50v3.00" stroke="#56b4e9" stroke-width="0.85" fill="none"/>
<path d="M670.5 267.5l1.30 1.75 -1.30 1.75 -1.30 -1.75z" fill="#f0e442"/>
<path d="M672.0 279.0l1.75 2.70h-3.50z" fill="#e69f00"/>
<path d="M671.5 276.8a1.40 1.40 0 1 0 2.80 0a1.40 1.40 0 1 0 -2.80 0" fill="#009e73"/>
<path d="M673.7 273.3l1.30 1.75 -1.30 1.75 -1.30 -1.75z" fill="#f0e442"/>
<path d="M675.2 272.8l1.75 2.70h-3.50z" fill="#e69f00"/>
<path d="M674.7 275.1a1.40 1.40 0 1 0 2.80 0a1.40 1.40 0 1 0 -2.80 0" fill="#009e73"/>
<path d="M676.9 275.9l1.30 1.75 -1.30 1.75 -1.30 -1.75z" fill="#f0e442"/>
<path d="M678.4 266.6l1.75 2.70h-3.50z" fill="#e69f00"/>
<path d="M677.8 285.6h3.00m-1.50 -1.50v3.00" stroke="#56b4e9" stroke-width="0.85" fill="none"/>
<path d="M678.8 284.2a1.40 1.40 0 1 0 2.80 0a1.40 1.40 0 1 0 -2.80 0" fill="#009e73"/>
<path d="M361.0 341.1V336.7M361.9 341.1V331.0M363.3 341.1V321.5M364.2 341.1V331.7M365.1 341.1V341.5M367.4 341.1V344.2M368.3 341.1V332.3M370.6 341.1V327.2M371.5 341.1V347.4M373.9 341.1V329.1M374.7 341.1V339.2M376.2 341.1V339.0M377.1 341.1V340.7M377.9 341.1V347.7M379.4 341.1V342.5M380.3 341.1V345.7M381.2 341.1V334.2M383.5 341.1V344.9M384.4 341.1V338.6M385.9 341.1V336.5M386.7 341.1V344.5M387.6 341.1V340.6M389.1 341.1V332.3M389.9 341.1V342.8M390.8 341.1V342.0M394.0 341.1V329.8M395.5 341.1V348.2M396.4 341.1V343.0M397.2 341.1V327.5M399.6 341.1V332.3M400.4 341.1V343.6M402.8 341.1V336.1M403.7 341.1V332.9M405.1 341.1V345.2M406.0 341.1V343.9M406.9 341.1V338.6M408.4 341.1V343.9M409.2 341.1V344.7M410.1 341.1V328.6M411.6 341.1V336.9M412.4 341.1V338.1M413.3 341.1V336.7M414.8 341.1V346.1M415.7 341.1V338.0M416.5 341.1V341.2M418.9 341.1V337.3M419.7 341.1V351.2M422.1 341.1V337.3M423.0 341.1V349.9M424.4 341.1V334.6M425.3 341.1V331.2M426.2 341.1V344.3M427.6 341.1V332.1M428.5 341.1V342.2M429.4 341.1V336.5M431.7 341.1V350.6M432.6 341.1V336.1M434.1 341.1V334.5M434.9 341.1V352.3M435.8 341.1V344.9M437.3 341.1V347.3M438.2 341.1V343.8M439.0 341.1V336.1M441.4 341.1V336.7M442.2 341.1V348.0M443.7 341.1V342.2M444.6 341.1V336.0M445.5 341.1V335.8M446.9 341.1V340.1M447.8 341.1V340.2M448.7 341.1V333.3M450.2 341.1V340.1M451.0 341.1V344.4M451.9 341.1V348.3M453.4 341.1V337.3M454.2 341.1V336.9M455.1 341.1V334.2M456.6 341.1V333.4M457.4 341.1V339.3M458.3 341.1V336.7M459.8 341.1V351.9M460.7 341.1V346.2M461.5 341.1V332.9M463.9 341.1V338.6M464.7 341.1V335.4M466.2 341.1V348.0M467.1 341.1V337.0M468.0 341.1V334.7M469.4 341.1V330.4M470.3 341.1V344.2M471.2 341.1V334.9M473.5 341.1V343.0M474.4 341.1V335.4M475.9 341.1V353.7M476.7 341.1V342.7M477.6 341.1V342.7M479.1 341.1V353.5M480.0 341.1V339.9M480.8 341.1V357.8M483.2 341.1V345.5M484.0 341.1V338.6M485.5 341.1V342.4M486.4 341.1V344.5M487.3 341.1V346.5M488.7 341.1V342.3M489.6 341.1V335.4M490.5 341.1V334.6M493.7 341.1V339.2M495.2 341.1V329.6M496.0 341.1V347.5M496.9 341.1V333.1M498.4 341.1V338.8M499.2 341.1V336.9M500.1 341.1V337.1M501.6 341.1V337.1M502.5 341.1V355.6M503.3 341.1V337.7M504.8 341.1V348.3M505.7 341.1V330.2M506.5 341.1V337.8M508.0 341.1V343.8M508.9 341.1V339.6M509.8 341.1V340.6M511.2 341.1V340.9M512.1 341.1V330.2M513.0 341.1V345.7M514.5 341.1V338.4M515.3 341.1V341.9M516.2 341.1V345.2M518.5 341.1V336.1M519.4 341.1V344.2M520.9 341.1V332.3M521.8 341.1V336.9M522.6 341.1V334.2M524.1 341.1V339.2M525.0 341.1V332.1M525.8 341.1V331.3M527.3 341.1V333.6M529.0 341.1V338.7M530.5 341.1V337.7M531.4 341.1V340.5M532.3 341.1V339.6M534.6 341.1V329.8M535.5 341.1V346.1M538.7 341.1V335.4M540.2 341.1V342.1M541.0 341.1V348.6M541.9 341.1V333.8M543.4 341.1V331.9M544.3 341.1V332.7M545.1 341.1V334.2M546.6 341.1V338.8M547.5 341.1V339.3M548.3 341.1V346.6M549.8 341.1V336.5M550.7 341.1V350.0M551.6 341.1V341.5M553.0 341.1V337.6M553.9 341.1V339.0M554.8 341.1V333.3M556.2 341.1V340.2M557.1 341.1V339.9M558.0 341.1V341.6M559.5 341.1V346.1M560.3 341.1V332.6M561.2 341.1V328.1M563.5 341.1V346.1M564.4 341.1V331.0M565.9 341.1V344.5M566.8 341.1V350.1M567.6 341.1V344.5M569.1 341.1V337.9M570.0 341.1V336.6M570.8 341.1V336.8M573.2 341.1V336.1M574.1 341.1V349.3M575.5 341.1V343.3M576.4 341.1V346.4M577.3 341.1V344.4M578.8 341.1V342.2M579.6 341.1V340.1M580.5 341.1V329.9M582.0 341.1V337.1M582.8 341.1V336.5M583.7 341.1V333.7M585.2 341.1V338.4M586.0 341.1V332.8M586.9 341.1V344.3M589.3 341.1V333.5M590.1 341.1V339.8M591.6 341.1V342.4M592.5 341.1V329.1M593.3 341.1V327.7M595.7 341.1V347.4M596.6 341.1V331.0M598.0 341.1V333.6M598.9 341.1V328.7M599.8 341.1V349.0M601.3 341.1V345.0M602.1 341.1V337.1M603.0 341.1V335.8M604.5 341.1V341.3M605.3 341.1V342.4M606.2 341.1V353.7M607.7 341.1V344.1M608.6 341.1V339.0M609.4 341.1V335.1M610.9 341.1V342.0M611.8 341.1V331.3M612.6 341.1V332.5M614.1 341.1V335.0M615.0 341.1V339.0M615.9 341.1V338.7M617.3 341.1V339.2M618.2 341.1V336.6M619.1 341.1V338.4M620.5 341.1V333.5M621.4 341.1V334.1M622.3 341.1V335.4M624.6 341.1V351.8M625.5 341.1V336.1M627.8 341.1V344.9M628.7 341.1V338.6M631.1 341.1V339.2M631.9 341.1V351.2M633.4 341.1V329.3M634.3 341.1V341.9M635.1 341.1V346.3M637.5 341.1V337.3M638.4 341.1V335.4M639.8 341.1V338.0M640.7 341.1V344.2M641.6 341.1V339.0M643.9 341.1V330.4M644.8 341.1V346.8M646.3 341.1V340.2M647.1 341.1V337.9M650.3 341.1V331.7M651.2 341.1V342.4M652.7 341.1V341.9M653.6 341.1V342.5M655.9 341.1V336.5M656.8 341.1V328.3M657.6 341.1V343.5M659.1 341.1V341.6M660.0 341.1V337.5M660.9 341.1V341.6M662.3 341.1V333.1M663.2 341.1V336.7M664.1 341.1V345.9M665.6 341.1V336.0M666.4 341.1V325.8M667.3 341.1V339.2M668.8 341.1V333.4M669.6 341.1V334.0M670.5 341.1V335.0M672.9 341.1V348.0M673.7 341.1V334.8M676.1 341.1V345.5M676.9 341.1V338.6M679.3 341.1V333.5M680.2 341.1V338.0" stroke="#c4c4c4" stroke-width="0.85" fill="none"/>
<path d="M360.1 341.1V324.7M366.6 341.1V358.1M369.8 341.1V361.9M373.0 341.1V368.8M382.6 341.1V327.9M392.3 341.1V361.3M393.1 341.1V353.7M398.7 341.1V326.6M401.9 341.1V355.6M418.0 341.1V327.2M421.2 341.1V327.2M430.9 341.1V355.6M440.5 341.1V324.7M463.0 341.1V323.5M472.7 341.1V328.5M482.3 341.1V323.5M491.9 341.1V327.2M492.8 341.1V353.7M517.7 341.1V326.0M528.2 341.1V352.9M533.7 341.1V326.0M537.0 341.1V348.7M537.8 341.1V353.1M562.7 341.1V358.1M572.3 341.1V358.1M588.4 341.1V327.2M594.8 341.1V320.9M623.8 341.1V350.6M627.0 341.1V350.6M630.2 341.1V362.5M636.6 341.1V357.5M643.1 341.1V364.4M648.0 341.1V329.3M649.5 341.1V356.2M654.4 341.1V330.4M672.0 341.1V356.9M675.2 341.1V327.2M678.4 341.1V354.3" stroke="#555" stroke-width="0.95" fill="none"/>
<path d="M360.1 323.2l1.75 2.70h-3.50z" fill="#e69f00"/>
<path d="M359.6 336.7a1.40 1.40 0 1 0 2.80 0a1.40 1.40 0 1 0 -2.80 0" fill="#009e73"/>
<path d="M361.9 329.3l1.30 1.75 -1.30 1.75 -1.30 -1.75z" fill="#f0e442"/>
<path d="M361.8 321.5h3.00m-1.50 -1.50v3.00" stroke="#56b4e9" stroke-width="0.85" fill="none"/>
<path d="M362.8 331.7a1.40 1.40 0 1 0 2.80 0a1.40 1.40 0 1 0 -2.80 0" fill="#009e73"/>
<path d="M365.1 339.8l1.30 1.75 -1.30 1.75 -1.30 -1.75z" fill="#f0e442"/>
<path d="M365.2 358.1a1.40 1.40 0 1 0 2.80 0a1.40 1.40 0 1 0 -2.80 0" fill="#009e73"/>
<path d="M365.9 344.2h3.00m-1.50 -1.50v3.00" stroke="#56b4e9" stroke-width="0.85" fill="none"/>
<path d="M368.3 330.7l1.75 2.70h-3.50z" fill="#e69f00"/>
<path d="M368.4 361.9a1.40 1.40 0 1 0 2.80 0a1.40 1.40 0 1 0 -2.80 0" fill="#009e73"/>
<path d="M370.6 325.7l1.75 2.70h-3.50z" fill="#e69f00"/>
<path d="M370.0 347.4h3.00m-1.50 -1.50v3.00" stroke="#56b4e9" stroke-width="0.85" fill="none"/>
<path d="M371.6 368.8a1.40 1.40 0 1 0 2.80 0a1.40 1.40 0 1 0 -2.80 0" fill="#009e73"/>
<path d="M373.9 327.6l1.75 2.70h-3.50z" fill="#e69f00"/>
<path d="M374.7 337.5l1.30 1.75 -1.30 1.75 -1.30 -1.75z" fill="#f0e442"/>
<path d="M374.7 339.0h3.00m-1.50 -1.50v3.00" stroke="#56b4e9" stroke-width="0.85" fill="none"/>
<path d="M375.7 340.7a1.40 1.40 0 1 0 2.80 0a1.40 1.40 0 1 0 -2.80 0" fill="#009e73"/>
<path d="M377.9 345.9l1.30 1.75 -1.30 1.75 -1.30 -1.75z" fill="#f0e442"/>
<path d="M379.4 340.9l1.75 2.70h-3.50z" fill="#e69f00"/>
<path d="M378.9 345.7a1.40 1.40 0 1 0 2.80 0a1.40 1.40 0 1 0 -2.80 0" fill="#009e73"/>
<path d="M381.2 332.5l1.30 1.75 -1.30 1.75 -1.30 -1.75z" fill="#f0e442"/>
<path d="M382.6 326.3l1.75 2.70h-3.50z" fill="#e69f00"/>
<path d="M383.5 343.1l1.30 1.75 -1.30 1.75 -1.30 -1.75z" fill="#f0e442"/>
<path d="M383.0 338.6a1.40 1.40 0 1 0 2.80 0a1.40 1.40 0 1 0 -2.80 0" fill="#009e73"/>
<path d="M385.9 335.0l1.75 2.70h-3.50z" fill="#e69f00"/>
<path d="M385.2 344.5h3.00m-1.50 -1.50v3.00" stroke="#56b4e9" stroke-width="0.85" fill="none"/>
<path d="M387.6 338.9l1.30 1.75 -1.30 1.75 -1.30 -1.75z" fill="#f0e442"/>
<path d="M387.6 332.3h3.00m-1.50 -1.50v3.00" stroke="#56b4e9" stroke-width="0.85" fill="none"/>
<path d="M388.5 342.8a1.40 1.40 0 1 0 2.80 0a1.40 1.40 0 1 0 -2.80 0" fill="#009e73"/>
<path d="M390.8 340.3l1.30 1.75 -1.30 1.75 -1.30 -1.75z" fill="#f0e442"/>
<path d="M390.9 361.3a1.40 1.40 0 1 0 2.80 0a1.40 1.40 0 1 0 -2.80 0" fill="#009e73"/>
<path d="M393.1 352.0l1.30 1.75 -1.30 1.75 -1.30 -1.75z" fill="#f0e442"/>
<path d="M394.0 328.2l1.75 2.70h-3.50zM395.5 346.6l1.75 2.70h-3.50z" fill="#e69f00"/>
<path d="M394.9 343.0h3.00m-1.50 -1.50v3.00" stroke="#56b4e9" stroke-width="0.85" fill="none"/>
<path d="M395.8 327.5a1.40 1.40 0 1 0 2.80 0a1.40 1.40 0 1 0 -2.80 0M397.3 326.6a1.40 1.40 0 1 0 2.80 0a1.40 1.40 0 1 0 -2.80 0" fill="#009e73"/>
<path d="M399.6 330.7l1.75 2.70h-3.50z" fill="#e69f00"/>
<path d="M398.9 343.6h3.00m-1.50 -1.50v3.00" stroke="#56b4e9" stroke-width="0.85" fill="none"/>
<path d="M401.9 353.8l1.30 1.75 -1.30 1.75 -1.30 -1.75z" fill="#f0e442"/>
<path d="M401.4 336.1a1.40 1.40 0 1 0 2.80 0a1.40 1.40 0 1 0 -2.80 0" fill="#009e73"/>
<path d="M403.7 331.4l1.75 2.70h-3.50z" fill="#e69f00"/>
<path d="M403.6 345.2h3.00m-1.50 -1.50v3.00" stroke="#56b4e9" stroke-width="0.85" fill="none"/>
<path d="M404.6 343.9a1.40 1.40 0 1 0 2.80 0a1.40 1.40 0 1 0 -2.80 0" fill="#009e73"/>
<path d="M406.9 336.9l1.30 1.75 -1.30 1.75 -1.30 -1.75z" fill="#f0e442"/>
<path d="M406.9 343.9h3.00m-1.50 -1.50v3.00" stroke="#56b4e9" stroke-width="0.85" fill="none"/>
<path d="M407.8 344.7a1.40 1.40 0 1 0 2.80 0a1.40 1.40 0 1 0 -2.80 0" fill="#009e73"/>
<path d="M410.1 326.9l1.30 1.75 -1.30 1.75 -1.30 -1.75z" fill="#f0e442"/>
<path d="M410.1 336.9h3.00m-1.50 -1.50v3.00" stroke="#56b4e9" stroke-width="0.85" fill="none"/>
<path d="M411.0 338.1a1.40 1.40 0 1 0 2.80 0a1.40 1.40 0 1 0 -2.80 0" fill="#009e73"/>
<path d="M413.3 335.0l1.30 1.75 -1.30 1.75 -1.30 -1.75z" fill="#f0e442"/>
<path d="M414.8 344.5l1.75 2.70h-3.50z" fill="#e69f00"/>
<path d="M414.3 338.0a1.40 1.40 0 1 0 2.80 0a1.40 1.40 0 1 0 -2.80 0" fill="#009e73"/>
<path d="M416.5 339.4l1.30 1.75 -1.30 1.75 -1.30 -1.75z" fill="#f0e442"/>
<path d="M418.0 325.7l1.75 2.70h-3.50z" fill="#e69f00"/>
<path d="M417.5 337.3a1.40 1.40 0 1 0 2.80 0a1.40 1.40 0 1 0 -2.80 0" fill="#009e73"/>
<path d="M419.7 349.4l1.30 1.75 -1.30 1.75 -1.30 -1.75z" fill="#f0e442"/>
<path d="M421.2 325.7l1.75 2.70h-3.50z" fill="#e69f00"/>
<path d="M420.6 337.3h3.00m-1.50 -1.50v3.00" stroke="#56b4e9" stroke-width="0.85" fill="none"/>
<path d="M421.6 349.9a1.40 1.40 0 1 0 2.80 0a1.40 1.40 0 1 0 -2.80 0" fill="#009e73"/>
<path d="M422.9 334.6h3.00m-1.50 -1.50v3.00" stroke="#56b4e9" stroke-width="0.85" fill="none"/>
<path d="M423.9 331.2a1.40 1.40 0 1 0 2.80 0a1.40 1.40 0 1 0 -2.80 0" fill="#009e73"/>
<path d="M426.2 342.5l1.30 1.75 -1.30 1.75 -1.30 -1.75z" fill="#f0e442"/>
<path d="M427.6 330.6l1.75 2.70h-3.50z" fill="#e69f00"/>
<path d="M427.0 342.2h3.00m-1.50 -1.50v3.00" stroke="#56b4e9" stroke-width="0.85" fill="none"/>
<path d="M429.4 334.8l1.30 1.75 -1.30 1.75 -1.30 -1.75z" fill="#f0e442"/>
<path d="M429.5 355.6a1.40 1.40 0 1 0 2.80 0a1.40 1.40 0 1 0 -2.80 0" fill="#009e73"/>
<path d="M431.7 349.0l1.75 2.70h-3.50z" fill="#e69f00"/>
<path d="M432.6 334.3l1.30 1.75 -1.30 1.75 -1.30 -1.75z" fill="#f0e442"/>
<path d="M434.1 332.9l1.75 2.70h-3.50z" fill="#e69f00"/>
<path d="M433.5 352.3a1.40 1.40 0 1 0 2.80 0a1.40 1.40 0 1 0 -2.80 0" fill="#009e73"/>
<path d="M435.8 343.2l1.30 1.75 -1.30 1.75 -1.30 -1.75z" fill="#f0e442"/>
<path d="M435.8 347.3h3.00m-1.50 -1.50v3.00" stroke="#56b4e9" stroke-width="0.85" fill="none"/>
<path d="M436.8 343.8a1.40 1.40 0 1 0 2.80 0a1.40 1.40 0 1 0 -2.80 0" fill="#009e73"/>
<path d="M439.0 334.4l1.30 1.75 -1.30 1.75 -1.30 -1.75zM440.5 323.0l1.30 1.75 -1.30 1.75 -1.30 -1.75z" fill="#f0e442"/>
<path d="M441.4 335.1l1.75 2.70h-3.50z" fill="#e69f00"/>
<path d="M440.8 348.0a1.40 1.40 0 1 0 2.80 0a1.40 1.40 0 1 0 -2.80 0" fill="#009e73"/>
<path d="M443.7 340.6l1.75 2.70h-3.50z" fill="#e69f00"/>
<path d="M443.1 336.0h3.00m-1.50 -1.50v3.00" stroke="#56b4e9" stroke-width="0.85" fill="none"/>
<path d="M444.1 335.8a1.40 1.40 0 1 0 2.80 0a1.40 1.40 0 1 0 -2.80 0" fill="#009e73"/>
<path d="M446.9 338.5l1.75 2.70h-3.50z" fill="#e69f00"/>
<path d="M446.3 340.2h3.00m-1.50 -1.50v3.00" stroke="#56b4e9" stroke-width="0.85" fill="none"/>
<path d="M448.7 331.6l1.30 1.75 -1.30 1.75 -1.30 -1.75z" fill="#f0e442"/>
<path d="M448.7 340.1h3.00m-1.50 -1.50v3.00" stroke="#56b4e9" stroke-width="0.85" fill="none"/>
<path d="M449.6 344.4a1.40 1.40 0 1 0 2.80 0a1.40 1.40 0 1 0 -2.80 0" fill="#009e73"/>
<path d="M451.9 346.6l1.30 1.75 -1.30 1.75 -1.30 -1.75z" fill="#f0e442"/>
<path d="M451.9 337.3h3.00m-1.50 -1.50v3.00" stroke="#56b4e9" stroke-width="0.85" fill="none"/>
<path d="M452.8 336.9a1.40 1.40 0 1 0 2.80 0a1.40 1.40 0 1 0 -2.80 0" fill="#009e73"/>
<path d="M455.1 332.5l1.30 1.75 -1.30 1.75 -1.30 -1.75z" fill="#f0e442"/>
<path d="M456.6 331.9l1.75 2.70h-3.50z" fill="#e69f00"/>
<path d="M455.9 339.3h3.00m-1.50 -1.50v3.00" stroke="#56b4e9" stroke-width="0.85" fill="none"/>
<path d="M456.9 336.7a1.40 1.40 0 1 0 2.80 0a1.40 1.40 0 1 0 -2.80 0" fill="#009e73"/>
<path d="M459.8 350.4l1.75 2.70h-3.50z" fill="#e69f00"/>
<path d="M459.3 346.2a1.40 1.40 0 1 0 2.80 0a1.40 1.40 0 1 0 -2.80 0" fill="#009e73"/>
<path d="M461.5 331.2l1.30 1.75 -1.30 1.75 -1.30 -1.75z" fill="#f0e442"/>
<path d="M461.5 323.5h3.00m-1.50 -1.50v3.00" stroke="#56b4e9" stroke-width="0.85" fill="none"/>
<path d="M462.5 338.6a1.40 1.40 0 1 0 2.80 0a1.40 1.40 0 1 0 -2.80 0" fill="#009e73"/>
<path d="M464.7 333.9l1.75 2.70h-3.50zM466.2 346.4l1.75 2.70h-3.50z" fill="#e69f00"/>
<path d="M465.7 337.0a1.40 1.40 0 1 0 2.80 0a1.40 1.40 0 1 0 -2.80 0" fill="#009e73"/>
<path d="M468.0 333.0l1.30 1.75 -1.30 1.75 -1.30 -1.75z" fill="#f0e442"/>
<path d="M469.4 328.8l1.75 2.70h-3.50z" fill="#e69f00"/>
<path d="M468.8 344.2h3.00m-1.50 -1.50v3.00" stroke="#56b4e9" stroke-width="0.85" fill="none"/>
<path d="M471.2 333.2l1.30 1.75 -1.30 1.75 -1.30 -1.75z" fill="#f0e442"/>
<path d="M471.2 328.5h3.00m-1.50 -1.50v3.00" stroke="#56b4e9" stroke-width="0.85" fill="none"/>
<path d="M473.5 341.4l1.75 2.70h-3.50z" fill="#e69f00"/>
<path d="M473.0 335.4a1.40 1.40 0 1 0 2.80 0a1.40 1.40 0 1 0 -2.80 0" fill="#009e73"/>
<path d="M475.9 352.1l1.75 2.70h-3.50z" fill="#e69f00"/>
<path d="M475.2 342.7h3.00m-1.50 -1.50v3.00" stroke="#56b4e9" stroke-width="0.85" fill="none"/>
<path d="M477.6 341.0l1.30 1.75 -1.30 1.75 -1.30 -1.75z" fill="#f0e442"/>
<path d="M479.1 351.9l1.75 2.70h-3.50z" fill="#e69f00"/>
<path d="M478.5 339.9h3.00m-1.50 -1.50v3.00" stroke="#56b4e9" stroke-width="0.85" fill="none"/>
<path d="M479.4 357.8a1.40 1.40 0 1 0 2.80 0a1.40 1.40 0 1 0 -2.80 0" fill="#009e73"/>
<path d="M480.8 323.5h3.00m-1.50 -1.50v3.00" stroke="#56b4e9" stroke-width="0.85" fill="none"/>
<path d="M483.2 344.0l1.75 2.70h-3.50z" fill="#e69f00"/>
<path d="M484.0 336.8l1.30 1.75 -1.30 1.75 -1.30 -1.75z" fill="#f0e442"/>
<path d="M484.0 342.4h3.00m-1.50 -1.50v3.00" stroke="#56b4e9" stroke-width="0.85" fill="none"/>
<path d="M485.0 344.5a1.40 1.40 0 1 0 2.80 0a1.40 1.40 0 1 0 -2.80 0" fill="#009e73"/>
<path d="M487.3 344.8l1.30 1.75 -1.30 1.75 -1.30 -1.75z" fill="#f0e442"/>
<path d="M488.7 340.8l1.75 2.70h-3.50z" fill="#e69f00"/>
<path d="M488.2 335.4a1.40 1.40 0 1 0 2.80 0a1.40 1.40 0 1 0 -2.80 0" fill="#009e73"/>
<path d="M490.5 332.8l1.30 1.75 -1.30 1.75 -1.30 -1.75z" fill="#f0e442"/>
<path d="M490.5 327.2a1.40 1.40 0 1 0 2.80 0a1.40 1.40 0 1 0 -2.80 0" fill="#009e73"/>
<path d="M492.8 352.2l1.75 2.70h-3.50z" fill="#e69f00"/>
<path d="M493.7 337.5l1.30 1.75 -1.30 1.75 -1.30 -1.75z" fill="#f0e442"/>
<path d="M493.7 329.6h3.00m-1.50 -1.50v3.00" stroke="#56b4e9" stroke-width="0.85" fill="none"/>
<path d="M494.6 347.5a1.40 1.40 0 1 0 2.80 0a1.40 1.40 0 1 0 -2.80 0" fill="#009e73"/>
<path d="M496.9 331.3l1.30 1.75 -1.30 1.75 -1.30 -1.75z" fill="#f0e442"/>
<path d="M496.9 338.8h3.00m-1.50 -1.50v3.00" stroke="#56b4e9" stroke-width="0.85" fill="none"/>
<path d="M497.8 336.9a1.40 1.40 0 1 0 2.80 0a1.40 1.40 0 1 0 -2.80 0" fill="#009e73"/>
<path d="M500.1 335.4l1.30 1.75 -1.30 1.75 -1.30 -1.75z" fill="#f0e442"/>
<path d="M501.6 335.6l1.75 2.70h-3.50z" fill="#e69f00"/>
<path d="M501.0 355.6h3.00m-1.50 -1.50v3.00" stroke="#56b4e9" stroke-width="0.85" fill="none"/>
<path d="M503.3 335.9l1.30 1.75 -1.30 1.75 -1.30 -1.75z" fill="#f0e442"/>
<path d="M504.8 346.7l1.75 2.70h-3.50z" fill="#e69f00"/>
<path d="M504.2 330.2h3.00m-1.50 -1.50v3.00" stroke="#56b4e9" stroke-width="0.85" fill="none"/>
<path d="M506.5 336.0l1.30 1.75 -1.30 1.75 -1.30 -1.75z" fill="#f0e442"/>
<path d="M508.0 342.3l1.75 2.70h-3.50z" fill="#e69f00"/>
<path d="M507.4 339.6h3.00m-1.50 -1.50v3.00" stroke="#56b4e9" stroke-width="0.85" fill="none"/>
<path d="M509.8 338.8l1.30 1.75 -1.30 1.75 -1.30 -1.75z" fill="#f0e442"/>
<path d="M511.2 339.4l1.75 2.70h-3.50z" fill="#e69f00"/>
<path d="M510.6 330.2h3.00m-1.50 -1.50v3.00" stroke="#56b4e9" stroke-width="0.85" fill="none"/>
<path d="M513.0 343.9l1.30 1.75 -1.30 1.75 -1.30 -1.75z" fill="#f0e442"/>
<path d="M514.5 336.9l1.75 2.70h-3.50z" fill="#e69f00"/>
<path d="M513.8 341.9h3.00m-1.50 -1.50v3.00" stroke="#56b4e9" stroke-width="0.85" fill="none"/>
<path d="M514.8 345.2a1.40 1.40 0 1 0 2.80 0a1.40 1.40 0 1 0 -2.80 0M516.3 326.0a1.40 1.40 0 1 0 2.80 0a1.40 1.40 0 1 0 -2.80 0" fill="#009e73"/>
<path d="M518.5 334.5l1.75 2.70h-3.50z" fill="#e69f00"/>
<path d="M519.4 342.5l1.30 1.75 -1.30 1.75 -1.30 -1.75z" fill="#f0e442"/>
<path d="M520.9 330.8l1.75 2.70h-3.50z" fill="#e69f00"/>
<path d="M520.4 336.9a1.40 1.40 0 1 0 2.80 0a1.40 1.40 0 1 0 -2.80 0" fill="#009e73"/>
<path d="M522.6 332.4l1.30 1.75 -1.30 1.75 -1.30 -1.75z" fill="#f0e442"/>
<path d="M524.1 337.7l1.75 2.70h-3.50z" fill="#e69f00"/>
<path d="M523.6 332.1a1.40 1.40 0 1 0 2.80 0a1.40 1.40 0 1 0 -2.80 0" fill="#009e73"/>
<path d="M525.8 329.5l1.30 1.75 -1.30 1.75 -1.30 -1.75z" fill="#f0e442"/>
<path d="M527.3 332.0l1.75 2.70h-3.50z" fill="#e69f00"/>
<path d="M526.7 352.9h3.00m-1.50 -1.50v3.00" stroke="#56b4e9" stroke-width="0.85" fill="none"/>
<path d="M529.0 337.0l1.30 1.75 -1.30 1.75 -1.30 -1.75z" fill="#f0e442"/>
<path d="M530.5 336.1l1.75 2.70h-3.50z" fill="#e69f00"/>
<path d="M529.9 340.5h3.00m-1.50 -1.50v3.00" stroke="#56b4e9" stroke-width="0.85" fill="none"/>
<path d="M532.3 337.9l1.30 1.75 -1.30 1.75 -1.30 -1.75z" fill="#f0e442"/>
<path d="M532.3 326.0a1.40 1.40 0 1 0 2.80 0a1.40 1.40 0 1 0 -2.80 0" fill="#009e73"/>
<path d="M534.6 328.2l1.75 2.70h-3.50z" fill="#e69f00"/>
<path d="M534.0 346.1h3.00m-1.50 -1.50v3.00" stroke="#56b4e9" stroke-width="0.85" fill="none"/>
<path d="M535.6 348.7a1.40 1.40 0 1 0 2.80 0a1.40 1.40 0 1 0 -2.80 0" fill="#009e73"/>
<path d="M536.3 353.1h3.00m-1.50 -1.50v3.00" stroke="#56b4e9" stroke-width="0.85" fill="none"/>
<path d="M538.7 333.9l1.75 2.70h-3.50zM540.2 340.6l1.75 2.70h-3.50z" fill="#e69f00"/>
<path d="M539.6 348.6a1.40 1.40 0 1 0 2.80 0a1.40 1.40 0 1 0 -2.80 0" fill="#009e73"/>
<path d="M541.9 332.1l1.30 1.75 -1.30 1.75 -1.30 -1.75z" fill="#f0e442"/>
<path d="M543.4 330.3l1.75 2.70h-3.50z" fill="#e69f00"/>
<path d="M542.9 332.7a1.40 1.40 0 1 0 2.80 0a1.40 1.40 0 1 0 -2.80 0" fill="#009e73"/>
<path d="M545.1 332.4l1.30 1.75 -1.30 1.75 -1.30 -1.75z" fill="#f0e442"/>
<path d="M546.6 337.2l1.75 2.70h-3.50z" fill="#e69f00"/>
<path d="M546.1 339.3a1.40 1.40 0 1 0 2.80 0a1.40 1.40 0 1 0 -2.80 0" fill="#009e73"/>
<path d="M548.3 344.8l1.30 1.75 -1.30 1.75 -1.30 -1.75z" fill="#f0e442"/>
<path d="M548.3 336.5h3.00m-1.50 -1.50v3.00" stroke="#56b4e9" stroke-width="0.85" fill="none"/>
<path d="M549.3 350.0a1.40 1.40 0 1 0 2.80 0a1.40 1.40 0 1 0 -2.80 0" fill="#009e73"/>
<path d="M551.6 339.7l1.30 1.75 -1.30 1.75 -1.30 -1.75z" fill="#f0e442"/>
<path d="M551.5 337.6h3.00m-1.50 -1.50v3.00" stroke="#56b4e9" stroke-width="0.85" fill="none"/>
<path d="M552.5 339.0a1.40 1.40 0 1 0 2.80 0a1.40 1.40 0 1 0 -2.80 0" fill="#009e73"/>
<path d="M554.8 331.6l1.30 1.75 -1.30 1.75 -1.30 -1.75z" fill="#f0e442"/>
<path d="M554.7 340.2h3.00m-1.50 -1.50v3.00" stroke="#56b4e9" stroke-width="0.85" fill="none"/>
<path d="M555.7 339.9a1.40 1.40 0 1 0 2.80 0a1.40 1.40 0 1 0 -2.80 0" fill="#009e73"/>
<path d="M558.0 339.8l1.30 1.75 -1.30 1.75 -1.30 -1.75z" fill="#f0e442"/>
<path d="M559.5 344.6l1.75 2.70h-3.50z" fill="#e69f00"/>
<path d="M558.9 332.6a1.40 1.40 0 1 0 2.80 0a1.40 1.40 0 1 0 -2.80 0" fill="#009e73"/>
<path d="M561.2 326.3l1.30 1.75 -1.30 1.75 -1.30 -1.75z" fill="#f0e442"/>
<path d="M562.7 356.6l1.75 2.70h-3.50z" fill="#e69f00"/>
<path d="M562.1 346.1a1.40 1.40 0 1 0 2.80 0a1.40 1.40 0 1 0 -2.80 0" fill="#009e73"/>
<path d="M564.4 329.3l1.30 1.75 -1.30 1.75 -1.30 -1.75z" fill="#f0e442"/>
<path d="M564.4 344.5h3.00m-1.50 -1.50v3.00" stroke="#56b4e9" stroke-width="0.85" fill="none"/>
<path d="M565.4 350.1a1.40 1.40 0 1 0 2.80 0a1.40 1.40 0 1 0 -2.80 0" fill="#009e73"/>
<path d="M567.6 342.7l1.30 1.75 -1.30 1.75 -1.30 -1.75z" fill="#f0e442"/>
<path d="M569.1 336.3l1.75 2.70h-3.50z" fill="#e69f00"/>
<path d="M568.5 336.6h3.00m-1.50 -1.50v3.00" stroke="#56b4e9" stroke-width="0.85" fill="none"/>
<path d="M569.4 336.8a1.40 1.40 0 1 0 2.80 0a1.40 1.40 0 1 0 -2.80 0M570.9 358.1a1.40 1.40 0 1 0 2.80 0a1.40 1.40 0 1 0 -2.80 0" fill="#009e73"/>
<path d="M573.2 334.3l1.30 1.75 -1.30 1.75 -1.30 -1.75z" fill="#f0e442"/>
<path d="M574.1 347.7l1.75 2.70h-3.50zM575.5 341.8l1.75 2.70h-3.50z" fill="#e69f00"/>
<path d="M574.9 346.4h3.00m-1.50 -1.50v3.00" stroke="#56b4e9" stroke-width="0.85" fill="none"/>
<path d="M577.3 342.6l1.30 1.75 -1.30 1.75 -1.30 -1.75z" fill="#f0e442"/>
<path d="M578.8 340.7l1.75 2.70h-3.50z" fill="#e69f00"/>
<path d="M578.1 340.1h3.00m-1.50 -1.50v3.00" stroke="#56b4e9" stroke-width="0.85" fill="none"/>
<path d="M579.1 329.9a1.40 1.40 0 1 0 2.80 0a1.40 1.40 0 1 0 -2.80 0" fill="#009e73"/>
<path d="M582.0 335.5l1.75 2.70h-3.50z" fill="#e69f00"/>
<path d="M581.4 336.5a1.40 1.40 0 1 0 2.80 0a1.40 1.40 0 1 0 -2.80 0" fill="#009e73"/>
<path d="M583.7 331.9l1.30 1.75 -1.30 1.75 -1.30 -1.75z" fill="#f0e442"/>
<path d="M585.2 336.9l1.75 2.70h-3.50z" fill="#e69f00"/>
<path d="M584.5 332.8h3.00m-1.50 -1.50v3.00" stroke="#56b4e9" stroke-width="0.85" fill="none"/>
<path d="M586.9 342.5l1.30 1.75 -1.30 1.75 -1.30 -1.75z" fill="#f0e442"/>
<path d="M587.0 327.2a1.40 1.40 0 1 0 2.80 0a1.40 1.40 0 1 0 -2.80 0" fill="#009e73"/>
<path d="M587.8 333.5h3.00m-1.50 -1.50v3.00" stroke="#56b4e9" stroke-width="0.85" fill="none"/>
<path d="M590.1 338.3l1.75 2.70h-3.50z" fill="#e69f00"/>
<path d="M590.1 342.4h3.00m-1.50 -1.50v3.00" stroke="#56b4e9" stroke-width="0.85" fill="none"/>
<path d="M591.1 329.1a1.40 1.40 0 1 0 2.80 0a1.40 1.40 0 1 0 -2.80 0" fill="#009e73"/>
<path d="M593.3 326.0l1.30 1.75 -1.30 1.75 -1.30 -1.75z" fill="#f0e442"/>
<path d="M593.3 320.9h3.00m-1.50 -1.50v3.00" stroke="#56b4e9" stroke-width="0.85" fill="none"/>
<path d="M594.3 347.4a1.40 1.40 0 1 0 2.80 0a1.40 1.40 0 1 0 -2.80 0" fill="#009e73"/>
<path d="M596.6 329.3l1.30 1.75 -1.30 1.75 -1.30 -1.75z" fill="#f0e442"/>
<path d="M596.5 333.6h3.00m-1.50 -1.50v3.00" stroke="#56b4e9" stroke-width="0.85" fill="none"/>
<path d="M597.5 328.7a1.40 1.40 0 1 0 2.80 0a1.40 1.40 0 1 0 -2.80 0" fill="#009e73"/>
<path d="M599.8 347.3l1.30 1.75 -1.30 1.75 -1.30 -1.75z" fill="#f0e442"/>
<path d="M599.8 345.0h3.00m-1.50 -1.50v3.00" stroke="#56b4e9" stroke-width="0.85" fill="none"/>
<path d="M600.7 337.1a1.40 1.40 0 1 0 2.80 0a1.40 1.40 0 1 0 -2.80 0" fill="#009e73"/>
<path d="M603.0 334.0l1.30 1.75 -1.30 1.75 -1.30 -1.75z" fill="#f0e442"/>
<path d="M604.5 339.8l1.75 2.70h-3.50z" fill="#e69f00"/>
<path d="M603.8 342.4h3.00m-1.50 -1.50v3.00" stroke="#56b4e9" stroke-width="0.85" fill="none"/>
<path d="M604.8 353.7a1.40 1.40 0 1 0 2.80 0a1.40 1.40 0 1 0 -2.80 0" fill="#009e73"/>
<path d="M606.2 344.1h3.00m-1.50 -1.50v3.00" stroke="#56b4e9" stroke-width="0.85" fill="none"/>
<path d="M607.2 339.0a1.40 1.40 0 1 0 2.80 0a1.40 1.40 0 1 0 -2.80 0" fill="#009e73"/>
<path d="M609.4 333.3l1.30 1.75 -1.30 1.75 -1.30 -1.75z" fill="#f0e442"/>
<path d="M610.9 340.5l1.75 2.70h-3.50z" fill="#e69f00"/>
<path d="M610.3 331.3h3.00m-1.50 -1.50v3.00" stroke="#56b4e9" stroke-width="0.85" fill="none"/>
<path d="M612.6 330.8l1.30 1.75 -1.30 1.75 -1.30 -1.75z" fill="#f0e442"/>
<path d="M614.1 333.5l1.75 2.70h-3.50z" fill="#e69f00"/>
<path d="M613.5 339.0h3.00m-1.50 -1.50v3.00" stroke="#56b4e9" stroke-width="0.85" fill="none"/>
<path d="M614.5 338.7a1.40 1.40 0 1 0 2.80 0a1.40 1.40 0 1 0 -2.80 0" fill="#009e73"/>
<path d="M617.3 337.7l1.75 2.70h-3.50z" fill="#e69f00"/>
<path d="M616.7 336.6h3.00m-1.50 -1.50v3.00" stroke="#56b4e9" stroke-width="0.85" fill="none"/>
<path d="M617.7 338.4a1.40 1.40 0 1 0 2.80 0a1.40 1.40 0 1 0 -2.80 0" fill="#009e73"/>
<path d="M619.0 333.5h3.00m-1.50 -1.50v3.00" stroke="#56b4e9" stroke-width="0.85" fill="none"/>
<path d="M620.0 334.1a1.40 1.40 0 1 0 2.80 0a1.40 1.40 0 1 0 -2.80 0" fill="#009e73"/>
<path d="M622.3 333.7l1.30 1.75 -1.30 1.75 -1.30 -1.75z" fill="#f0e442"/>
<path d="M622.4 350.6a1.40 1.40 0 1 0 2.80 0a1.40 1.40 0 1 0 -2.80 0" fill="#009e73"/>
<path d="M623.1 351.8h3.00m-1.50 -1.50v3.00" stroke="#56b4e9" stroke-width="0.85" fill="none"/>
<path d="M625.5 334.5l1.75 2.70h-3.50z" fill="#e69f00"/>
<path d="M625.6 350.6a1.40 1.40 0 1 0 2.80 0a1.40 1.40 0 1 0 -2.80 0" fill="#009e73"/>
<path d="M627.8 343.3l1.75 2.70h-3.50z" fill="#e69f00"/>
<path d="M628.7 336.8l1.30 1.75 -1.30 1.75 -1.30 -1.75z" fill="#f0e442"/>
<path d="M630.2 361.0l1.75 2.70h-3.50z" fill="#e69f00"/>
<path d="M629.7 339.2a1.40 1.40 0 1 0 2.80 0a1.40 1.40 0 1 0 -2.80 0" fill="#009e73"/>
<path d="M630.4 351.2h3.00m-1.50 -1.50v3.00" stroke="#56b4e9" stroke-width="0.85" fill="none"/>
<path d="M633.4 327.7l1.75 2.70h-3.50z" fill="#e69f00"/>
<path d="M632.8 341.9h3.00m-1.50 -1.50v3.00" stroke="#56b4e9" stroke-width="0.85" fill="none"/>
<path d="M635.1 344.6l1.30 1.75 -1.30 1.75 -1.30 -1.75z" fill="#f0e442"/>
<path d="M635.1 357.5h3.00m-1.50 -1.50v3.00" stroke="#56b4e9" stroke-width="0.85" fill="none"/>
<path d="M636.1 337.3a1.40 1.40 0 1 0 2.80 0a1.40 1.40 0 1 0 -2.80 0" fill="#009e73"/>
<path d="M638.4 333.7l1.30 1.75 -1.30 1.75 -1.30 -1.75z" fill="#f0e442"/>
<path d="M639.8 336.5l1.75 2.70h-3.50z" fill="#e69f00"/>
<path d="M639.2 344.2h3.00m-1.50 -1.50v3.00" stroke="#56b4e9" stroke-width="0.85" fill="none"/>
<path d="M640.2 339.0a1.40 1.40 0 1 0 2.80 0a1.40 1.40 0 1 0 -2.80 0" fill="#009e73"/>
<path d="M643.1 362.9l1.75 2.70h-3.50z" fill="#e69f00"/>
<path d="M642.4 330.4h3.00m-1.50 -1.50v3.00" stroke="#56b4e9" stroke-width="0.85" fill="none"/>
<path d="M644.8 345.0l1.30 1.75 -1.30 1.75 -1.30 -1.75z" fill="#f0e442"/>
<path d="M646.3 338.6l1.75 2.70h-3.50z" fill="#e69f00"/>
<path d="M645.6 337.9h3.00m-1.50 -1.50v3.00" stroke="#56b4e9" stroke-width="0.85" fill="none"/>
<path d="M646.6 329.3a1.40 1.40 0 1 0 2.80 0a1.40 1.40 0 1 0 -2.80 0M648.1 356.2a1.40 1.40 0 1 0 2.80 0a1.40 1.40 0 1 0 -2.80 0" fill="#009e73"/>
<path d="M648.8 331.7h3.00m-1.50 -1.50v3.00" stroke="#56b4e9" stroke-width="0.85" fill="none"/>
<path d="M651.2 340.8l1.75 2.70h-3.50z" fill="#e69f00"/>
<path d="M651.2 341.9h3.00m-1.50 -1.50v3.00" stroke="#56b4e9" stroke-width="0.85" fill="none"/>
<path d="M652.2 342.5a1.40 1.40 0 1 0 2.80 0a1.40 1.40 0 1 0 -2.80 0" fill="#009e73"/>
<path d="M654.4 328.6l1.30 1.75 -1.30 1.75 -1.30 -1.75z" fill="#f0e442"/>
<path d="M655.9 334.9l1.75 2.70h-3.50z" fill="#e69f00"/>
<path d="M655.3 328.3h3.00m-1.50 -1.50v3.00" stroke="#56b4e9" stroke-width="0.85" fill="none"/>
<path d="M656.2 343.5a1.40 1.40 0 1 0 2.80 0a1.40 1.40 0 1 0 -2.80 0" fill="#009e73"/>
<path d="M659.1 340.0l1.75 2.70h-3.50z" fill="#e69f00"/>
<path d="M658.5 337.5h3.00m-1.50 -1.50v3.00" stroke="#56b4e9" stroke-width="0.85" fill="none"/>
<path d="M659.5 341.6a1.40 1.40 0 1 0 2.80 0a1.40 1.40 0 1 0 -2.80 0" fill="#009e73"/>
<path d="M662.3 331.5l1.75 2.70h-3.50z" fill="#e69f00"/>
<path d="M661.7 336.7h3.00m-1.50 -1.50v3.00" stroke="#56b4e9" stroke-width="0.85" fill="none"/>
<path d="M664.1 344.1l1.30 1.75 -1.30 1.75 -1.30 -1.75z" fill="#f0e442"/>
<path d="M665.6 334.4l1.75 2.70h-3.50z" fill="#e69f00"/>
<path d="M665.0 325.8a1.40 1.40 0 1 0 2.80 0a1.40 1.40 0 1 0 -2.80 0" fill="#009e73"/>
<path d="M667.3 337.5l1.30 1.75 -1.30 1.75 -1.30 -1.75z" fill="#f0e442"/>
<path d="M667.3 333.4h3.00m-1.50 -1.50v3.00" stroke="#56b4e9" stroke-width="0.85" fill="none"/>
<path d="M668.2 334.0a1.40 1.40 0 1 0 2.80 0a1.40 1.40 0 1 0 -2.80 0" fill="#009e73"/>
<path d="M670.5 333.2l1.30 1.75 -1.30 1.75 -1.30 -1.75zM672.0 355.1l1.30 1.75 -1.30 1.75 -1.30 -1.75z" fill="#f0e442"/>
<path d="M672.9 346.5l1.75 2.70h-3.50z" fill="#e69f00"/>
<path d="M672.3 334.8a1.40 1.40 0 1 0 2.80 0a1.40 1.40 0 1 0 -2.80 0" fill="#009e73"/>
<path d="M673.7 327.2h3.00m-1.50 -1.50v3.00" stroke="#56b4e9" stroke-width="0.85" fill="none"/>
<path d="M674.7 345.5a1.40 1.40 0 1 0 2.80 0a1.40 1.40 0 1 0 -2.80 0" fill="#009e73"/>
<path d="M676.9 337.0l1.75 2.70h-3.50zM678.4 352.8l1.75 2.70h-3.50z" fill="#e69f00"/>
<path d="M679.3 331.8l1.30 1.75 -1.30 1.75 -1.30 -1.75z" fill="#f0e442"/>
<path d="M678.7 338.0h3.00m-1.50 -1.50v3.00" stroke="#56b4e9" stroke-width="0.85" fill="none"/>
<path d="M15.4 439.1V439.7M18.6 439.1V441.8M21.8 439.1V440.4M25.0 439.1V439.9M28.2 439.1V439.4M69.9 439.1V439.5M73.1 439.1V441.1M76.3 439.1V441.9M79.5 439.1V444.9M82.7 439.1V446.4M85.9 439.1V450.3M89.1 439.1V448.2M92.3 439.1V448.2M95.5 439.1V447.5M98.7 439.1V446.0M101.9 439.1V446.1M105.1 439.1V445.1M108.3 439.1V443.9M111.6 439.1V443.1M114.8 439.1V442.4M118.0 439.1V441.3M121.2 439.1V440.8M124.4 439.1V440.5M127.6 439.1V439.8M130.8 439.1V439.5M134.0 439.1V439.8M137.2 439.1V440.1M140.4 439.1V442.7M143.6 439.1V447.1M146.8 439.1V440.7M150.0 439.1V463.2M153.2 439.1V479.8M156.4 439.1V480.3M159.6 439.1V476.6M162.8 439.1V477.5M166.0 439.1V480.7M169.2 439.1V481.7M172.4 439.1V481.0M175.7 439.1V483.2M178.9 439.1V481.7M182.1 439.1V478.9M185.3 439.1V481.9M188.5 439.1V478.8M191.7 439.1V477.8M194.9 439.1V470.8M198.1 439.1V465.0M201.3 439.1V453.7M204.5 439.1V449.3M207.7 439.1V443.7M210.9 439.1V440.1M217.3 439.1V438.4M220.5 439.1V438.2M223.7 439.1V437.9M226.9 439.1V437.5M230.1 439.1V437.7M233.3 439.1V438.1M236.5 439.1V438.5M239.8 439.1V438.7M243.0 439.1V439.4M246.2 439.1V440.0M249.4 439.1V440.1M252.6 439.1V440.4M255.8 439.1V440.6M259.0 439.1V440.9M262.2 439.1V441.4M265.4 439.1V441.7M268.6 439.1V441.8M271.8 439.1V441.8M275.0 439.1V441.9M278.2 439.1V442.2M281.4 439.1V442.3M284.6 439.1V442.6M287.8 439.1V443.0M291.0 439.1V442.9M294.2 439.1V443.7M297.4 439.1V443.9M300.6 439.1V444.0M303.8 439.1V443.5M307.1 439.1V444.1M310.3 439.1V445.2M313.5 439.1V445.0M316.7 439.1V445.8M319.9 439.1V446.9M323.1 439.1V446.4M326.3 439.1V447.3M329.5 439.1V446.8M332.7 439.1V446.5" stroke="#f3dbdc" stroke-width="3.2" fill="none"/>
<path d="M15.4 439.1V439.7M18.6 439.1V441.8M21.8 439.1V440.4M25.0 439.1V439.9M28.2 439.1V439.4M69.9 439.1V439.5M73.1 439.1V441.1M76.3 439.1V441.9M79.5 439.1V444.9M82.7 439.1V446.4M85.9 439.1V450.3M89.1 439.1V448.2M92.3 439.1V448.2M95.5 439.1V447.5M98.7 439.1V446.0M101.9 439.1V446.1M105.1 439.1V445.1M108.3 439.1V443.9M111.6 439.1V443.1M114.8 439.1V442.4M118.0 439.1V441.3M121.2 439.1V440.8M124.4 439.1V440.5M127.6 439.1V439.8M130.8 439.1V439.5M134.0 439.1V439.8M137.2 439.1V440.1M140.4 439.1V442.7M143.6 439.1V447.1M146.8 439.1V440.7M150.0 439.1V463.2M153.2 439.1V479.8M156.4 439.1V480.3M159.6 439.1V476.6M162.8 439.1V477.5M166.0 439.1V480.7M169.2 439.1V481.7M172.4 439.1V481.0M175.7 439.1V483.2M178.9 439.1V481.7M182.1 439.1V478.9M185.3 439.1V481.9M188.5 439.1V478.8M191.7 439.1V477.8M194.9 439.1V470.8M198.1 439.1V465.0M201.3 439.1V453.7M204.5 439.1V449.3M207.7 439.1V443.7M210.9 439.1V440.1M217.3 439.1V438.4M220.5 439.1V438.2M223.7 439.1V437.9M226.9 439.1V437.5M230.1 439.1V437.7M233.3 439.1V438.1M236.5 439.1V438.5M239.8 439.1V438.7M243.0 439.1V439.4M246.2 439.1V440.0M249.4 439.1V440.1M252.6 439.1V440.4M255.8 439.1V440.6M259.0 439.1V440.9M262.2 439.1V441.4M265.4 439.1V441.7M268.6 439.1V441.8M271.8 439.1V441.8M275.0 439.1V441.9M278.2 439.1V442.2M281.4 439.1V442.3M284.6 439.1V442.6M287.8 439.1V443.0M291.0 439.1V442.9M294.2 439.1V443.7M297.4 439.1V443.9M300.6 439.1V444.0M303.8 439.1V443.5M307.1 439.1V444.1M310.3 439.1V445.2M313.5 439.1V445.0M316.7 439.1V445.8M319.9 439.1V446.9M323.1 439.1V446.4M326.3 439.1V447.3M329.5 439.1V446.8M332.7 439.1V446.5" stroke="#c44e52" stroke-width="2.2" fill="none"/>
<rect x="66.90" y="437.10" width="57.50" height="2.60" fill="#808080"/>
<rect x="133.90" y="437.10" width="79.80" height="2.60" fill="#808080"/>
<rect x="303.00" y="437.10" width="18.80" height="2.60" fill="#808080"/>
<path d="M14.8 439.6 C15.6 439.8 18.0 440.7 19.6 440.7 C21.2 440.7 22.1 440.2 24.5 439.9 C26.9 439.6 30.5 439.3 34.1 439.1 C37.7 438.9 42.1 439.0 46.1 438.9 C50.1 438.9 54.6 438.9 58.2 438.9 C61.8 439.0 65.0 438.7 67.8 439.1 C70.6 439.5 72.6 440.3 75.0 441.6 C77.4 442.8 80.3 445.2 82.3 446.4 C84.3 447.6 85.5 448.4 87.1 448.7 C88.7 449.0 89.5 448.6 91.9 448.1 C94.3 447.6 98.4 446.5 101.6 445.7 C104.8 444.9 108.0 444.0 111.2 443.2 C114.4 442.4 117.6 441.4 120.8 440.8 C124.0 440.2 127.7 439.6 130.5 439.5 C133.3 439.4 135.3 438.7 137.7 440.1 C140.1 441.5 143.0 445.0 145.0 448.1 C147.0 451.2 148.6 455.9 149.8 458.9 C151.0 461.9 151.2 463.1 152.2 466.2 C153.2 469.2 153.8 474.6 155.8 477.1 C157.8 479.6 161.2 480.3 164.2 481.2 C167.2 482.0 170.8 482.4 173.9 482.4 C177.0 482.5 180.1 482.3 183.0 481.4 C185.9 480.4 189.0 479.1 191.3 476.6 C193.6 474.0 195.1 470.1 197.0 465.9 C198.9 461.6 200.7 455.1 203.0 450.9 C205.3 446.6 208.1 442.3 210.6 440.2 C213.1 438.1 214.9 438.7 218.0 438.3 C221.1 437.9 225.7 437.5 229.0 437.5 C232.3 437.5 234.9 438.1 238.0 438.6 C241.1 439.0 241.9 439.6 247.4 440.2 C252.9 440.7 261.6 441.2 271.0 441.8 C280.4 442.4 296.8 443.3 304.0 443.9 C311.2 444.5 311.0 445.0 314.0 445.5 C317.0 446.0 319.0 446.7 322.0 446.9 C325.0 447.0 330.5 446.6 332.2 446.6" fill="none" stroke="#c44e52" stroke-width="1.2"/>
<path d="M31.4 503.4V507.2M34.6 503.4V508.0M37.8 503.4V510.1M41.0 503.4V511.9M44.2 503.4V512.1M47.4 503.4V512.6M50.7 503.4V513.6M53.9 503.4V513.6M57.1 503.4V513.4M60.3 503.4V512.5M63.5 503.4V512.7M66.7 503.4V513.3M69.9 503.4V513.6M73.1 503.4V514.7M76.3 503.4V517.2M79.5 503.4V516.5M82.7 503.4V517.1M85.9 503.4V515.5M89.1 503.4V516.0M92.3 503.4V513.6M95.5 503.4V510.8M98.7 503.4V509.9M101.9 503.4V510.0M105.1 503.4V508.9M108.3 503.4V509.5M111.6 503.4V508.7M114.8 503.4V509.1M118.0 503.4V509.4M121.2 503.4V509.0M124.4 503.4V509.5M127.6 503.4V509.7M130.8 503.4V510.0M134.0 503.4V510.4M137.2 503.4V511.9M140.4 503.4V514.6M143.6 503.4V518.0M146.8 503.4V523.8M150.0 503.4V530.7M153.2 503.4V533.0M156.4 503.4V533.7M159.6 503.4V540.9M162.8 503.4V540.7M166.0 503.4V542.5M169.2 503.4V542.9M172.4 503.4V541.7M175.7 503.4V538.1M178.9 503.4V534.7M182.1 503.4V539.6M185.3 503.4V535.2M188.5 503.4V535.5M191.7 503.4V535.1M194.9 503.4V527.8M198.1 503.4V521.9M201.3 503.4V519.5M204.5 503.4V513.9M207.7 503.4V510.4M210.9 503.4V509.8M214.1 503.4V507.9M217.3 503.4V507.2M243.0 503.4V507.9M246.2 503.4V508.5M249.4 503.4V510.5M252.6 503.4V511.5M255.8 503.4V511.4M259.0 503.4V513.3M262.2 503.4V514.6M265.4 503.4V513.6M268.6 503.4V511.3M271.8 503.4V509.7M275.0 503.4V508.1M310.3 503.4V507.1M313.5 503.4V508.5M316.7 503.4V508.3M319.9 503.4V509.6M323.1 503.4V509.2M326.3 503.4V509.5M329.5 503.4V509.4M332.7 503.4V509.1" stroke="#f4f1e3" stroke-width="3.2" fill="none"/>
<path d="M31.4 503.4V507.2M34.6 503.4V508.0M37.8 503.4V510.1M41.0 503.4V511.9M44.2 503.4V512.1M47.4 503.4V512.6M50.7 503.4V513.6M53.9 503.4V513.6M57.1 503.4V513.4M60.3 503.4V512.5M63.5 503.4V512.7M66.7 503.4V513.3M69.9 503.4V513.6M73.1 503.4V514.7M76.3 503.4V517.2M79.5 503.4V516.5M82.7 503.4V517.1M85.9 503.4V515.5M89.1 503.4V516.0M92.3 503.4V513.6M95.5 503.4V510.8M98.7 503.4V509.9M101.9 503.4V510.0M105.1 503.4V508.9M108.3 503.4V509.5M111.6 503.4V508.7M114.8 503.4V509.1M118.0 503.4V509.4M121.2 503.4V509.0M124.4 503.4V509.5M127.6 503.4V509.7M130.8 503.4V510.0M134.0 503.4V510.4M137.2 503.4V511.9M140.4 503.4V514.6M143.6 503.4V518.0M146.8 503.4V523.8M150.0 503.4V530.7M153.2 503.4V533.0M156.4 503.4V533.7M159.6 503.4V540.9M162.8 503.4V540.7M166.0 503.4V542.5M169.2 503.4V542.9M172.4 503.4V541.7M175.7 503.4V538.1M178.9 503.4V534.7M182.1 503.4V539.6M185.3 503.4V535.2M188.5 503.4V535.5M191.7 503.4V535.1M194.9 503.4V527.8M198.1 503.4V521.9M201.3 503.4V519.5M204.5 503.4V513.9M207.7 503.4V510.4M210.9 503.4V509.8M214.1 503.4V507.9M217.3 503.4V507.2M243.0 503.4V507.9M246.2 503.4V508.5M249.4 503.4V510.5M252.6 503.4V511.5M255.8 503.4V511.4M259.0 503.4V513.3M262.2 503.4V514.6M265.4 503.4V513.6M268.6 503.4V511.3M271.8 503.4V509.7M275.0 503.4V508.1M310.3 503.4V507.1M313.5 503.4V508.5M316.7 503.4V508.3M319.9 503.4V509.6M323.1 503.4V509.2M326.3 503.4V509.5M329.5 503.4V509.4M332.7 503.4V509.1" stroke="#ccb974" stroke-width="2.2" fill="none"/>
<rect x="66.60" y="502.10" width="28.20" height="2.60" fill="#808080"/>
<rect x="137.00" y="502.10" width="85.60" height="2.60" fill="#808080"/>
<path d="M14.8 503.9 C16.4 504.0 21.3 503.8 24.5 504.4 C27.7 505.1 31.3 506.3 34.1 507.6 C36.9 508.8 38.5 511.0 41.3 511.9 C44.1 512.8 47.8 513.1 51.0 513.1 C54.2 513.1 57.8 512.0 60.6 511.9 C63.4 511.8 65.4 511.9 67.8 512.6 C70.2 513.2 72.6 515.2 75.0 515.8 C77.4 516.5 79.9 516.7 82.3 516.4 C84.7 516.0 87.1 514.9 89.5 513.9 C91.9 512.8 93.9 510.9 96.7 510.1 C99.5 509.3 102.8 509.1 106.4 508.9 C110.0 508.7 114.4 508.8 118.4 508.9 C122.4 509.0 127.3 509.0 130.5 509.4 C133.7 509.8 135.9 510.6 137.7 511.3 C139.4 511.9 139.8 511.7 141.0 513.2 C142.2 514.8 143.7 517.9 145.0 520.4 C146.3 522.9 147.6 526.2 149.0 528.3 C150.4 530.3 151.6 531.3 153.4 532.7 C155.2 534.2 157.5 535.7 160.0 536.8 C162.5 537.9 165.2 539.1 168.5 539.2 C171.8 539.3 176.3 538.4 180.0 537.5 C183.7 536.5 188.4 535.1 190.9 533.5 C193.4 532.0 193.5 530.9 195.0 528.3 C196.5 525.7 198.0 521.0 200.0 518.1 C202.0 515.1 204.3 512.6 207.2 510.7 C210.0 508.9 214.4 508.0 217.1 506.9 C219.8 505.9 221.0 505.0 223.3 504.3 C225.6 503.7 228.5 502.9 230.8 503.0 C233.1 503.1 234.7 503.9 237.0 504.7 C239.3 505.6 241.5 506.9 244.4 508.1 C247.3 509.3 251.1 511.2 254.4 512.0 C257.7 512.9 261.4 513.9 264.3 513.5 C267.2 513.1 268.8 511.0 271.7 509.4 C274.6 507.9 278.0 505.5 281.7 504.3 C285.4 503.1 290.3 502.3 294.0 502.2 C297.7 502.1 300.7 502.8 304.0 503.8 C307.3 504.8 310.6 507.2 313.9 508.1 C317.2 509.1 320.7 509.3 323.8 509.4 C326.9 509.6 331.1 509.0 332.5 508.9" fill="none" stroke="#ccb974" stroke-width="1.2"/>
<path d="M15.4 563.2V570.8M18.6 563.2V572.5M21.8 563.2V574.7M25.0 563.2V575.4M28.2 563.2V575.3M31.4 563.2V574.7M34.6 563.2V575.0M37.8 563.2V574.3M41.0 563.2V572.9M44.2 563.2V573.3M47.4 563.2V574.3M50.7 563.2V572.7M53.9 563.2V571.0M57.1 563.2V569.8M60.3 563.2V570.0M63.5 563.2V569.0M66.7 563.2V568.5M69.9 563.2V569.1M73.1 563.2V568.4M76.3 563.2V571.7M79.5 563.2V572.8M82.7 563.2V574.0M85.9 563.2V575.1M89.1 563.2V577.5M92.3 563.2V576.1M95.5 563.2V575.5M98.7 563.2V572.5M101.9 563.2V569.9M105.1 563.2V570.0M108.3 563.2V569.3M111.6 563.2V568.1M114.8 563.2V568.1M118.0 563.2V567.9M121.2 563.2V569.0M124.4 563.2V568.7M127.6 563.2V570.1M130.8 563.2V570.3M134.0 563.2V571.2M137.2 563.2V571.7M140.4 563.2V575.3M143.6 563.2V577.9M146.8 563.2V581.5M150.0 563.2V586.2M153.2 563.2V589.9M156.4 563.2V601.6M159.6 563.2V601.6M162.8 563.2V593.7M166.0 563.2V596.5M169.2 563.2V598.6M172.4 563.2V597.5M175.7 563.2V599.1M178.9 563.2V597.5M182.1 563.2V595.8M185.3 563.2V593.5M188.5 563.2V587.5M191.7 563.2V588.1M194.9 563.2V580.0M198.1 563.2V578.7M201.3 563.2V572.7M204.5 563.2V571.6M207.7 563.2V569.3M210.9 563.2V568.7M214.1 563.2V567.8M217.3 563.2V567.7M220.5 563.2V568.8M223.7 563.2V568.0M226.9 563.2V567.0M230.1 563.2V566.5M233.3 563.2V566.5M236.5 563.2V568.2M239.8 563.2V567.7M243.0 563.2V568.7M246.2 563.2V570.6M249.4 563.2V570.4M252.6 563.2V572.3M255.8 563.2V573.5M259.0 563.2V573.3M262.2 563.2V572.6M265.4 563.2V571.5M268.6 563.2V570.8M271.8 563.2V572.0M275.0 563.2V572.9M278.2 563.2V573.2M281.4 563.2V575.7M284.6 563.2V573.4M287.8 563.2V573.8M291.0 563.2V572.1M294.2 563.2V575.7M297.4 563.2V573.9M300.6 563.2V573.7M303.8 563.2V573.6M307.1 563.2V572.5M310.3 563.2V572.6M313.5 563.2V573.0M316.7 563.2V571.7M319.9 563.2V572.1M323.1 563.2V572.4M326.3 563.2V572.1M329.5 563.2V572.5M332.7 563.2V572.3" stroke="#dbe2ef" stroke-width="3.2" fill="none"/>
<path d="M15.4 563.2V570.8M18.6 563.2V572.5M21.8 563.2V574.7M25.0 563.2V575.4M28.2 563.2V575.3M31.4 563.2V574.7M34.6 563.2V575.0M37.8 563.2V574.3M41.0 563.2V572.9M44.2 563.2V573.3M47.4 563.2V574.3M50.7 563.2V572.7M53.9 563.2V571.0M57.1 563.2V569.8M60.3 563.2V570.0M63.5 563.2V569.0M66.7 563.2V568.5M69.9 563.2V569.1M73.1 563.2V568.4M76.3 563.2V571.7M79.5 563.2V572.8M82.7 563.2V574.0M85.9 563.2V575.1M89.1 563.2V577.5M92.3 563.2V576.1M95.5 563.2V575.5M98.7 563.2V572.5M101.9 563.2V569.9M105.1 563.2V570.0M108.3 563.2V569.3M111.6 563.2V568.1M114.8 563.2V568.1M118.0 563.2V567.9M121.2 563.2V569.0M124.4 563.2V568.7M127.6 563.2V570.1M130.8 563.2V570.3M134.0 563.2V571.2M137.2 563.2V571.7M140.4 563.2V575.3M143.6 563.2V577.9M146.8 563.2V581.5M150.0 563.2V586.2M153.2 563.2V589.9M156.4 563.2V601.6M159.6 563.2V601.6M162.8 563.2V593.7M166.0 563.2V596.5M169.2 563.2V598.6M172.4 563.2V597.5M175.7 563.2V599.1M178.9 563.2V597.5M182.1 563.2V595.8M185.3 563.2V593.5M188.5 563.2V587.5M191.7 563.2V588.1M194.9 563.2V580.0M198.1 563.2V578.7M201.3 563.2V572.7M204.5 563.2V571.6M207.7 563.2V569.3M210.9 563.2V568.7M214.1 563.2V567.8M217.3 563.2V567.7M220.5 563.2V568.8M223.7 563.2V568.0M226.9 563.2V567.0M230.1 563.2V566.5M233.3 563.2V566.5M236.5 563.2V568.2M239.8 563.2V567.7M243.0 563.2V568.7M246.2 563.2V570.6M249.4 563.2V570.4M252.6 563.2V572.3M255.8 563.2V573.5M259.0 563.2V573.3M262.2 563.2V572.6M265.4 563.2V571.5M268.6 563.2V570.8M271.8 563.2V572.0M275.0 563.2V572.9M278.2 563.2V573.2M281.4 563.2V575.7M284.6 563.2V573.4M287.8 563.2V573.8M291.0 563.2V572.1M294.2 563.2V575.7M297.4 563.2V573.9M300.6 563.2V573.7M303.8 563.2V573.6M307.1 563.2V572.5M310.3 563.2V572.6M313.5 563.2V573.0M316.7 563.2V571.7M319.9 563.2V572.1M323.1 563.2V572.4M326.3 563.2V572.1M329.5 563.2V572.5M332.7 563.2V572.3" stroke="#4c72b0" stroke-width="2.2" fill="none"/>
<rect x="73.10" y="561.90" width="38.10" height="2.60" fill="#808080"/>
<rect x="130.50" y="561.90" width="76.20" height="2.60" fill="#808080"/>
<path d="M14.8 571.2 C16.4 571.6 21.3 573.2 24.5 573.8 C27.7 574.3 30.5 574.5 34.1 574.4 C37.7 574.3 42.1 574.0 46.1 573.3 C50.1 572.6 54.6 570.9 58.2 570.1 C61.8 569.3 65.4 568.5 67.8 568.3 C70.2 568.2 70.7 568.4 72.7 569.3 C74.7 570.2 77.5 572.6 79.9 573.8 C82.3 574.9 84.7 576.0 87.1 576.2 C89.5 576.3 91.5 575.9 94.3 574.9 C97.1 573.9 100.8 571.3 104.0 570.1 C107.2 568.9 110.0 568.0 113.6 567.7 C117.2 567.4 123.0 567.9 125.7 568.3 C128.4 568.7 128.4 569.4 130.0 569.9 C131.6 570.4 133.1 570.4 135.0 571.2 C136.9 572.0 139.7 573.0 141.7 574.6 C143.7 576.2 145.1 578.3 147.0 580.8 C148.9 583.3 151.5 587.1 153.4 589.8 C155.3 592.4 156.7 595.4 158.6 596.8 C160.5 598.2 162.0 598.7 165.0 598.4 C168.0 598.1 172.8 596.3 176.7 595.2 C180.6 594.1 185.8 593.3 188.4 592.0 C191.0 590.7 190.8 589.1 192.0 587.2 C193.2 585.3 193.7 582.8 195.4 580.3 C197.1 577.8 200.0 574.1 202.4 572.2 C204.8 570.2 207.1 569.3 210.0 568.6 C212.9 568.0 215.9 568.5 219.6 568.2 C223.3 567.8 228.7 566.5 232.0 566.4 C235.3 566.3 236.6 566.5 239.5 567.4 C242.4 568.3 246.1 571.0 249.4 571.8 C252.7 572.7 256.0 572.4 259.3 572.3 C262.6 572.2 266.0 571.1 269.3 571.4 C272.6 571.6 275.1 573.5 279.2 573.9 C283.3 574.3 289.0 574.1 294.0 573.9 C299.0 573.7 304.0 573.2 309.0 572.8 C314.0 572.4 320.1 571.6 323.8 571.4 C327.5 571.1 330.1 571.4 331.3 571.4" fill="none" stroke="#4c72b0" stroke-width="1.2"/>
<path d="M361.0 460.7V458.7M364.2 460.7V457.1M367.4 460.7V456.3M370.6 460.7V455.5M373.8 460.7V454.1M377.0 460.7V455.8M380.2 460.7V454.5M383.4 460.7V454.5M386.7 460.7V454.9M389.9 460.7V454.7M393.1 460.7V454.8M396.3 460.7V453.5M399.5 460.7V455.8M402.7 460.7V456.5M405.9 460.7V456.5M409.1 460.7V458.2M412.3 460.7V458.6M415.5 460.7V458.6M418.7 460.7V459.5M421.9 460.7V460.2M431.6 460.7V461.7M434.8 460.7V462.0M438.0 460.7V461.9M441.2 460.7V461.3M447.6 460.7V460.0M450.8 460.7V460.0M457.2 460.7V461.7M460.4 460.7V463.5M463.6 460.7V463.8M466.8 460.7V466.9M470.0 460.7V465.9M473.2 460.7V467.6M476.5 460.7V467.0M479.7 460.7V467.4M482.9 460.7V466.0M486.1 460.7V466.5M489.3 460.7V467.8M492.5 460.7V468.8M495.7 460.7V468.4M498.9 460.7V469.7M502.1 460.7V468.5M505.3 460.7V471.1M508.5 460.7V470.9M511.7 460.7V471.4M514.9 460.7V473.9M518.1 460.7V473.0M521.4 460.7V472.9M524.6 460.7V474.0M527.8 460.7V473.3M531.0 460.7V471.8M534.2 460.7V471.1M537.4 460.7V469.7M540.6 460.7V468.7M543.8 460.7V467.1M547.0 460.7V465.9M550.2 460.7V463.0M553.4 460.7V461.2M563.0 460.7V459.7M566.2 460.7V459.7M569.5 460.7V459.3M572.7 460.7V459.2M575.9 460.7V456.0M579.1 460.7V459.1M582.3 460.7V459.0M585.5 460.7V458.5M588.7 460.7V458.3M591.9 460.7V457.3M595.1 460.7V456.4M598.3 460.7V455.6M601.5 460.7V455.8M604.7 460.7V455.8M607.9 460.7V455.8M611.1 460.7V456.9M614.4 460.7V457.6M617.6 460.7V459.1M624.0 460.7V462.5M627.2 460.7V462.5M630.4 460.7V464.0M633.6 460.7V465.4M636.8 460.7V465.5M640.0 460.7V465.2M643.2 460.7V465.8M646.4 460.7V466.0M649.6 460.7V465.9M652.8 460.7V467.2M656.0 460.7V466.7M659.3 460.7V468.4M662.5 460.7V467.4M665.7 460.7V468.0M668.9 460.7V468.5M672.1 460.7V470.0M675.3 460.7V467.7M678.5 460.7V472.2" stroke="#f3dbdc" stroke-width="3.2" fill="none"/>
<path d="M361.0 460.7V458.7M364.2 460.7V457.1M367.4 460.7V456.3M370.6 460.7V455.5M373.8 460.7V454.1M377.0 460.7V455.8M380.2 460.7V454.5M383.4 460.7V454.5M386.7 460.7V454.9M389.9 460.7V454.7M393.1 460.7V454.8M396.3 460.7V453.5M399.5 460.7V455.8M402.7 460.7V456.5M405.9 460.7V456.5M409.1 460.7V458.2M412.3 460.7V458.6M415.5 460.7V458.6M418.7 460.7V459.5M421.9 460.7V460.2M431.6 460.7V461.7M434.8 460.7V462.0M438.0 460.7V461.9M441.2 460.7V461.3M447.6 460.7V460.0M450.8 460.7V460.0M457.2 460.7V461.7M460.4 460.7V463.5M463.6 460.7V463.8M466.8 460.7V466.9M470.0 460.7V465.9M473.2 460.7V467.6M476.5 460.7V467.0M479.7 460.7V467.4M482.9 460.7V466.0M486.1 460.7V466.5M489.3 460.7V467.8M492.5 460.7V468.8M495.7 460.7V468.4M498.9 460.7V469.7M502.1 460.7V468.5M505.3 460.7V471.1M508.5 460.7V470.9M511.7 460.7V471.4M514.9 460.7V473.9M518.1 460.7V473.0M521.4 460.7V472.9M524.6 460.7V474.0M527.8 460.7V473.3M531.0 460.7V471.8M534.2 460.7V471.1M537.4 460.7V469.7M540.6 460.7V468.7M543.8 460.7V467.1M547.0 460.7V465.9M550.2 460.7V463.0M553.4 460.7V461.2M563.0 460.7V459.7M566.2 460.7V459.7M569.5 460.7V459.3M572.7 460.7V459.2M575.9 460.7V456.0M579.1 460.7V459.1M582.3 460.7V459.0M585.5 460.7V458.5M588.7 460.7V458.3M591.9 460.7V457.3M595.1 460.7V456.4M598.3 460.7V455.6M601.5 460.7V455.8M604.7 460.7V455.8M607.9 460.7V455.8M611.1 460.7V456.9M614.4 460.7V457.6M617.6 460.7V459.1M624.0 460.7V462.5M627.2 460.7V462.5M630.4 460.7V464.0M633.6 460.7V465.4M636.8 460.7V465.5M640.0 460.7V465.2M643.2 460.7V465.8M646.4 460.7V466.0M649.6 460.7V465.9M652.8 460.7V467.2M656.0 460.7V466.7M659.3 460.7V468.4M662.5 460.7V467.4M665.7 460.7V468.0M668.9 460.7V468.5M672.1 460.7V470.0M675.3 460.7V467.7M678.5 460.7V472.2" stroke="#c44e52" stroke-width="2.2" fill="none"/>
<rect x="492.80" y="459.40" width="63.20" height="2.60" fill="#808080"/>
<path d="M360.3 458.5 C361.4 458.1 364.7 456.6 367.0 456.0 C369.3 455.3 371.5 454.9 374.3 454.6 C377.1 454.3 380.7 454.0 383.9 454.1 C387.1 454.1 390.4 454.4 393.6 454.8 C396.8 455.2 400.0 455.9 403.2 456.5 C406.4 457.1 409.2 457.8 412.8 458.5 C416.4 459.1 421.3 459.8 424.9 460.4 C428.5 460.9 431.7 461.7 434.5 461.9 C437.3 462.0 439.3 461.7 441.7 461.3 C444.1 461.0 446.6 459.9 449.0 459.9 C451.4 459.9 454.2 460.7 456.2 461.3 C458.2 462.0 459.0 462.9 461.0 463.7 C463.0 464.6 465.5 465.6 468.3 466.2 C471.1 466.8 474.7 467.1 477.9 467.3 C481.1 467.5 484.7 467.1 487.5 467.3 C490.3 467.5 492.0 468.0 494.8 468.6 C497.6 469.2 501.0 470.2 504.4 471.0 C507.8 471.8 511.6 472.8 515.0 473.4 C518.4 474.0 521.6 475.1 524.9 474.7 C528.2 474.3 531.6 472.4 534.9 471.0 C538.2 469.5 541.5 467.6 544.8 465.9 C548.1 464.3 551.4 462.0 554.7 461.0 C558.0 460.0 561.3 460.1 564.6 459.8 C567.9 459.4 571.3 459.2 574.6 459.0 C577.9 458.8 581.2 459.0 584.5 458.6 C587.8 458.2 591.1 457.3 594.4 456.8 C597.7 456.3 601.0 455.4 604.3 455.6 C607.6 455.7 611.0 456.6 614.3 457.8 C617.6 458.9 620.9 461.1 624.2 462.3 C627.5 463.4 630.8 464.2 634.1 464.8 C637.4 465.4 640.7 465.5 644.0 465.9 C647.3 466.4 650.7 466.8 654.0 467.2 C657.3 467.6 659.8 467.8 663.9 468.5 C668.0 469.1 676.3 470.6 678.8 471.0" fill="none" stroke="#c44e52" stroke-width="1.2"/>
<path d="M361.0 522.4V519.8M367.4 522.4V537.8M370.6 522.4V537.8M373.8 522.4V531.3M377.0 522.4V532.4M380.2 522.4V531.3M383.4 522.4V530.3M386.7 522.4V526.9M389.9 522.4V525.5M402.7 522.4V528.2M405.9 522.4V521.4M412.3 522.4V525.5M418.7 522.4V523.2M421.9 522.4V523.7M425.1 522.4V524.8M428.3 522.4V527.1M431.6 522.4V528.1M434.8 522.4V529.0M438.0 522.4V531.0M441.2 522.4V532.8M444.4 522.4V533.5M447.6 522.4V532.7M450.8 522.4V529.9M454.0 522.4V533.5M457.2 522.4V529.7M460.4 522.4V531.0M463.6 522.4V528.6M466.8 522.4V528.0M470.0 522.4V525.9M473.2 522.4V525.3M476.5 522.4V523.0M482.9 522.4V521.9M486.1 522.4V522.0M492.5 522.4V522.9M495.7 522.4V524.4M498.9 522.4V526.4M502.1 522.4V527.2M505.3 522.4V528.7M508.5 522.4V532.5M511.7 522.4V531.1M514.9 522.4V536.2M518.1 522.4V531.7M521.4 522.4V532.0M524.6 522.4V530.3M527.8 522.4V530.7M531.0 522.4V527.8M534.2 522.4V528.1M537.4 522.4V526.8M540.6 522.4V525.8M543.8 522.4V524.2M547.0 522.4V523.7M556.6 522.4V523.0M559.8 522.4V523.8M563.0 522.4V523.8M566.2 522.4V524.2M569.5 522.4V525.1M572.7 522.4V526.2M575.9 522.4V526.9M579.1 522.4V526.8M582.3 522.4V525.7M585.5 522.4V524.7M588.7 522.4V524.5M591.9 522.4V524.6M595.1 522.4V524.4M598.3 522.4V524.2M601.5 522.4V524.4M604.7 522.4V524.6M607.9 522.4V524.8M611.1 522.4V524.7M614.4 522.4V525.4M617.6 522.4V526.5M620.8 522.4V525.8M624.0 522.4V525.9M627.2 522.4V528.7M630.4 522.4V528.3M633.6 522.4V529.2M636.8 522.4V529.8M640.0 522.4V528.5M643.2 522.4V533.1M646.4 522.4V532.5M649.6 522.4V531.1M652.8 522.4V532.4M656.0 522.4V534.7M659.3 522.4V530.6M662.5 522.4V531.9M665.7 522.4V533.0M668.9 522.4V534.5M672.1 522.4V534.5M675.3 522.4V532.0M678.5 522.4V533.6" stroke="#f4f1e3" stroke-width="3.2" fill="none"/>
<path d="M361.0 522.4V519.8M367.4 522.4V537.8M370.6 522.4V537.8M373.8 522.4V531.3M377.0 522.4V532.4M380.2 522.4V531.3M383.4 522.4V530.3M386.7 522.4V526.9M389.9 522.4V525.5M402.7 522.4V528.2M405.9 522.4V521.4M412.3 522.4V525.5M418.7 522.4V523.2M421.9 522.4V523.7M425.1 522.4V524.8M428.3 522.4V527.1M431.6 522.4V528.1M434.8 522.4V529.0M438.0 522.4V531.0M441.2 522.4V532.8M444.4 522.4V533.5M447.6 522.4V532.7M450.8 522.4V529.9M454.0 522.4V533.5M457.2 522.4V529.7M460.4 522.4V531.0M463.6 522.4V528.6M466.8 522.4V528.0M470.0 522.4V525.9M473.2 522.4V525.3M476.5 522.4V523.0M482.9 522.4V521.9M486.1 522.4V522.0M492.5 522.4V522.9M495.7 522.4V524.4M498.9 522.4V526.4M502.1 522.4V527.2M505.3 522.4V528.7M508.5 522.4V532.5M511.7 522.4V531.1M514.9 522.4V536.2M518.1 522.4V531.7M521.4 522.4V532.0M524.6 522.4V530.3M527.8 522.4V530.7M531.0 522.4V527.8M534.2 522.4V528.1M537.4 522.4V526.8M540.6 522.4V525.8M543.8 522.4V524.2M547.0 522.4V523.7M556.6 522.4V523.0M559.8 522.4V523.8M563.0 522.4V523.8M566.2 522.4V524.2M569.5 522.4V525.1M572.7 522.4V526.2M575.9 522.4V526.9M579.1 522.4V526.8M582.3 522.4V525.7M585.5 522.4V524.7M588.7 522.4V524.5M591.9 522.4V524.6M595.1 522.4V524.4M598.3 522.4V524.2M601.5 522.4V524.4M604.7 522.4V524.6M607.9 522.4V524.8M611.1 522.4V524.7M614.4 522.4V525.4M617.6 522.4V526.5M620.8 522.4V525.8M624.0 522.4V525.9M627.2 522.4V528.7M630.4 522.4V528.3M633.6 522.4V529.2M636.8 522.4V529.8M640.0 522.4V528.5M643.2 522.4V533.1M646.4 522.4V532.5M649.6 522.4V531.1M652.8 522.4V532.4M656.0 522.4V534.7M659.3 522.4V530.6M662.5 522.4V531.9M665.7 522.4V533.0M668.9 522.4V534.5M672.1 522.4V534.5M675.3 522.4V532.0M678.5 522.4V533.6" stroke="#ccb974" stroke-width="2.2" fill="none"/>
<rect x="361.00" y="521.10" width="35.40" height="2.60" fill="#808080"/>
<rect x="422.50" y="521.10" width="54.20" height="2.60" fill="#808080"/>
<rect x="492.80" y="521.10" width="54.00" height="2.60" fill="#808080"/>
<rect x="630.40" y="521.10" width="38.40" height="2.60" fill="#808080"/>
<path d="M360.3 525.8 C361.4 526.6 364.7 529.3 367.0 530.6 C369.3 531.9 371.9 533.1 374.3 533.4 C376.7 533.7 379.1 533.2 381.5 532.5 C383.9 531.8 386.3 530.4 388.7 529.3 C391.1 528.2 393.6 526.8 396.0 525.8 C398.4 524.7 400.4 523.4 403.2 522.8 C406.0 522.2 409.6 521.9 412.8 522.1 C416.0 522.2 419.3 522.8 422.5 523.8 C425.7 524.7 428.9 526.5 432.1 527.6 C435.3 528.8 438.5 530.0 441.7 530.6 C444.9 531.2 448.2 531.4 451.4 531.3 C454.6 531.2 457.8 531.0 461.0 530.1 C464.2 529.1 467.9 527.0 470.7 525.8 C473.5 524.5 475.5 523.0 477.9 522.4 C480.3 521.8 482.7 521.8 485.1 521.9 C487.5 521.9 489.9 522.2 492.3 522.8 C494.7 523.5 496.8 524.5 499.6 525.8 C502.4 527.1 506.6 529.6 509.2 530.6 C511.8 531.6 512.4 532.0 515.0 531.7 C517.6 531.5 521.6 530.1 524.9 529.2 C528.2 528.4 531.6 527.6 534.9 526.7 C538.2 525.8 541.9 524.5 544.8 523.8 C547.7 523.1 548.9 522.5 552.2 522.5 C555.5 522.5 560.5 523.1 564.6 523.8 C568.7 524.4 572.9 526.2 577.0 526.3 C581.1 526.4 586.1 524.7 589.4 524.3 C592.7 523.9 593.6 523.8 596.9 523.8 C600.2 523.8 605.2 524.0 609.3 524.3 C613.4 524.6 618.0 525.0 621.7 525.5 C625.4 526.1 627.9 526.8 631.6 527.4 C635.3 528.1 639.9 528.7 644.0 529.2 C648.1 529.7 652.3 530.2 656.4 530.5 C660.5 530.8 665.1 531.2 668.8 531.2 C672.5 531.2 677.1 530.6 678.8 530.5" fill="none" stroke="#ccb974" stroke-width="1.2"/>
<path d="M361.0 573.6V602.4M364.2 573.6V584.7M367.4 573.6V602.4M370.6 573.6V602.4M373.8 573.6V586.8M377.0 573.6V576.7M383.4 573.6V581.4M386.7 573.6V575.0M389.9 573.6V575.6M393.1 573.6V575.1M396.3 573.6V575.8M399.5 573.6V577.5M402.7 573.6V578.3M405.9 573.6V581.1M409.1 573.6V582.6M412.3 573.6V582.5M415.5 573.6V581.3M418.7 573.6V581.5M421.9 573.6V580.0M425.1 573.6V578.7M428.3 573.6V579.9M431.6 573.6V579.4M434.8 573.6V579.3M438.0 573.6V582.1M441.2 573.6V582.1M444.4 573.6V581.2M447.6 573.6V581.4M450.8 573.6V583.5M454.0 573.6V580.4M457.2 573.6V582.5M460.4 573.6V583.5M463.6 573.6V583.6M466.8 573.6V589.6M470.0 573.6V583.2M473.2 573.6V583.1M476.5 573.6V583.4M479.7 573.6V582.9M482.9 573.6V584.4M486.1 573.6V584.4M489.3 573.6V580.7M492.5 573.6V582.1M495.7 573.6V579.5M498.9 573.6V579.3M502.1 573.6V579.0M505.3 573.6V577.6M508.5 573.6V576.5M514.9 573.6V572.5M518.1 573.6V572.7M521.4 573.6V572.7M524.6 573.6V572.4M527.8 573.6V572.9M534.2 573.6V574.4M537.4 573.6V574.6M540.6 573.6V574.8M543.8 573.6V575.5M547.0 573.6V575.4M550.2 573.6V574.9M553.4 573.6V575.4M556.6 573.6V574.9M559.8 573.6V574.3M569.5 573.6V571.3M572.7 573.6V566.4M575.9 573.6V566.6M579.1 573.6V568.7M582.3 573.6V570.2M585.5 573.6V571.6M601.5 573.6V572.4M604.7 573.6V571.5M607.9 573.6V571.5M611.1 573.6V571.6M614.4 573.6V571.4M617.6 573.6V572.4M620.8 573.6V571.6M624.0 573.6V572.8M627.2 573.6V568.0M630.4 573.6V577.8M633.6 573.6V578.5M636.8 573.6V577.8M643.2 573.6V577.8M646.4 573.6V572.4M649.6 573.6V568.0M652.8 573.6V568.0M656.0 573.6V572.5M659.3 573.6V574.2M662.5 573.6V580.6M665.7 573.6V582.6M668.9 573.6V584.7M672.1 573.6V585.0M675.3 573.6V585.0M678.5 573.6V585.0" stroke="#dbe2ef" stroke-width="3.2" fill="none"/>
<path d="M361.0 573.6V602.4M364.2 573.6V584.7M367.4 573.6V602.4M370.6 573.6V602.4M373.8 573.6V586.8M377.0 573.6V576.7M383.4 573.6V581.4M386.7 573.6V575.0M389.9 573.6V575.6M393.1 573.6V575.1M396.3 573.6V575.8M399.5 573.6V577.5M402.7 573.6V578.3M405.9 573.6V581.1M409.1 573.6V582.6M412.3 573.6V582.5M415.5 573.6V581.3M418.7 573.6V581.5M421.9 573.6V580.0M425.1 573.6V578.7M428.3 573.6V579.9M431.6 573.6V579.4M434.8 573.6V579.3M438.0 573.6V582.1M441.2 573.6V582.1M444.4 573.6V581.2M447.6 573.6V581.4M450.8 573.6V583.5M454.0 573.6V580.4M457.2 573.6V582.5M460.4 573.6V583.5M463.6 573.6V583.6M466.8 573.6V589.6M470.0 573.6V583.2M473.2 573.6V583.1M476.5 573.6V583.4M479.7 573.6V582.9M482.9 573.6V584.4M486.1 573.6V584.4M489.3 573.6V580.7M492.5 573.6V582.1M495.7 573.6V579.5M498.9 573.6V579.3M502.1 573.6V579.0M505.3 573.6V577.6M508.5 573.6V576.5M514.9 573.6V572.5M518.1 573.6V572.7M521.4 573.6V572.7M524.6 573.6V572.4M527.8 573.6V572.9M534.2 573.6V574.4M537.4 573.6V574.6M540.6 573.6V574.8M543.8 573.6V575.5M547.0 573.6V575.4M550.2 573.6V574.9M553.4 573.6V575.4M556.6 573.6V574.9M559.8 573.6V574.3M569.5 573.6V571.3M572.7 573.6V566.4M575.9 573.6V566.6M579.1 573.6V568.7M582.3 573.6V570.2M585.5 573.6V571.6M601.5 573.6V572.4M604.7 573.6V571.5M607.9 573.6V571.5M611.1 573.6V571.6M614.4 573.6V571.4M617.6 573.6V572.4M620.8 573.6V571.6M624.0 573.6V572.8M627.2 573.6V568.0M630.4 573.6V577.8M633.6 573.6V578.5M636.8 573.6V577.8M643.2 573.6V577.8M646.4 573.6V572.4M649.6 573.6V568.0M652.8 573.6V568.0M656.0 573.6V572.5M659.3 573.6V574.2M662.5 573.6V580.6M665.7 573.6V582.6M668.9 573.6V584.7M672.1 573.6V585.0M675.3 573.6V585.0M678.5 573.6V585.0" stroke="#4c72b0" stroke-width="2.2" fill="none"/>
<path d="M360.3 597.0 C361.0 596.6 363.1 595.9 364.6 595.0 C366.1 594.1 367.9 593.0 369.5 591.4 C371.1 589.8 372.7 587.2 374.3 585.3 C375.9 583.4 377.1 581.5 379.1 580.0 C381.1 578.5 383.9 577.2 386.3 576.4 C388.7 575.6 391.2 575.2 393.6 575.3 C396.0 575.4 398.4 576.1 400.8 576.9 C403.2 577.7 405.6 579.5 408.0 580.0 C410.4 580.5 412.4 580.2 415.2 580.0 C418.0 579.8 421.7 578.8 424.9 578.6 C428.1 578.4 431.3 578.5 434.5 578.9 C437.7 579.3 441.0 580.8 444.2 581.0 C447.4 581.2 451.0 579.9 453.8 580.0 C456.6 580.1 458.2 581.3 461.0 581.8 C463.8 582.3 467.5 582.8 470.7 582.9 C473.9 583.0 477.1 582.8 480.3 582.5 C483.5 582.2 486.7 581.5 489.9 581.0 C493.1 580.4 496.8 580.0 499.6 579.3 C502.4 578.6 504.4 578.0 506.8 576.9 C509.2 575.8 511.0 573.5 514.0 572.8 C517.0 572.0 521.4 572.4 524.9 572.6 C528.4 572.9 531.6 573.9 534.9 574.3 C538.2 574.7 541.5 575.0 544.8 575.1 C548.1 575.2 551.4 575.1 554.7 574.9 C558.0 574.6 561.3 574.8 564.6 573.9 C567.9 573.0 571.7 569.9 574.6 569.4 C577.5 568.9 579.5 570.2 582.0 570.8 C584.5 571.5 586.9 572.9 589.4 573.3 C591.9 573.7 594.0 573.6 596.9 573.3 C599.8 573.1 603.1 572.0 606.8 571.8 C610.5 571.5 615.9 571.7 619.2 571.8 C622.5 571.9 624.2 572.2 626.7 572.6 C629.2 573.0 631.2 574.2 634.1 574.3 C637.0 574.4 641.3 574.1 644.0 573.3 C646.7 572.5 648.1 569.5 650.2 569.4 C652.3 569.3 654.1 571.3 656.4 572.6 C658.7 574.0 661.4 576.0 663.9 577.6 C666.4 579.3 668.8 581.5 671.3 582.5 C673.8 583.5 677.5 583.5 678.8 583.7" fill="none" stroke="#4c72b0" stroke-width="1.2"/>
<path d="M227.7 238.5l2.7 5h-5.4z" fill="#e69f00"/>
<text x="231.50" y="243.40" font-size="6.6" text-anchor="start" stroke="#111" stroke-width="0.18" fill="#111">A</text>
<path d="M239.6 241h5.4m-2.7-2.7v5.4" stroke="#56b4e9" stroke-width="0.95" fill="none"/>
<text x="246.30" y="243.40" font-size="6.6" text-anchor="start" stroke="#111" stroke-width="0.18" fill="#111">T</text>
<circle cx="256.20" cy="241.00" r="2.65" fill="#009e73"/>
<text x="259.80" y="243.40" font-size="6.6" text-anchor="start" stroke="#111" stroke-width="0.18" fill="#111">G</text>
<path d="M270.9 238.6l2.4 2.4-2.4 2.4-2.4-2.4z" fill="#f0e442"/>
<text x="274.40" y="243.40" font-size="6.6" text-anchor="start" stroke="#111" stroke-width="0.18" fill="#111">C</text>
<line x1="282.90" y1="241.00" x2="291.00" y2="241.00" stroke="#555" stroke-width="1.3"/>
<text x="291.80" y="243.10" font-size="6.1" text-anchor="start" stroke="#111" stroke-width="0.18" fill="#111">sig.</text>
<line x1="304.20" y1="241.00" x2="312.20" y2="241.00" stroke="#c4c4c4" stroke-width="1.3"/>
<text x="313.60" y="243.10" font-size="6.1" text-anchor="start" stroke="#111" stroke-width="0.18" fill="#111">not sig.</text>
</svg>
</body></html>
